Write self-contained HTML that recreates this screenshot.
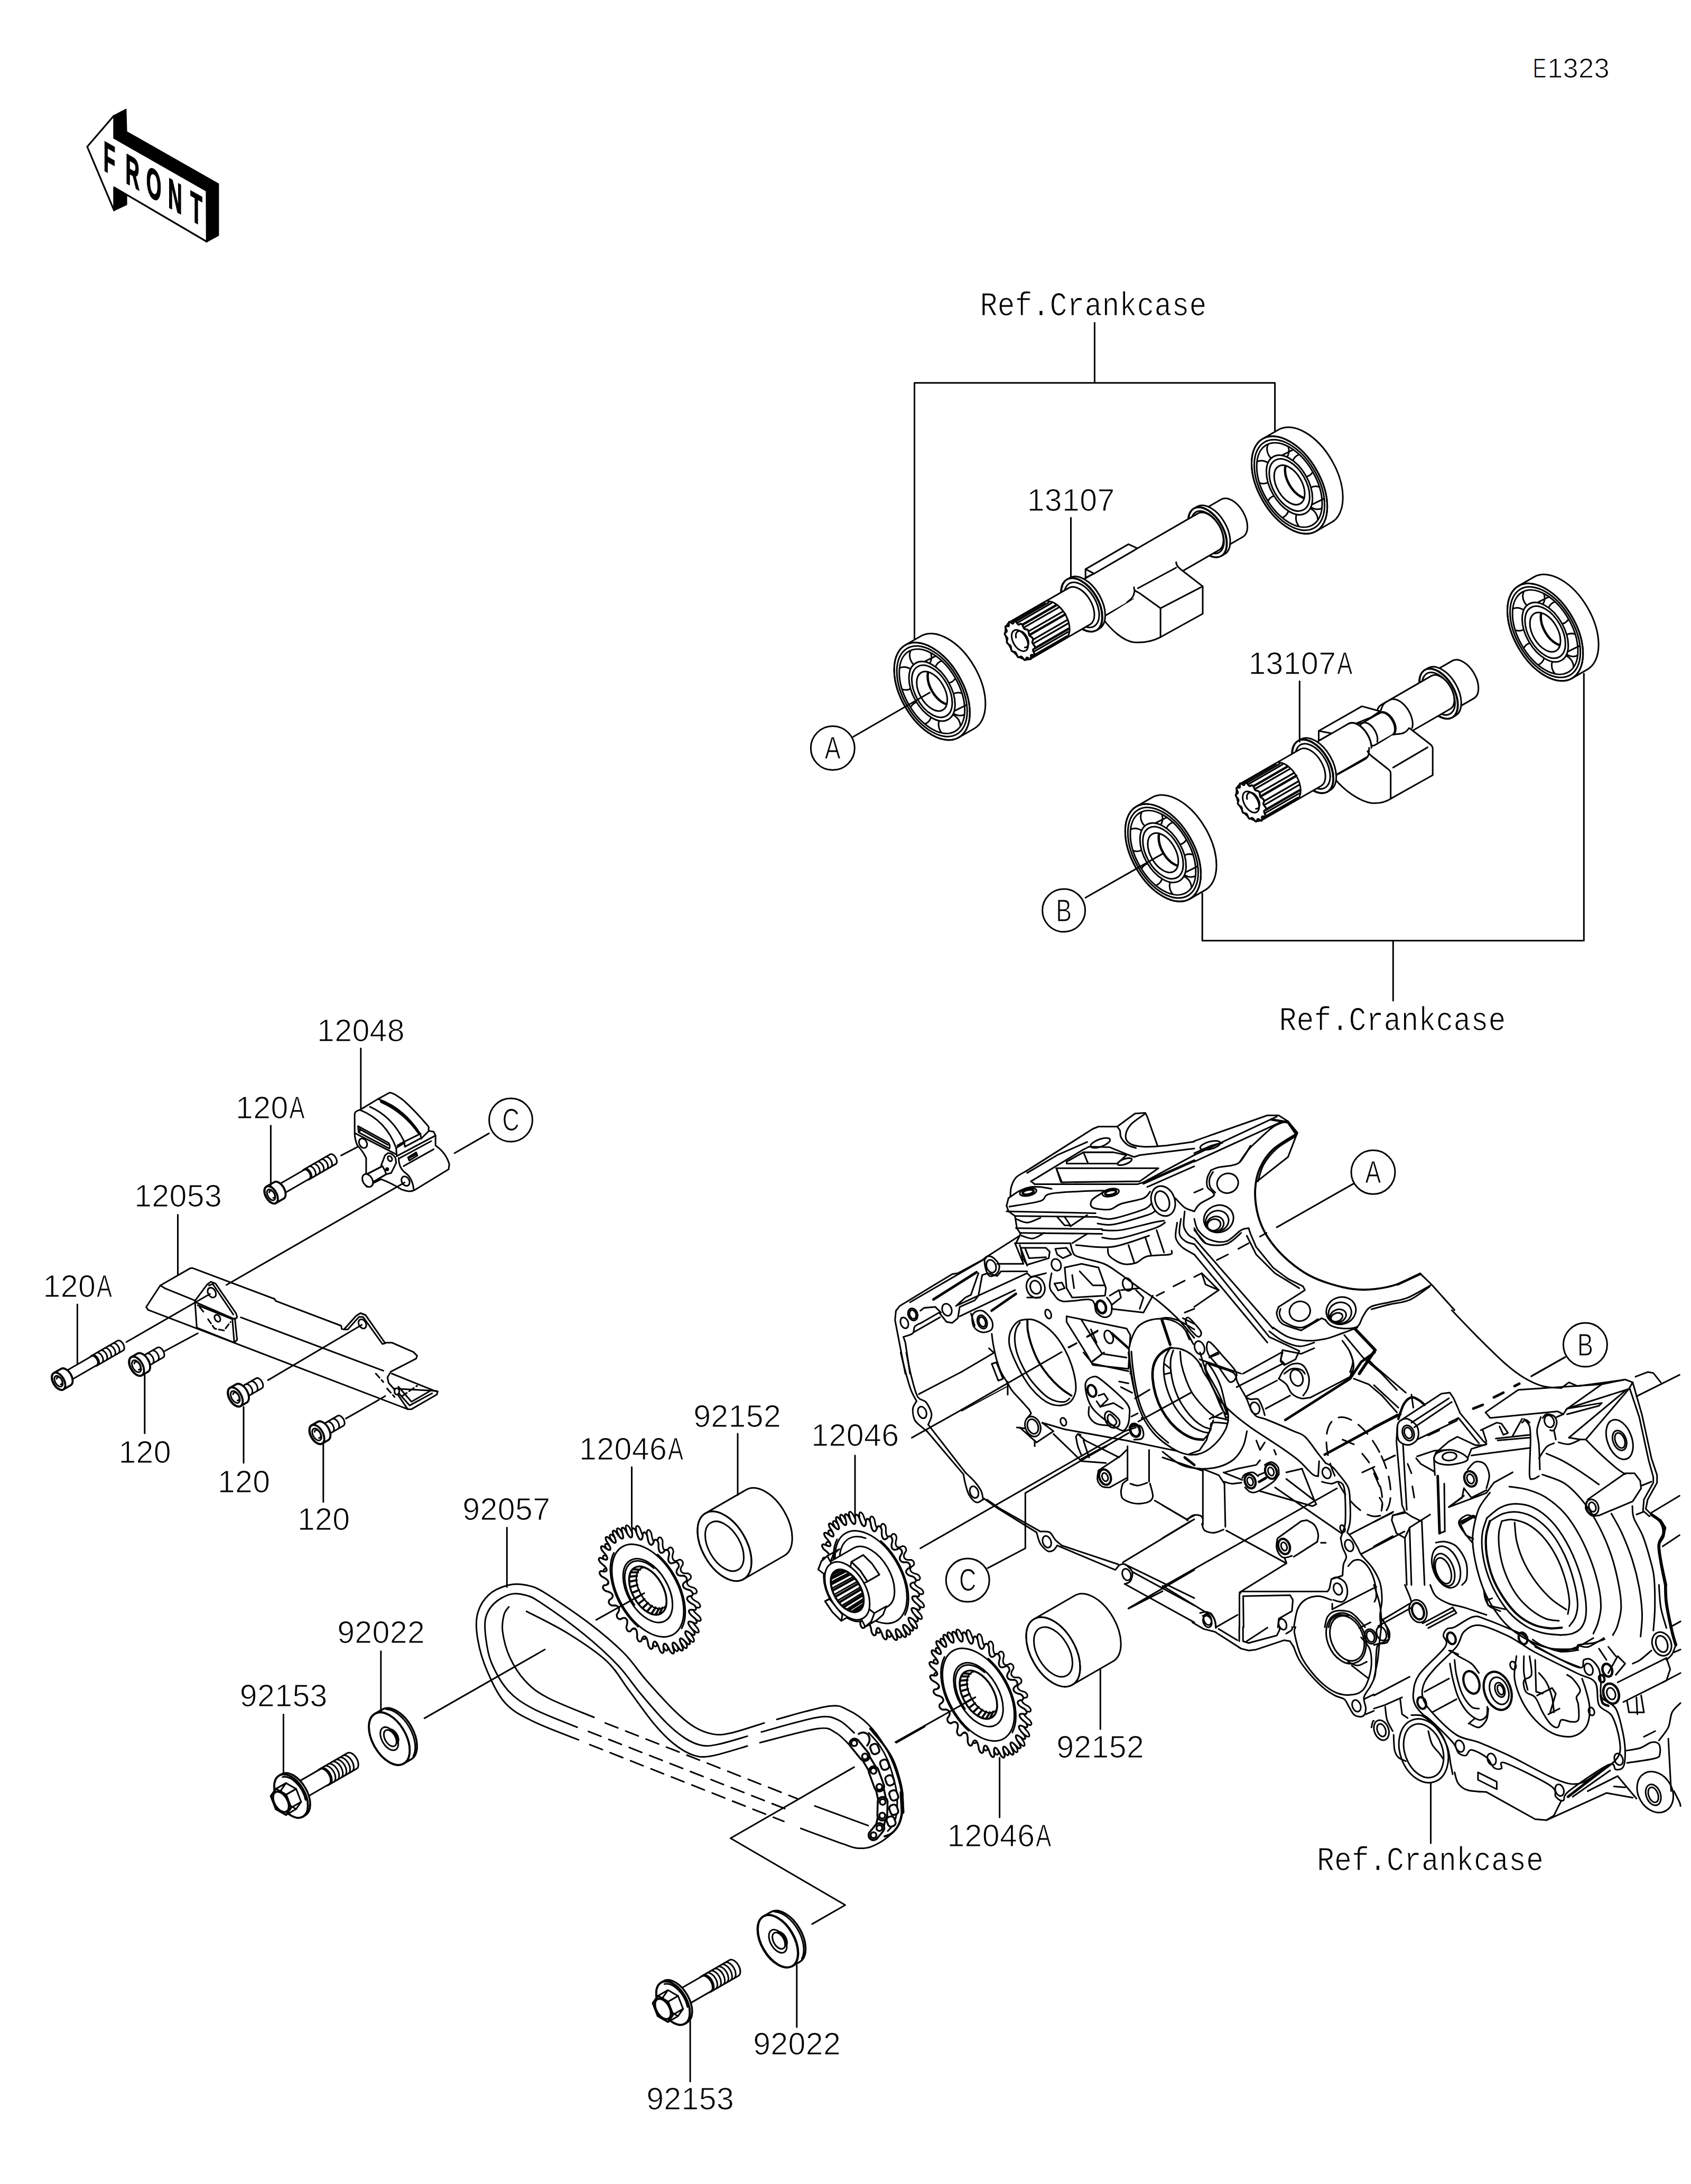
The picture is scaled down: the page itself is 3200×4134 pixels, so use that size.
<!DOCTYPE html>
<html><head><meta charset="utf-8"><title>E1323</title>
<style>
html,body{margin:0;padding:0;background:#fff}
body{width:3200px;height:4134px;overflow:hidden}
svg{display:block}
svg *{vector-effect:none}
.g{fill:none;stroke:#000;stroke-width:3;stroke-linecap:round;stroke-linejoin:round}
text{stroke:#fff;stroke-width:1.2px;fill:#000;stroke-linejoin:miter}
.n{font-family:"Liberation Sans",sans-serif;font-size:59px;letter-spacing:0.4px}
.m{font-family:"Liberation Mono",monospace;font-size:63px}
.c{font-family:"Liberation Sans",sans-serif;font-size:59px}
.f{font-family:"Liberation Sans",sans-serif;font-weight:bold;font-size:80px;stroke:#000;stroke-width:2px}
</style></head><body>
<svg width="3200" height="4134" viewBox="0 0 3200 4134">
<rect width="3200" height="4134" fill="#fff"/>
<g class="g">
<path d="M215.9 218.6L238.4 206.8L239.6 249.3L413.4 348.2L413.4 445.7L391.4 457.5L391 361.2L215.9 261.2Z" stroke-width="2" fill="#000"/>
<path d="M215.9 354.6L239.6 368.8L239.6 387.3L215.9 398.4Z" stroke-width="2" fill="#000"/>
<path d="M165 277.7L215.9 218.6L215.9 261.2L391 361.2L391.4 457.5L215.9 354.6L215.9 398.4Z" stroke-width="3.2" fill="#fff"/>
<text transform="matrix(0.46,0.2629,0,1,207,328.1)" x="0" y="0" text-anchor="middle" class="f">F</text>
<text transform="matrix(0.46,0.2629,0,1,250.8,353.1)" x="0" y="0" text-anchor="middle" class="f">R</text>
<text transform="matrix(0.46,0.2629,0,1,291,376.1)" x="0" y="0" text-anchor="middle" class="f">O</text>
<text transform="matrix(0.46,0.2629,0,1,331.2,399.1)" x="0" y="0" text-anchor="middle" class="f">N</text>
<text transform="matrix(0.46,0.2629,0,1,371.5,422.1)" x="0" y="0" text-anchor="middle" class="f">T</text>
<path d="M2389.6 830.5L2419.1 813.5A58.6 101 -30 0 1 2520.1 988.5L2490.6 1005.5A58.6 101 -30 0 1 2389.6 830.5Z" fill="#fff"/>
<path d="M2389.6 830.5A58.6 101 -30 0 1 2490.6 1005.5"/>
<ellipse cx="2440.1" cy="918" rx="58.6" ry="101" transform="rotate(-30 2440.1 918)"/>
<ellipse cx="2440.1" cy="918" rx="54.5" ry="93.9" transform="rotate(-30 2440.1 918)"/>
<ellipse cx="2440.1" cy="918" rx="50.7" ry="87.4" transform="rotate(-30 2440.1 918)"/>
<clipPath id="bc1"><ellipse cx="2440.1" cy="918" rx="50.7" ry="87.4" transform="rotate(-30 2440.1 918)"/></clipPath>
<g clip-path="url(#bc1)">
<ellipse cx="2418.4" cy="851.6" rx="20.2" ry="22.2" transform="rotate(-30 2418.4 851.6)"/>
<ellipse cx="2466" cy="881.3" rx="20.2" ry="22.2" transform="rotate(-30 2466 881.3)"/>
<ellipse cx="2491.5" cy="942.3" rx="20.2" ry="22.2" transform="rotate(-30 2491.5 942.3)"/>
<ellipse cx="2473.1" cy="982.6" rx="20.2" ry="22.2" transform="rotate(-30 2473.1 982.6)"/>
<ellipse cx="2418.2" cy="959.4" rx="20.2" ry="22.2" transform="rotate(-30 2418.2 959.4)"/>
<ellipse cx="2388.8" cy="893.7" rx="20.2" ry="22.2" transform="rotate(-30 2388.8 893.7)"/>
</g>
<ellipse cx="2440.1" cy="918" rx="35.7" ry="61.6" transform="rotate(-30 2440.1 918)" fill="#fff"/>
<ellipse cx="2440.1" cy="918" rx="31.3" ry="54" transform="rotate(-30 2440.1 918)"/>
<ellipse cx="2440.1" cy="918" rx="23.7" ry="40.9" transform="rotate(-30 2440.1 918)"/>
<clipPath id="bb1"><ellipse cx="2440.1" cy="918" rx="23.7" ry="40.9" transform="rotate(-30 2440.1 918)"/></clipPath>
<g clip-path="url(#bb1)">
<ellipse cx="2460.7" cy="906.1" rx="23.7" ry="40.9" transform="rotate(-30 2460.7 906.1)" stroke-width="4.5"/>
</g>
<path d="M2425.3 862.1L2447.3 851.1"/>
<path d="M2482.3 955.3L2504.3 944.3"/>
<path d="M2271.5 968L2311.4 945A23.8 41 -30 0 1 2352.4 1016L2312.5 1039A23.8 41 -30 0 1 2271.5 968Z" fill="#fff"/>
<path d="M2259.1 962.5L2266 958.5A30.2 52 -30 0 1 2318 1048.5L2311.1 1052.5A30.2 52 -30 0 1 2259.1 962.5Z" fill="#fff"/>
<path d="M2259.1 962.5A30.2 52 -30 0 1 2311.1 1052.5"/>
<ellipse cx="2285.1" cy="1007.5" rx="30.2" ry="52" transform="rotate(-30 2285.1 1007.5)"/>
<path d="M2254.9 999.5A25.5 44 -30 1 1 2290.4 1046"/>
<path d="M2032.1 1107.4L2267.7 971.4A23.2 40 -30 0 1 2307.7 1040.6L2072.1 1176.6A23.2 40 -30 0 1 2032.1 1107.4Z" fill="#fff"/>
<path d="M2054.2 1077.4L2135.5 1030.1L2151.8 1037.5L2145.9 1041.9L2070.5 1085.7Z" fill="#fff"/>
<path d="M2054.2 1077.4L2054.2 1093.7L2070.5 1085.7"/>
<path d="M2145.9 1111.4L2153.3 1113.5L2225.7 1074.5L2225.7 1064.1C2225.7 1073 2234.6 1077.4 2243.5 1084.8L2276 1109.9L2276 1161.7L2196.1 1206C2190.2 1209 2175.5 1217.9 2145.9 1215.8C2125.2 1213.4 2101.5 1191.2 2086.7 1170.5L2145.9 1133.6Z" fill="#fff" stroke="none"/>
<path d="M2225.7 1064.1C2225.7 1073 2234.6 1077.4 2243.5 1084.8L2276 1109.9L2276 1161.7L2196.1 1206C2190.2 1209 2175.5 1217.9 2145.9 1215.8C2125.2 1213.4 2101.5 1191.2 2086.7 1170.5"/>
<path d="M2276 1109.9L2196.1 1151.3L2196.1 1206"/>
<path d="M2145.9 1111.4C2145.9 1120.3 2151.8 1118.8 2159.2 1124.7L2196.1 1151.3"/>
<path d="M2146.8 1118.8C2145.9 1129.2 2141.4 1133.6 2132.6 1140.1"/>
<path d="M2153.3 1113.5L2225.7 1074.5"/>
<path d="M2019.1 1096.8L2025.1 1093.3A32.3 55.7 -30 0 1 2080.8 1189.7L2074.8 1193.2A32.3 55.7 -30 0 1 2019.1 1096.8Z" fill="#fff"/>
<path d="M2019.1 1096.8A32.3 55.7 -30 0 1 2074.8 1193.2"/>
<ellipse cx="2046.9" cy="1145" rx="32.3" ry="55.7" transform="rotate(-30 2046.9 1145)"/>
<path d="M2014.9 1136.5A27.1 46.7 -30 1 1 2052.6 1185.9"/>
<path d="M1910 1177.9L2023.5 1112.4A23.2 40 -30 0 1 2063.5 1181.6L1950 1247.1A23.2 40 -30 0 1 1910 1177.9Z" fill="#fff"/>
<path d="M1914.6 1176.2L1976.4 1140.5" stroke-width="4.5"/>
<path d="M1921.8 1176.5L1984.4 1140.3" stroke-width="3.2"/>
<path d="M1926.6 1178.1L1989.7 1141.6" stroke-width="3.2"/>
<path d="M1934.5 1182.8L1998.5 1145.8" stroke-width="4.5"/>
<path d="M1939.3 1186.9L2003.8 1149.7" stroke-width="3.2"/>
<path d="M1946.3 1195.1L2011.6 1157.4" stroke-width="3.2"/>
<path d="M1950.1 1200.9L2015.9 1162.9" stroke-width="4.5"/>
<path d="M1954.8 1210.9L2019.8 1173.4" stroke-width="3.2"/>
<path d="M1956.8 1217.3L2021.3 1180" stroke-width="3.2"/>
<path d="M1958.3 1227.1L2022 1190.3" stroke-width="4.5"/>
<path d="M1958.1 1232.7L2021.3 1196.2" stroke-width="3.2"/>
<path d="M1956.1 1240.3L2018.4 1204.3" stroke-width="3.2"/>
<path d="M1953.8 1244L2015.5 1208.3" stroke-width="4.5"/>
<path d="M1983 1138A23.2 40 -30 0 1 2018.4 1207.2"/>
<path d="M1909.6 1177.2L1911.2 1177.3L1913.3 1178.6L1915.3 1180L1916.8 1180.5L1917.7 1179.6L1918.4 1177.8L1919.2 1176.1L1920.5 1175.5L1922.2 1176.6L1924.1 1178.8L1925.8 1181L1927.3 1182.3L1928.6 1182.3L1930.1 1181.4L1931.7 1180.8L1933.3 1181.2L1934.8 1183L1936.1 1185.7L1937.1 1188.3L1938.3 1190.1L1939.8 1190.9L1941.8 1191.2L1943.8 1191.8L1945.5 1193.1L1946.5 1195.3L1946.9 1197.9L1947.1 1200.3L1947.7 1202.3L1949.1 1203.8L1951.1 1205.2L1953.2 1206.9L1954.5 1208.8L1954.8 1210.9L1954.3 1213L1953.6 1214.8L1953.6 1216.5L1954.6 1218.4L1956.3 1220.7L1958 1223.1L1958.8 1225.3L1958.3 1226.9L1957 1228L1955.5 1228.8L1954.8 1230L1955.2 1231.9L1956.3 1234.5L1957.2 1237.2L1957.3 1239.2L1956.2 1240.1L1954.3 1239.9L1952.3 1239.6L1951.1 1239.9L1950.8 1241.5L1951 1244L1951.1 1246.4L1950.4 1247.8L1948.9 1247.7L1946.8 1246.4L1944.7 1245L1943.2 1244.5L1942.3 1245.4L1941.6 1247.2L1940.8 1248.9L1939.5 1249.5L1937.8 1248.4L1936 1246.2L1934.2 1244L1932.8 1242.7L1931.4 1242.7L1930 1243.6L1928.4 1244.2L1926.7 1243.8L1925.2 1242L1924 1239.3L1922.9 1236.7L1921.7 1234.9L1920.2 1234.1L1918.3 1233.8L1916.3 1233.2L1914.6 1231.9L1913.6 1229.7L1913.2 1227.1L1913 1224.7L1912.3 1222.7L1910.9 1221.2L1908.9 1219.8L1906.9 1218.1L1905.5 1216.2L1905.2 1214.1L1905.7 1212L1906.4 1210.2L1906.5 1208.5L1905.5 1206.6L1903.7 1204.3L1902.1 1201.9L1901.3 1199.7L1901.7 1198.1L1903.1 1197L1904.5 1196.2L1905.2 1195L1904.9 1193.1L1903.8 1190.5L1902.8 1187.8L1902.7 1185.8L1903.9 1184.9L1905.8 1185.1L1907.7 1185.4L1908.9 1185.1L1909.2 1183.5L1909 1181L1908.9 1178.6L1909.6 1177.2Z" stroke-width="3.6" fill="#fff"/>
<ellipse cx="1930" cy="1212.5" rx="12.8" ry="22" transform="rotate(-30 1930 1212.5)"/>
<path d="M1922.7 1206.9A9.9 17 -30 1 1 1939.4 1225.5"/>
<path d="M1713.2 1221L1742.7 1204A58.6 101 -30 0 1 1843.7 1379L1814.2 1396A58.6 101 -30 0 1 1713.2 1221Z" fill="#fff"/>
<path d="M1713.2 1221A58.6 101 -30 0 1 1814.2 1396"/>
<ellipse cx="1763.7" cy="1308.5" rx="58.6" ry="101" transform="rotate(-30 1763.7 1308.5)"/>
<ellipse cx="1763.7" cy="1308.5" rx="54.5" ry="93.9" transform="rotate(-30 1763.7 1308.5)"/>
<ellipse cx="1763.7" cy="1308.5" rx="50.7" ry="87.4" transform="rotate(-30 1763.7 1308.5)"/>
<clipPath id="bc2"><ellipse cx="1763.7" cy="1308.5" rx="50.7" ry="87.4" transform="rotate(-30 1763.7 1308.5)"/></clipPath>
<g clip-path="url(#bc2)">
<ellipse cx="1742.1" cy="1242.1" rx="20.2" ry="22.2" transform="rotate(-30 1742.1 1242.1)"/>
<ellipse cx="1789.6" cy="1271.8" rx="20.2" ry="22.2" transform="rotate(-30 1789.6 1271.8)"/>
<ellipse cx="1815.1" cy="1332.8" rx="20.2" ry="22.2" transform="rotate(-30 1815.1 1332.8)"/>
<ellipse cx="1796.8" cy="1373.1" rx="20.2" ry="22.2" transform="rotate(-30 1796.8 1373.1)"/>
<ellipse cx="1741.9" cy="1349.9" rx="20.2" ry="22.2" transform="rotate(-30 1741.9 1349.9)"/>
<ellipse cx="1712.4" cy="1284.2" rx="20.2" ry="22.2" transform="rotate(-30 1712.4 1284.2)"/>
</g>
<ellipse cx="1763.7" cy="1308.5" rx="35.7" ry="61.6" transform="rotate(-30 1763.7 1308.5)" fill="#fff"/>
<ellipse cx="1763.7" cy="1308.5" rx="31.3" ry="54" transform="rotate(-30 1763.7 1308.5)"/>
<ellipse cx="1763.7" cy="1308.5" rx="23.7" ry="40.9" transform="rotate(-30 1763.7 1308.5)"/>
<clipPath id="bb2"><ellipse cx="1763.7" cy="1308.5" rx="23.7" ry="40.9" transform="rotate(-30 1763.7 1308.5)"/></clipPath>
<g clip-path="url(#bb2)">
<ellipse cx="1784.4" cy="1296.6" rx="23.7" ry="40.9" transform="rotate(-30 1784.4 1296.6)" stroke-width="4.5"/>
</g>
<path d="M1748.9 1252.6L1770.9 1241.6"/>
<path d="M1805.9 1345.8L1827.9 1334.8"/>
<path d="M2873.6 1109.1L2903 1092.1A58.6 101 -30 0 1 3004 1267.1L2974.6 1284.1A58.6 101 -30 0 1 2873.6 1109.1Z" fill="#fff"/>
<path d="M2873.6 1109.1A58.6 101 -30 0 1 2974.6 1284.1"/>
<ellipse cx="2924.1" cy="1196.6" rx="58.6" ry="101" transform="rotate(-30 2924.1 1196.6)"/>
<ellipse cx="2924.1" cy="1196.6" rx="54.5" ry="93.9" transform="rotate(-30 2924.1 1196.6)"/>
<ellipse cx="2924.1" cy="1196.6" rx="50.7" ry="87.4" transform="rotate(-30 2924.1 1196.6)"/>
<clipPath id="bc3"><ellipse cx="2924.1" cy="1196.6" rx="50.7" ry="87.4" transform="rotate(-30 2924.1 1196.6)"/></clipPath>
<g clip-path="url(#bc3)">
<ellipse cx="2902.4" cy="1130.2" rx="20.2" ry="22.2" transform="rotate(-30 2902.4 1130.2)"/>
<ellipse cx="2949.9" cy="1159.9" rx="20.2" ry="22.2" transform="rotate(-30 2949.9 1159.9)"/>
<ellipse cx="2975.4" cy="1220.9" rx="20.2" ry="22.2" transform="rotate(-30 2975.4 1220.9)"/>
<ellipse cx="2957.1" cy="1261.2" rx="20.2" ry="22.2" transform="rotate(-30 2957.1 1261.2)"/>
<ellipse cx="2902.2" cy="1238" rx="20.2" ry="22.2" transform="rotate(-30 2902.2 1238)"/>
<ellipse cx="2872.7" cy="1172.3" rx="20.2" ry="22.2" transform="rotate(-30 2872.7 1172.3)"/>
</g>
<ellipse cx="2924.1" cy="1196.6" rx="35.7" ry="61.6" transform="rotate(-30 2924.1 1196.6)" fill="#fff"/>
<ellipse cx="2924.1" cy="1196.6" rx="31.3" ry="54" transform="rotate(-30 2924.1 1196.6)"/>
<ellipse cx="2924.1" cy="1196.6" rx="23.7" ry="40.9" transform="rotate(-30 2924.1 1196.6)"/>
<clipPath id="bb3"><ellipse cx="2924.1" cy="1196.6" rx="23.7" ry="40.9" transform="rotate(-30 2924.1 1196.6)"/></clipPath>
<g clip-path="url(#bb3)">
<ellipse cx="2944.7" cy="1184.7" rx="23.7" ry="40.9" transform="rotate(-30 2944.7 1184.7)" stroke-width="4.5"/>
</g>
<path d="M2909.2 1140.7L2931.2 1129.7"/>
<path d="M2966.2 1233.9L2988.2 1222.9"/>
<path d="M2708.7 1273.6L2748.6 1250.6A23.8 41 -30 0 1 2789.6 1321.6L2749.7 1344.6A23.8 41 -30 0 1 2708.7 1273.6Z" fill="#fff"/>
<path d="M2696.3 1268.1L2703.2 1264.1A30.2 52 -30 0 1 2755.2 1354.1L2748.3 1358.1A30.2 52 -30 0 1 2696.3 1268.1Z" fill="#fff"/>
<path d="M2696.3 1268.1A30.2 52 -30 0 1 2748.3 1358.1"/>
<ellipse cx="2722.3" cy="1313.1" rx="30.2" ry="52" transform="rotate(-30 2722.3 1313.1)"/>
<path d="M2692.1 1305.1A25.5 44 -30 1 1 2727.6 1351.6"/>
<path d="M2613.4 1334.4L2708.6 1279.4A20.9 36 -30 0 1 2744.6 1341.8L2649.4 1396.8A20.9 36 -30 0 1 2613.4 1334.4Z" fill="#fff"/>
<path d="M2629.8 1324.9A20.9 36 -30 0 1 2672.4 1377.9"/>
<path d="M2495.5 1383.5L2577.3 1336.9L2611.5 1346.3L2594.9 1357.6L2520.4 1388.3Z" fill="#fff"/>
<path d="M2495.5 1383.5L2495.5 1402.1L2520.4 1388.3"/>
<path d="M2610.4 1349.4C2615.6 1343.1 2613.5 1334.9 2621.8 1329.7"/>
<path d="M2577.8 1368.8L2612.4 1348.8A13.9 24 -30 0 1 2636.4 1390.4L2601.8 1410.4A13.9 24 -30 0 1 2577.8 1368.8Z" fill="#fff"/>
<path d="M2608.8 1351.3A13.9 24 -30 1 1 2634.7 1391.4"/>
<path d="M2551.9 1369.9L2577.8 1368.8"/>
<path d="M2576.8 1369.5A13.9 24 -30 0 1 2606.2 1404.1"/>
<path d="M2471.3 1416.4L2551.9 1369.9A20.9 36 -30 0 1 2587.9 1432.3L2507.3 1478.8A20.9 36 -30 0 1 2471.3 1416.4Z" fill="#fff"/>
<path d="M2551.9 1369.9A20.9 36 -30 0 1 2594.5 1422.9"/>
<path d="M2587.7 1421.8L2636.3 1390.8L2667.3 1378.3L2704.6 1407.3C2708.7 1410.4 2711.2 1412.5 2711.2 1416.6L2711.2 1467.3L2631.7 1511.9C2623.9 1517 2611.5 1521.2 2594.9 1520.1C2574.2 1517 2545.2 1498.4 2524.5 1472.5L2584.5 1436.3L2590.8 1428Z" fill="#fff" stroke="none"/>
<path d="M2667.3 1378.3L2704.6 1407.3C2708.7 1410.4 2711.2 1412.5 2711.2 1416.6L2711.2 1467.3L2631.7 1511.9C2623.9 1517 2611.5 1521.2 2594.9 1520.1C2574.2 1517 2545.2 1498.4 2524.5 1472.5"/>
<path d="M2587.7 1421.8C2590.8 1428 2592.8 1429.1 2597 1432.2L2627 1456C2630.1 1458 2631.7 1460.1 2631.7 1464.2L2631.7 1511.9"/>
<path d="M2636.3 1452.9L2701.5 1414.6"/>
<path d="M2524.5 1469.4C2553.5 1453.9 2574.2 1442.5 2584.5 1436.3C2588.7 1433.2 2590.8 1430.1 2590.8 1415.6"/>
<path d="M2636.3 1390.8C2644.6 1387.7 2657 1392.8 2666.3 1378.3C2666.3 1378.3 2666.3 1378.3 2666.3 1378.3"/>
<path d="M2456.3 1402.4L2462.3 1398.9A32.3 55.7 -30 0 1 2518 1495.3L2512 1498.8A32.3 55.7 -30 0 1 2456.3 1402.4Z" fill="#fff"/>
<path d="M2456.3 1402.4A32.3 55.7 -30 0 1 2512 1498.8"/>
<ellipse cx="2484.1" cy="1450.6" rx="32.3" ry="55.7" transform="rotate(-30 2484.1 1450.6)"/>
<path d="M2452.1 1442.1A27.1 46.7 -30 1 1 2489.8 1491.5"/>
<path d="M2347.2 1483.5L2460.7 1418A23.2 40 -30 0 1 2500.7 1487.2L2387.2 1552.7A23.2 40 -30 0 1 2347.2 1483.5Z" fill="#fff"/>
<path d="M2351.8 1481.8L2413.6 1446.1" stroke-width="4.5"/>
<path d="M2359 1482.1L2421.6 1445.9" stroke-width="3.2"/>
<path d="M2363.8 1483.7L2426.9 1447.2" stroke-width="3.2"/>
<path d="M2371.7 1488.4L2435.7 1451.4" stroke-width="4.5"/>
<path d="M2376.5 1492.5L2441 1455.3" stroke-width="3.2"/>
<path d="M2383.5 1500.7L2448.8 1463" stroke-width="3.2"/>
<path d="M2387.3 1506.5L2453.1 1468.5" stroke-width="4.5"/>
<path d="M2392 1516.5L2457 1479" stroke-width="3.2"/>
<path d="M2394 1522.9L2458.5 1485.6" stroke-width="3.2"/>
<path d="M2395.5 1532.7L2459.2 1495.9" stroke-width="4.5"/>
<path d="M2395.3 1538.3L2458.5 1501.8" stroke-width="3.2"/>
<path d="M2393.3 1545.9L2455.6 1509.9" stroke-width="3.2"/>
<path d="M2391 1549.6L2452.7 1513.9" stroke-width="4.5"/>
<path d="M2420.2 1443.6A23.2 40 -30 0 1 2455.6 1512.8"/>
<path d="M2346.8 1482.8L2348.4 1482.9L2350.5 1484.2L2352.5 1485.6L2354 1486.1L2354.9 1485.2L2355.6 1483.4L2356.4 1481.7L2357.7 1481.1L2359.4 1482.2L2361.3 1484.4L2363 1486.6L2364.5 1487.9L2365.8 1487.9L2367.3 1487L2368.9 1486.4L2370.5 1486.8L2372 1488.6L2373.3 1491.3L2374.3 1493.9L2375.5 1495.7L2377 1496.5L2379 1496.8L2381 1497.4L2382.7 1498.7L2383.7 1500.9L2384.1 1503.5L2384.3 1505.9L2384.9 1507.9L2386.3 1509.4L2388.3 1510.8L2390.4 1512.5L2391.7 1514.4L2392 1516.5L2391.5 1518.6L2390.8 1520.4L2390.8 1522.1L2391.8 1524L2393.5 1526.3L2395.2 1528.7L2396 1530.9L2395.5 1532.5L2394.2 1533.6L2392.7 1534.4L2392 1535.6L2392.4 1537.5L2393.5 1540.1L2394.4 1542.8L2394.5 1544.8L2393.4 1545.7L2391.5 1545.5L2389.5 1545.2L2388.3 1545.5L2388 1547.1L2388.2 1549.6L2388.3 1552L2387.6 1553.4L2386.1 1553.3L2384 1552L2381.9 1550.6L2380.4 1550.1L2379.5 1551L2378.8 1552.8L2378 1554.5L2376.7 1555.1L2375 1554L2373.2 1551.8L2371.4 1549.6L2370 1548.3L2368.6 1548.3L2367.2 1549.2L2365.6 1549.8L2363.9 1549.4L2362.4 1547.6L2361.2 1544.9L2360.1 1542.3L2358.9 1540.5L2357.4 1539.7L2355.5 1539.4L2353.5 1538.8L2351.8 1537.5L2350.8 1535.3L2350.4 1532.7L2350.2 1530.3L2349.5 1528.3L2348.1 1526.8L2346.1 1525.4L2344.1 1523.7L2342.7 1521.8L2342.4 1519.7L2342.9 1517.6L2343.6 1515.8L2343.7 1514.1L2342.7 1512.2L2340.9 1509.9L2339.3 1507.5L2338.5 1505.3L2338.9 1503.7L2340.3 1502.6L2341.7 1501.8L2342.4 1500.6L2342.1 1498.7L2341 1496.1L2340 1493.4L2339.9 1491.4L2341.1 1490.5L2343 1490.7L2344.9 1491L2346.1 1490.7L2346.4 1489.1L2346.2 1486.6L2346.1 1484.2L2346.8 1482.8Z" stroke-width="3.6" fill="#fff"/>
<ellipse cx="2367.2" cy="1518.1" rx="12.8" ry="22" transform="rotate(-30 2367.2 1518.1)"/>
<path d="M2359.9 1512.5A9.9 17 -30 1 1 2376.6 1531.1"/>
<path d="M2150.4 1526.6L2179.9 1509.6A58.6 101 -30 0 1 2280.9 1684.6L2251.4 1701.6A58.6 101 -30 0 1 2150.4 1526.6Z" fill="#fff"/>
<path d="M2150.4 1526.6A58.6 101 -30 0 1 2251.4 1701.6"/>
<ellipse cx="2200.9" cy="1614.1" rx="58.6" ry="101" transform="rotate(-30 2200.9 1614.1)"/>
<ellipse cx="2200.9" cy="1614.1" rx="54.5" ry="93.9" transform="rotate(-30 2200.9 1614.1)"/>
<ellipse cx="2200.9" cy="1614.1" rx="50.7" ry="87.4" transform="rotate(-30 2200.9 1614.1)"/>
<clipPath id="bc4"><ellipse cx="2200.9" cy="1614.1" rx="50.7" ry="87.4" transform="rotate(-30 2200.9 1614.1)"/></clipPath>
<g clip-path="url(#bc4)">
<ellipse cx="2179.3" cy="1547.7" rx="20.2" ry="22.2" transform="rotate(-30 2179.3 1547.7)"/>
<ellipse cx="2226.8" cy="1577.4" rx="20.2" ry="22.2" transform="rotate(-30 2226.8 1577.4)"/>
<ellipse cx="2252.3" cy="1638.4" rx="20.2" ry="22.2" transform="rotate(-30 2252.3 1638.4)"/>
<ellipse cx="2234" cy="1678.7" rx="20.2" ry="22.2" transform="rotate(-30 2234 1678.7)"/>
<ellipse cx="2179.1" cy="1655.5" rx="20.2" ry="22.2" transform="rotate(-30 2179.1 1655.5)"/>
<ellipse cx="2149.6" cy="1589.8" rx="20.2" ry="22.2" transform="rotate(-30 2149.6 1589.8)"/>
</g>
<ellipse cx="2200.9" cy="1614.1" rx="35.7" ry="61.6" transform="rotate(-30 2200.9 1614.1)" fill="#fff"/>
<ellipse cx="2200.9" cy="1614.1" rx="31.3" ry="54" transform="rotate(-30 2200.9 1614.1)"/>
<ellipse cx="2200.9" cy="1614.1" rx="23.7" ry="40.9" transform="rotate(-30 2200.9 1614.1)"/>
<clipPath id="bb4"><ellipse cx="2200.9" cy="1614.1" rx="23.7" ry="40.9" transform="rotate(-30 2200.9 1614.1)"/></clipPath>
<g clip-path="url(#bb4)">
<ellipse cx="2221.6" cy="1602.2" rx="23.7" ry="40.9" transform="rotate(-30 2221.6 1602.2)" stroke-width="4.5"/>
</g>
<path d="M2186.1 1558.2L2208.1 1547.2"/>
<path d="M2243.1 1651.4L2265.1 1640.4"/>
<path d="M2071.4 611L2071.4 724.7"/>
<path d="M1730.5 1210L1730.5 724.7L2412.6 724.7L2412.6 817"/>
<path d="M2275.2 1691L2275.2 1780.5L2997.3 1780.5L2997.3 1275"/>
<path d="M2636.3 1780.5L2636.3 1894"/>
<circle cx="1575.8" cy="1416.1" r="41.5"/>
<path d="M1614.4 1394.8L1759.4 1311"/>
<circle cx="2013.1" cy="1723.3" r="40.5"/>
<path d="M2054 1699.2L2200.4 1615.9"/>
<path d="M2026.5 980L2026.5 1095"/>
<path d="M2459.3 1289.4L2459.3 1404"/>
<text x="683" y="1970.6" class="n" text-anchor="middle">12048</text>
<text x="446" y="2116.5" class="n">120</text>
<text transform="translate(562.2 2116.5) scale(0.74 1)" class="n" text-anchor="middle">A</text>
<text x="337.2" y="2283.5" class="n" text-anchor="middle">12053</text>
<text x="81.6" y="2455" class="n">120</text>
<text transform="translate(197.8 2455) scale(0.74 1)" class="n" text-anchor="middle">A</text>
<text x="274.2" y="2768.5" class="n" text-anchor="middle">120</text>
<text x="461.7" y="2824.5" class="n" text-anchor="middle">120</text>
<text x="612.7" y="2896" class="n" text-anchor="middle">120</text>
<text x="958.4" y="2877.4" class="n" text-anchor="middle">92057</text>
<text x="1395.2" y="2700.6" class="n" text-anchor="middle">92152</text>
<text x="1096.1" y="2763" class="n">12046</text>
<text transform="translate(1278.7 2763) scale(0.74 1)" class="n" text-anchor="middle">A</text>
<text x="721.2" y="3109.5" class="n" text-anchor="middle">92022</text>
<text x="536.8" y="3230" class="n" text-anchor="middle">92153</text>
<text x="2082.2" y="3326.5" class="n" text-anchor="middle">92152</text>
<text x="1792.4" y="3494.8" class="n">12046</text>
<text transform="translate(1975 3494.8) scale(0.74 1)" class="n" text-anchor="middle">A</text>
<text x="1508.2" y="3889" class="n" text-anchor="middle">92022</text>
<text x="1306.2" y="3993.2" class="n" text-anchor="middle">92153</text>
<text x="2026.7" y="967.4" class="n" text-anchor="middle">13107</text>
<text x="2362.4" y="1275.7" class="n">13107</text>
<text transform="translate(2545 1275.7) scale(0.74 1)" class="n" text-anchor="middle">A</text>
<text transform="translate(2913.5 146.6) scale(0.74 1)" class="n" style="font-size:52.5px" text-anchor="middle">E</text>
<text x="2928.2" y="146.6" class="n" style="font-size:52.5px;letter-spacing:0.2px">1323</text>
<text transform="translate(2069 597) scale(0.873 1)" class="m" text-anchor="middle">Ref.Crankcase</text>
<text transform="translate(2635 1949.5) scale(0.873 1)" class="m" text-anchor="middle">Ref.Crankcase</text>
<text transform="translate(2706.6 3540.2) scale(0.873 1)" class="m" text-anchor="middle">Ref.Crankcase</text>
<text x="1618.4" y="2736.6" class="n" text-anchor="middle">12046</text>
<text transform="translate(1575.8 1436.4) scale(0.76 1)" class="c" text-anchor="middle">A</text>
<text transform="translate(2013.1 1743.6) scale(0.76 1)" class="c" text-anchor="middle">B</text>
<text transform="translate(966.6 2140.3) scale(0.76 1)" class="c" text-anchor="middle">C</text>
<text transform="translate(1831.2 3011.4) scale(0.76 1)" class="c" text-anchor="middle">C</text>
<g transform="translate(480 2050) scale(0.23655)" stroke-width="12.7">
<path d="M808 245Q812 225 850 215L1000 125L1085 78Q1110 72 1200 140Q1290 220 1400 350L1400 382L1440 390L1455 420L1455 500Q1540 560 1565 650L1560 690L1290 855Q1250 880 1180 850Q1100 800 1020 770L960 800L905 830L870 780L900 720L900 600Q870 540 830 500Q808 450 808 400Z" fill="#fff"/>
<path d="M850 215Q1060 300 1140 520L1145 585"/>
<path d="M930 190Q1110 270 1205 470L1210 510"/>
<path d="M1000 130Q1200 200 1335 410L1340 445"/>
<path d="M1020 150Q1200 230 1320 400" stroke-width="18"/>
<path d="M1140 520L1205 480M1210 510L1340 440M1340 445L1400 385"/>
<path d="M1150 500L1200 470M1205 470L1335 405"/>
<path d="M835 345L1080 480Q1095 500 1085 525L840 395Z"/>
<path d="M850 365L850 385M850 370L1075 495"/>
<path d="M808 400L1140 570"/>
<path d="M1145 585L1455 420M1170 600L1420 465M1200 665L1440 530M1160 600Q1160 680 1215 720Q1270 760 1280 850"/>
<path d="M1235 595L1300 555L1310 580L1245 620ZM1245 600L1300 570"/>
<ellipse cx="875" cy="482" rx="30" ry="40" transform="rotate(-30 875 482)"/>
<ellipse cx="1215" cy="785" rx="30" ry="40" transform="rotate(-30 1215 785)"/>
<path d="M1075 560Q1110 560 1135 600L1140 640L1100 720L1060 730L1020 660L1050 580Z" fill="#fff"/>
<ellipse cx="1090" cy="605" rx="16" ry="22" transform="rotate(-30 1090 605)"/>
<circle cx="1068" cy="690" r="9" fill="#000"/>
<path d="M905 730L1030 665L1050 700L1060 730L960 790Z" fill="#fff"/>
<path d="M905 730L1030 665M960 790L1060 730"/>
<ellipse cx="912" cy="780" rx="38" ry="55" transform="rotate(-30 912 780)" fill="#fff"/>
</g>
<g transform="translate(250 2380) scale(0.35482)" stroke-width="8.5">
<path d="M75 265L150 150L310 58L325 58L760 222L765 232L1115 365L1118 382L1130 385L1195 312L1218 298L1245 308L1345 455L1385 455L1500 505L1520 525L1515 540L1380 610L1362 640L1368 670L1395 700L1620 712L1630 715L1625 732L1490 810L1470 810L85 280Z" fill="#fff"/>
<path d="M175 165L335 230M580 320L1340 605"/>
<path d="M150 150L175 165"/>
<path d="M335 232L400 145L420 130L445 140L555 300L560 320L548 330L340 240Z" fill="#fff"/>
<path d="M335 232L345 375L545 455L560 440L548 325M545 455L535 335M350 255L535 330"/>
<path d="M410 150L430 142L540 305"/>
<ellipse cx="425" cy="188" rx="20" ry="28" transform="rotate(-30 425 188)"/>
<ellipse cx="455" cy="325" rx="14" ry="20" transform="rotate(-30 455 325)"/>
<path d="M405 330L440 380L490 390L525 345" stroke-dasharray="28 14"/>
<path d="M360 265L380 290"/>
<path d="M1130 385L1195 312L1218 298L1245 308L1350 458L1335 462L1232 318L1210 318L1150 385Z" fill="#fff"/>
<ellipse cx="1228" cy="355" rx="19" ry="26" transform="rotate(-30 1228 355)"/>
<path d="M1385 620L1620 715M1400 700L1480 790L1600 725M1420 690L1490 770L1585 715M1470 810L1395 700"/>
<path d="M1300 620L1340 665M1360 700L1400 745M1440 740L1520 685" stroke-dasharray="30 16"/>
<ellipse cx="1412" cy="715" rx="13" ry="17" fill="#fff"/>
<path d="M1290 775L1350 740" stroke-dasharray="30 16"/>
</g>
<path d="M574.5 2214L624.7 2185A6.1 10.6 -30 0 1 635.3 2203.4L585.1 2232.4A6.1 10.6 -30 0 1 574.5 2214Z" fill="#fff"/>
<path d="M577.3 2212.4A6.1 10.6 -30 0 1 587.9 2230.7"/>
<path d="M585.1 2207.9A6.1 10.6 -30 0 1 595.7 2226.2"/>
<path d="M592.9 2203.4A6.1 10.6 -30 0 1 603.5 2221.7"/>
<path d="M600.7 2198.9A6.1 10.6 -30 0 1 611.2 2217.2"/>
<path d="M608.5 2194.4A6.1 10.6 -30 0 1 619 2212.7"/>
<path d="M616.3 2189.9A6.1 10.6 -30 0 1 626.8 2208.2"/>
<path d="M522.9 2244.7L575.7 2214.2A5.7 9.8 -30 0 1 585.5 2231.2L532.7 2261.7A5.7 9.8 -30 0 1 522.9 2244.7Z" fill="#fff"/>
<path d="M504.1 2246.1L518.8 2237.6A10.4 18 -30 0 1 536.8 2268.8L522.1 2277.3A10.4 18 -30 0 1 504.1 2246.1Z" stroke-width="3.8" fill="#fff"/>
<ellipse cx="513.1" cy="2261.7" rx="10.4" ry="18" transform="rotate(-30 513.1 2261.7)" stroke-width="3.8"/>
<ellipse cx="513.1" cy="2261.7" rx="6.5" ry="11.2" transform="rotate(-30 513.1 2261.7)"/>
<path d="M509.5 2257.1A4.4 7.6 -30 1 1 517.1 2267.6"/>
<path d="M172.3 2566.8L222.5 2537.8A6.1 10.6 -30 0 1 233.1 2556.2L182.9 2585.2A6.1 10.6 -30 0 1 172.3 2566.8Z" fill="#fff"/>
<path d="M175.1 2565.2A6.1 10.6 -30 0 1 185.7 2583.5"/>
<path d="M182.9 2560.7A6.1 10.6 -30 0 1 193.5 2579"/>
<path d="M190.7 2556.2A6.1 10.6 -30 0 1 201.3 2574.5"/>
<path d="M198.5 2551.7A6.1 10.6 -30 0 1 209 2570"/>
<path d="M206.3 2547.2A6.1 10.6 -30 0 1 216.8 2565.5"/>
<path d="M214.1 2542.7A6.1 10.6 -30 0 1 224.6 2561"/>
<path d="M119.9 2598L173.5 2567A5.7 9.8 -30 0 1 183.3 2584L129.7 2615A5.7 9.8 -30 0 1 119.9 2598Z" fill="#fff"/>
<path d="M101.9 2598.9L115.8 2590.9A10.4 18 -30 0 1 133.8 2622.1L119.9 2630.1A10.4 18 -30 0 1 101.9 2598.9Z" stroke-width="3.8" fill="#fff"/>
<ellipse cx="110.9" cy="2614.5" rx="10.4" ry="18" transform="rotate(-30 110.9 2614.5)" stroke-width="3.8"/>
<ellipse cx="110.9" cy="2614.5" rx="6.5" ry="11.2" transform="rotate(-30 110.9 2614.5)"/>
<path d="M107.3 2609.9A4.4 7.6 -30 1 1 114.9 2620.4"/>
<path d="M265 2569.7L297.9 2550.7A6.3 10.8 -30 0 1 308.7 2569.5L275.8 2588.5A6.3 10.8 -30 0 1 265 2569.7Z" fill="#fff"/>
<path d="M268.5 2567.8A6.3 10.8 -30 0 1 279.2 2586.4"/>
<path d="M278.3 2562.1A6.3 10.8 -30 0 1 289 2580.8"/>
<path d="M288.1 2556.5A6.3 10.8 -30 0 1 298.9 2575.1"/>
<path d="M248.3 2568.8L260.4 2561.8A11.6 20 -30 0 1 280.4 2596.4L268.3 2603.4A11.6 20 -30 0 1 248.3 2568.8Z" stroke-width="3.8" fill="#fff"/>
<ellipse cx="258.3" cy="2586.1" rx="11.6" ry="20" transform="rotate(-30 258.3 2586.1)" stroke-width="3.8"/>
<ellipse cx="258.3" cy="2586.1" rx="7.2" ry="12.4" transform="rotate(-30 258.3 2586.1)"/>
<path d="M254.1 2581.1A4.9 8.4 -30 1 1 262.5 2592.8"/>
<path d="M451.9 2627.9L484.8 2608.9A6.3 10.8 -30 0 1 495.6 2627.7L462.7 2646.7A6.3 10.8 -30 0 1 451.9 2627.9Z" fill="#fff"/>
<path d="M455.4 2626A6.3 10.8 -30 0 1 466.1 2644.6"/>
<path d="M465.2 2620.3A6.3 10.8 -30 0 1 475.9 2639"/>
<path d="M475 2614.7A6.3 10.8 -30 0 1 485.8 2633.3"/>
<path d="M435.2 2627L447.3 2620A11.6 20 -30 0 1 467.3 2654.6L455.2 2661.6A11.6 20 -30 0 1 435.2 2627Z" stroke-width="3.8" fill="#fff"/>
<ellipse cx="445.2" cy="2644.3" rx="11.6" ry="20" transform="rotate(-30 445.2 2644.3)" stroke-width="3.8"/>
<ellipse cx="445.2" cy="2644.3" rx="7.2" ry="12.4" transform="rotate(-30 445.2 2644.3)"/>
<path d="M441 2639.3A4.9 8.4 -30 1 1 449.4 2651"/>
<path d="M606.2 2698.9L639.1 2679.9A6.3 10.8 -30 0 1 649.9 2698.7L617 2717.7A6.3 10.8 -30 0 1 606.2 2698.9Z" fill="#fff"/>
<path d="M609.7 2697A6.3 10.8 -30 0 1 620.4 2715.6"/>
<path d="M619.5 2691.3A6.3 10.8 -30 0 1 630.2 2710"/>
<path d="M629.3 2685.7A6.3 10.8 -30 0 1 640.1 2704.3"/>
<path d="M589.5 2698L601.6 2691A11.6 20 -30 0 1 621.6 2725.6L609.5 2732.6A11.6 20 -30 0 1 589.5 2698Z" stroke-width="3.8" fill="#fff"/>
<ellipse cx="599.5" cy="2715.3" rx="11.6" ry="20" transform="rotate(-30 599.5 2715.3)" stroke-width="3.8"/>
<ellipse cx="599.5" cy="2715.3" rx="7.2" ry="12.4" transform="rotate(-30 599.5 2715.3)"/>
<path d="M595.3 2710.3A4.9 8.4 -30 1 1 603.7 2722"/>
<path d="M765.6 2238.3L428.5 2432.2"/>
<path d="M397.3 2449.2L239.2 2540.3"/>
<path d="M645.6 2187.2L676.3 2171.1"/>
<path d="M374.2 2523.7L311.9 2557.2"/>
<path d="M684.7 2507.7L507.2 2612.4"/>
<path d="M707.7 2655L654.5 2685.1"/>
<path d="M925.2 2145.4L860.2 2182.7"/>
<circle cx="966.6" cy="2120" r="41"/>
<path d="M682.8 1984.6L682.8 2098"/>
<path d="M512.4 2130.6L512.4 2246"/>
<path d="M336.5 2299.2L336.5 2413"/>
<path d="M146.4 2468.9L146.4 2582"/>
<path d="M273.8 2602L273.8 2713"/>
<path d="M461 2663L461 2769"/>
<path d="M611.8 2731L611.8 2843"/>
<path d="M603.7 3349.3L657.4 3318.3A10 17.2 -30 0 1 674.6 3348.1L620.9 3379.1A10 17.2 -30 0 1 603.7 3349.3Z" fill="#fff"/>
<path d="M607.9 3346.9A10 17.2 -30 0 1 625.1 3376.6"/>
<path d="M614.9 3342.9A10 17.2 -30 0 1 632 3372.6"/>
<path d="M621.8 3338.9A10 17.2 -30 0 1 638.9 3368.6"/>
<path d="M628.7 3334.9A10 17.2 -30 0 1 645.9 3364.6"/>
<path d="M635.7 3330.9A10 17.2 -30 0 1 652.8 3360.6"/>
<path d="M642.6 3326.9A10 17.2 -30 0 1 659.7 3356.6"/>
<path d="M649.5 3322.9A10 17.2 -30 0 1 666.6 3352.6"/>
<path d="M547.7 3382.4L605.8 3348.9A9.6 16.5 -30 0 1 622.3 3377.5L564.2 3411A9.6 16.5 -30 0 1 547.7 3382.4Z" fill="#fff"/>
<path d="M528.3 3360.7L532.6 3358.2A26.1 45 -30 0 1 577.6 3436.2L573.3 3438.7A26.1 45 -30 0 1 528.3 3360.7Z" stroke-width="3.6" fill="#fff"/>
<path d="M528.3 3360.7A26.1 45 -30 0 1 573.3 3438.7" stroke-width="3.6"/>
<ellipse cx="550.8" cy="3399.7" rx="26.1" ry="45" transform="rotate(-30 550.8 3399.7)" stroke-width="3.6"/>
<path d="M534.6 3363.6A23.2 40 -30 0 1 578.2 3407"/>
<path d="M541.3 3375.1L560.4 3386.1L541.4 3397.1L522.2 3386.1Z" fill="#fff"/>
<path d="M560.4 3386.1L569.9 3410.7L550.9 3421.7L541.4 3397.1Z" fill="#fff"/>
<path d="M569.9 3410.7L560.3 3424.3L541.3 3435.3L550.9 3421.7Z" fill="#fff"/>
<path d="M560.3 3424.3L541.2 3413.3L522.1 3424.3L541.3 3435.3Z" fill="#fff"/>
<path d="M541.2 3413.3L531.7 3388.7L512.6 3399.7L522.1 3424.3Z" fill="#fff"/>
<path d="M531.7 3388.7L541.3 3375.1L522.2 3386.1L512.6 3399.7Z" fill="#fff"/>
<path d="M522.2 3386.1L541.4 3397.1L550.9 3421.7L541.3 3435.3L522.1 3424.3L512.6 3399.7Z" stroke-width="3.8" fill="#fff"/>
<ellipse cx="531.7" cy="3410.7" rx="12.2" ry="21" transform="rotate(-30 531.7 3410.7)" stroke-width="3.6"/>
<path d="M709.5 3243.9L723.3 3235.9A31.6 54.5 -30 0 1 777.8 3330.3L764 3338.3A31.6 54.5 -30 0 1 709.5 3243.9Z" stroke-width="3.6" fill="#fff"/>
<path d="M709.5 3243.9A31.6 54.5 -30 0 1 764 3338.3" stroke-width="3.6"/>
<ellipse cx="736.7" cy="3291.1" rx="31.6" ry="54.5" transform="rotate(-30 736.7 3291.1)" stroke-width="3.6"/>
<path d="M730.8 3235.3A31.6 54.5 -30 0 1 782.1 3324"/>
<ellipse cx="736.7" cy="3291.1" rx="13.9" ry="24" transform="rotate(-30 736.7 3291.1)"/>
<ellipse cx="738.4" cy="3290.1" rx="9.9" ry="17" transform="rotate(-30 738.4 3290.1)"/>
<path d="M736.1 3274.1A8.7 15 -30 0 1 752.3 3299.1"/>
<g transform="translate(850 2950) scale(0.53223)" stroke-width="5.6">
<path d="M460 645C433.3 634.2 343.3 601.7 300 580C256.7 558.3 227.5 545 200 515C172.5 485 151.3 437.5 135 400C118.7 362.5 107.8 323.3 102 290C96.2 256.7 93.7 226.7 100 200C106.3 173.3 121.7 147.5 140 130C158.3 112.5 187.5 100.8 210 95C232.5 89.2 253.3 90.5 275 95C296.7 99.5 302.5 99.2 340 122C377.5 144.8 453.3 196.5 500 232C546.7 267.5 586.7 301.7 620 335C653.3 368.3 670 397.8 700 432C730 466.2 771.7 512.3 800 540C828.3 567.7 846.7 583.8 870 598C893.3 612.2 917.5 621.3 940 625C962.5 628.7 975 626.7 1005 620C1035 613.3 1100.8 590.8 1120 585"/>
<path d="M1165 572C1195.8 564.2 1307.5 530.3 1350 525C1392.5 519.7 1396.7 529.2 1420 540C1443.3 550.8 1468.3 568.3 1490 590C1511.7 611.7 1533.3 641.7 1550 670C1566.7 698.3 1580 730 1590 760C1600 790 1608.3 820 1610 850C1611.7 880 1608.3 916.7 1600 940C1591.7 963.3 1576.7 975.8 1560 990C1543.3 1004.2 1518.3 1018.3 1500 1025C1481.7 1031.7 1466.7 1031.7 1450 1030C1433.3 1028.3 1433.3 1026.7 1400 1015C1366.7 1003.3 1275 969.2 1250 960"/>
<path d="M455 600C429.2 589.2 340.8 556.7 300 535C259.2 513.3 235 497.5 210 470C185 442.5 163.3 401.7 150 370C136.7 338.3 133.3 306.7 130 280C126.7 253.3 125 230 130 210C135 190 145.8 173.7 160 160C174.2 146.3 196.7 133 215 128C233.3 123 250.8 124.7 270 130C289.2 135.3 295 136.7 330 160C365 183.3 435 233.3 480 270C525 306.7 566.7 345 600 380C633.3 415 651.7 446.3 680 480C708.3 513.7 743.3 555.3 770 582C796.7 608.7 818.3 626.2 840 640C861.7 653.8 880 661.7 900 665C920 668.3 933.3 665.5 960 660C986.7 654.5 1043.3 636.7 1060 632"/>
<path d="M1110 617C1143.3 608.3 1264.2 572 1310 565C1355.8 558 1363.3 565.8 1385 575C1406.7 584.2 1430.8 612.5 1440 620"/>
<path d="M515 565C487.5 553.3 390.8 516.7 350 495C309.2 473.3 292.5 459.2 270 435C247.5 410.8 228.3 379.2 215 350C201.7 320.8 193.3 285 190 260C186.7 235 191.3 214.7 195 200C198.7 185.3 209.2 176.7 212 172"/>
<path d="M275 188C299.2 200.8 372.5 235.5 420 265C467.5 294.5 523.3 330.8 560 365C596.7 399.2 611.7 432.5 640 470C668.3 507.5 703.3 558.3 730 590C756.7 621.7 776.7 641.7 800 660C823.3 678.3 847.5 693 870 700C892.5 707 903.3 707.5 935 702C966.7 696.5 1039.2 672.8 1060 667"/>
<path d="M1105 655C1139.2 646.7 1265 610.8 1310 605C1355 599.2 1355 609.2 1375 620C1395 630.8 1420.8 661.7 1430 670"/>
<path d="M1300 880L1490 950"/>
<path d="M555 585L1240 855" stroke-dasharray="48 30"/>
<path d="M495 615L1215 898" stroke-dasharray="48 30"/>
<path d="M500 662L1190 935" stroke-dasharray="48 30"/>
</g>
<path d="M1646.8 3272.3C1650.9 3277.2 1664.5 3292.4 1671.5 3301.9C1678.5 3311.4 1683.8 3318.8 1688.8 3329.1C1693.8 3339.4 1698.1 3353.1 1701.2 3363.8C1704.3 3374.5 1706.4 3382.5 1707.4 3393.4C1708.4 3404.3 1708.4 3419.4 1707.4 3429.3C1706.4 3439.2 1704.5 3446 1701.2 3452.8C1697.9 3459.6 1692.1 3466.2 1687.6 3470.1C1683.1 3474 1676.3 3475 1674 3476" stroke-width="4"/>
<path d="M1644 3280C1647.3 3283.8 1658 3294.3 1664 3303C1670 3311.7 1675.5 3321.5 1680 3332C1684.5 3342.5 1688.2 3355.5 1691 3366C1693.8 3376.5 1696 3384.3 1697 3395C1698 3405.7 1698 3420.5 1697 3430C1696 3439.5 1693.8 3446 1691 3452C1688.2 3458 1681.8 3463.7 1680 3466" stroke-width="3"/>
<path d="M1706 3393L1708 3430" stroke-width="7"/>
<rect x="1647.9" y="3301.1" width="15" height="19" rx="6" fill="#fff" stroke-width="3.6" transform="rotate(-20 1655.4 3310.6)"/>
<rect x="1666.5" y="3330.8" width="15" height="19" rx="6" fill="#fff" stroke-width="3.6" transform="rotate(-20 1674 3340.3)"/>
<rect x="1676.4" y="3360.5" width="15" height="19" rx="6" fill="#fff" stroke-width="3.6" transform="rotate(-20 1683.9 3370)"/>
<rect x="1683.8" y="3388.9" width="15" height="19" rx="6" fill="#fff" stroke-width="3.6" transform="rotate(-20 1691.3 3398.4)"/>
<rect x="1683.8" y="3416.1" width="15" height="19" rx="6" fill="#fff" stroke-width="3.6" transform="rotate(-20 1691.3 3425.6)"/>
<rect x="1678.8" y="3438.3" width="15" height="19" rx="6" fill="#fff" stroke-width="3.6" transform="rotate(-20 1686.3 3447.8)"/>
<path d="M1630.4 3328.6L1646.5 3355.8A7.5 7.5 0 0 0 1659.5 3348.2L1643.4 3321A7.5 7.5 0 0 0 1630.4 3328.6Z" stroke-width="3.6" fill="#fff"/>
<circle cx="1636.9" cy="3324.8" r="3" stroke-width="3.6"/>
<circle cx="1653" cy="3352" r="3" stroke-width="3.6"/>
<path d="M1656.8 3383.9L1663 3412.3A7.5 7.5 0 0 0 1677.6 3409.1L1671.4 3380.7A7.5 7.5 0 0 0 1656.8 3383.9Z" stroke-width="3.6" fill="#fff"/>
<circle cx="1664.1" cy="3382.3" r="3" stroke-width="3.6"/>
<circle cx="1670.3" cy="3410.7" r="3" stroke-width="3.6"/>
<path d="M1662.3 3435L1656.8 3458.5A7.5 7.5 0 0 0 1671.4 3461.9L1676.9 3438.4A7.5 7.5 0 0 0 1662.3 3435Z" stroke-width="3.6" fill="#fff"/>
<circle cx="1669.6" cy="3436.7" r="3" stroke-width="3.6"/>
<circle cx="1664.1" cy="3460.2" r="3" stroke-width="3.6"/>
<path d="M1656.9 3454.3L1645.8 3467.9A9.3 9.3 0 0 0 1660.2 3479.7L1671.3 3466.1A9.3 9.3 0 0 0 1656.9 3454.3Z" stroke-width="3.6" fill="#fff"/>
<circle cx="1664.1" cy="3460.2" r="5.5" stroke-width="3.6"/>
<circle cx="1653" cy="3473.8" r="5.5" stroke-width="3.6"/>
<path d="M1661 3410.4L1660.3 3436.4A9.3 9.3 0 0 0 1678.9 3437L1679.6 3411A9.3 9.3 0 0 0 1661 3410.4Z" stroke-width="3.6" fill="#fff"/>
<circle cx="1670.3" cy="3410.7" r="5.5" stroke-width="3.6"/>
<circle cx="1669.6" cy="3436.7" r="5.5" stroke-width="3.6"/>
<path d="M1644.3 3355.2L1655.4 3385.5A9.3 9.3 0 0 0 1672.8 3379.1L1661.7 3348.8A9.3 9.3 0 0 0 1644.3 3355.2Z" stroke-width="3.6" fill="#fff"/>
<circle cx="1653" cy="3352" r="5.5" stroke-width="3.6"/>
<circle cx="1664.1" cy="3382.3" r="5.5" stroke-width="3.6"/>
<path d="M1609.3 3305.3L1629.7 3330.6A9.3 9.3 0 0 0 1644.1 3319L1623.7 3293.7A9.3 9.3 0 0 0 1609.3 3305.3Z" stroke-width="3.6" fill="#fff"/>
<circle cx="1616.5" cy="3299.5" r="5.5" stroke-width="3.6"/>
<circle cx="1636.9" cy="3324.8" r="5.5" stroke-width="3.6"/>
<path d="M1625 3282q10 -6 18 2q6 10 -2 20" stroke-width="3.6"/>
<path d="M1335 2864.4L1412.1 2819.9A41.8 72 -30 0 1 1484.1 2944.7L1407 2989.2A41.8 72 -30 0 1 1335 2864.4Z" fill="#fff"/>
<path d="M1335 2864.4A41.8 72 -30 0 1 1407 2989.2"/>
<ellipse cx="1371" cy="2926.8" rx="41.8" ry="72" transform="rotate(-30 1371 2926.8)"/>
<ellipse cx="1371" cy="2926.8" rx="29.9" ry="51.5" transform="rotate(-30 1371 2926.8)"/>
<path d="M1168.2 2892.9L1169.4 2892.7L1171.2 2893.5L1173.4 2895.3L1178.3 2902.2L1181.3 2905.6L1183.2 2907.2L1184.7 2907.9L1185.8 2907.9L1186.5 2907.3L1187 2905.9L1187 2903.7L1186.3 2899.5L1184.1 2891.8L1184.2 2889.3L1184.8 2887.7L1185.8 2887.1L1187.2 2887.4L1189 2888.7L1191 2890.9L1195 2898.5L1197.5 2902.4L1199.2 2904.4L1200.7 2905.5L1201.9 2905.9L1202.8 2905.6L1203.6 2904.7L1204.1 2902.8L1204.2 2899L1203.4 2891.6L1204.1 2889.5L1205.1 2888.4L1206.3 2888.2L1207.7 2888.9L1209.4 2890.6L1211.1 2893.3L1213.9 2901.1L1215.8 2905.3L1217.3 2907.6L1218.6 2909L1219.8 2909.8L1220.9 2909.9L1222 2909.3L1222.9 2907.9L1223.8 2904.7L1224.4 2898.1L1225.6 2896.6L1226.9 2895.9L1228.3 2896.2L1229.7 2897.3L1231.1 2899.3L1232.5 2902.2L1233.9 2909.8L1235.1 2914L1236.3 2916.5L1237.4 2918.2L1238.6 2919.3L1239.8 2919.7L1241 2919.6L1242.4 2918.7L1244 2916.3L1246 2910.9L1247.7 2910L1249.2 2909.9L1250.6 2910.6L1251.9 2912.1L1253.1 2914.3L1254 2917.2L1253.9 2924.1L1254.4 2928.1L1255.1 2930.7L1256 2932.5L1257.1 2933.8L1258.3 2934.6L1259.7 2934.9L1261.3 2934.6L1263.5 2933.1L1266.9 2929.2L1268.9 2929L1270.6 2929.5L1272 2930.5L1273.1 2932.2L1273.9 2934.5L1274.3 2937.3L1272.8 2943.2L1272.4 2946.8L1272.7 2949.2L1273.3 2951.1L1274.2 2952.5L1275.3 2953.6L1276.8 2954.4L1278.6 2954.7L1281.4 2954.2L1285.9 2952L1288 2952.5L1289.8 2953.5L1291.1 2954.9L1292 2956.7L1292.4 2958.9L1292.2 2961.5L1289.3 2965.9L1288.2 2968.9L1288 2971L1288.3 2972.9L1288.9 2974.4L1290 2975.7L1291.4 2976.9L1293.4 2977.8L1296.5 2978.3L1301.8 2978L1304 2979.2L1305.8 2980.6L1306.9 2982.3L1307.5 2984.1L1307.4 2986.1L1306.8 2988.2L1302.7 2991.1L1300.8 2993.2L1300.2 2994.9L1300.1 2996.6L1300.5 2998.1L1301.3 2999.6L1302.6 3001.1L1304.6 3002.5L1307.9 3004L1313.7 3005.6L1316 3007.4L1317.5 3009.2L1318.4 3011L1318.7 3012.8L1318.2 3014.5L1317.1 3016.1L1312 3017L1309.6 3018.2L1308.5 3019.5L1308.1 3020.9L1308.2 3022.3L1308.8 3023.9L1309.9 3025.6L1311.7 3027.5L1315 3029.9L1321.1 3033.3L1323.1 3035.5L1324.4 3037.6L1325.1 3039.5L1324.9 3041.1L1324.1 3042.4L1322.5 3043.3L1316.8 3042.4L1313.9 3042.6L1312.4 3043.3L1311.7 3044.3L1311.5 3045.6L1311.8 3047.1L1312.7 3049L1314.3 3051.2L1317.4 3054.4L1323.3 3059.3L1325 3062L1326.1 3064.2L1326.4 3066L1325.9 3067.3L1324.7 3068.2L1322.8 3068.4L1316.7 3065.7L1313.6 3064.8L1311.8 3064.9L1310.8 3065.6L1310.3 3066.6L1310.4 3068L1311 3069.9L1312.2 3072.4L1314.9 3076.1L1320.3 3082.4L1321.7 3085.2L1322.3 3087.5L1322.3 3089.1L1321.5 3090.1L1320 3090.3L1317.9 3089.9L1311.9 3085.5L1308.6 3083.7L1306.7 3083.2L1305.4 3083.3L1304.7 3084.1L1304.5 3085.3L1304.7 3087.1L1305.6 3089.6L1307.7 3093.7L1312.3 3100.9L1313.2 3103.8L1313.4 3106L1313 3107.4L1312 3107.9L1310.3 3107.7L1308.1 3106.5L1302.5 3100.7L1299.3 3098L1297.3 3096.9L1295.9 3096.7L1295 3097L1294.4 3098L1294.3 3099.6L1294.7 3102.1L1296.2 3106.3L1299.7 3114L1300.1 3116.8L1299.9 3118.7L1299.2 3119.7L1297.9 3119.9L1296.2 3119.1L1294 3117.3L1289 3110.4L1286.1 3107L1284.2 3105.4L1282.7 3104.7L1281.6 3104.7L1280.9 3105.3L1280.4 3106.7L1280.4 3108.9L1281.1 3113.1L1283.3 3120.8L1283.1 3123.3L1282.5 3124.9L1281.5 3125.5L1280.2 3125.2L1278.4 3123.9L1276.3 3121.7L1272.4 3114.1L1269.9 3110.2L1268.1 3108.2L1266.7 3107.1L1265.5 3106.7L1264.6 3107L1263.8 3107.9L1263.3 3109.8L1263.2 3113.6L1264 3121L1263.3 3123.1L1262.3 3124.2L1261.1 3124.4L1259.7 3123.7L1258 3122L1256.3 3119.3L1253.5 3111.5L1251.6 3107.3L1250.1 3105L1248.8 3103.6L1247.6 3102.8L1246.5 3102.7L1245.4 3103.3L1244.4 3104.7L1243.6 3107.9L1242.9 3114.5L1241.8 3116L1240.5 3116.7L1239.1 3116.4L1237.7 3115.3L1236.2 3113.3L1234.8 3110.4L1233.5 3102.8L1232.3 3098.6L1231.1 3096.1L1230 3094.4L1228.8 3093.3L1227.6 3092.9L1226.4 3093L1225 3093.9L1223.4 3096.3L1221.3 3101.7L1219.7 3102.6L1218.2 3102.7L1216.7 3102L1215.4 3100.5L1214.3 3098.3L1213.4 3095.4L1213.5 3088.5L1213 3084.5L1212.3 3081.9L1211.4 3080.1L1210.3 3078.8L1209.1 3078L1207.7 3077.7L1206.1 3078L1203.8 3079.5L1200.5 3083.4L1198.5 3083.6L1196.8 3083.1L1195.4 3082.1L1194.3 3080.4L1193.5 3078.1L1193.1 3075.3L1194.6 3069.4L1195 3065.8L1194.7 3063.4L1194.1 3061.5L1193.2 3060.1L1192.1 3059L1190.6 3058.2L1188.7 3057.9L1186 3058.4L1181.5 3060.6L1179.4 3060.1L1177.6 3059.1L1176.3 3057.7L1175.4 3055.9L1175 3053.7L1175.1 3051.1L1178.1 3046.7L1179.2 3043.7L1179.4 3041.6L1179.1 3039.7L1178.4 3038.2L1177.4 3036.9L1176 3035.7L1174 3034.8L1170.9 3034.3L1165.6 3034.6L1163.3 3033.4L1161.6 3032L1160.5 3030.3L1159.9 3028.5L1160 3026.5L1160.6 3024.4L1164.7 3021.5L1166.5 3019.4L1167.2 3017.7L1167.3 3016L1166.9 3014.5L1166.1 3013L1164.7 3011.5L1162.8 3010.1L1159.5 3008.6L1153.6 3007L1151.4 3005.2L1149.9 3003.4L1148.9 3001.6L1148.7 2999.8L1149.2 2998.1L1150.3 2996.5L1155.4 2995.6L1157.8 2994.4L1158.9 2993.1L1159.3 2991.7L1159.2 2990.3L1158.6 2988.7L1157.5 2987L1155.6 2985.1L1152.4 2982.7L1146.3 2979.3L1144.3 2977.1L1142.9 2975L1142.3 2973.1L1142.4 2971.5L1143.3 2970.2L1144.9 2969.3L1150.6 2970.2L1153.5 2970L1154.9 2969.3L1155.7 2968.3L1155.9 2967L1155.5 2965.5L1154.7 2963.6L1153.1 2961.4L1150 2958.2L1144.1 2953.3L1142.3 2950.6L1141.3 2948.4L1141 2946.6L1141.5 2945.3L1142.7 2944.4L1144.6 2944.2L1150.6 2946.9L1153.8 2947.8L1155.6 2947.7L1156.6 2947L1157 2946L1157 2944.6L1156.4 2942.7L1155.2 2940.2L1152.5 2936.5L1147.1 2930.2L1145.7 2927.4L1145.1 2925.1L1145.1 2923.5L1145.9 2922.5L1147.4 2922.3L1149.5 2922.7L1155.5 2927.1L1158.8 2928.9L1160.7 2929.4L1162 2929.3L1162.7 2928.5L1162.9 2927.3L1162.7 2925.5L1161.8 2923L1159.7 2918.9L1155.1 2911.7L1154.2 2908.8L1153.9 2906.6L1154.4 2905.2L1155.4 2904.7L1157.1 2904.9L1159.3 2906.1L1164.9 2911.9L1168.1 2914.6L1170.1 2915.7L1171.5 2915.9L1172.4 2915.6L1173 2914.6L1173.1 2913L1172.7 2910.5L1171.2 2906.3L1167.7 2898.6L1167.3 2895.8L1167.5 2893.9Z" stroke-width="3" fill="#fff"/>
<path d="M1160.4 2897.4L1161.7 2897.2L1163.4 2898L1165.6 2899.8L1170.5 2906.7L1173.5 2910.1L1175.4 2911.7L1176.9 2912.4L1178 2912.4L1178.7 2911.8L1179.2 2910.4L1179.2 2908.2L1178.5 2904L1176.3 2896.3L1176.4 2893.8L1177 2892.2L1178.1 2891.6L1179.4 2891.9L1181.2 2893.2L1183.2 2895.4L1187.2 2903L1189.7 2906.9L1191.5 2908.9L1192.9 2910L1194.1 2910.4L1195 2910.1L1195.8 2909.2L1196.3 2907.3L1196.4 2903.5L1195.6 2896.1L1196.3 2894L1197.3 2892.9L1198.5 2892.7L1199.9 2893.4L1201.6 2895.1L1203.3 2897.8L1206.1 2905.6L1208 2909.8L1209.5 2912.1L1210.8 2913.5L1212 2914.3L1213.1 2914.4L1214.2 2913.8L1215.2 2912.4L1216 2909.2L1216.6 2902.6L1217.8 2901.1L1219.1 2900.4L1220.5 2900.7L1221.9 2901.8L1223.3 2903.8L1224.8 2906.7L1226.1 2914.3L1227.3 2918.5L1228.5 2921L1229.6 2922.7L1230.8 2923.8L1232 2924.2L1233.2 2924.1L1234.6 2923.2L1236.2 2920.8L1238.2 2915.4L1239.9 2914.5L1241.4 2914.4L1242.8 2915.1L1244.2 2916.6L1245.3 2918.8L1246.2 2921.7L1246.1 2928.6L1246.6 2932.6L1247.3 2935.2L1248.2 2937L1249.3 2938.3L1250.5 2939.1L1251.9 2939.4L1253.5 2939.1L1255.8 2937.6L1259.1 2933.7L1261.1 2933.5L1262.8 2934L1264.2 2935L1265.3 2936.7L1266.1 2939L1266.5 2941.8L1265 2947.7L1264.6 2951.3L1264.9 2953.7L1265.5 2955.6L1266.4 2957L1267.5 2958.1L1269 2958.9L1270.9 2959.2L1273.6 2958.7L1278.1 2956.5L1280.2 2957L1282 2958L1283.3 2959.4L1284.2 2961.2L1284.6 2963.4L1284.5 2966L1281.5 2970.4L1280.4 2973.4L1280.2 2975.5L1280.5 2977.4L1281.2 2978.9L1282.2 2980.2L1283.6 2981.4L1285.6 2982.3L1288.7 2982.8L1294 2982.5L1296.2 2983.7L1298 2985.1L1299.1 2986.8L1299.7 2988.6L1299.6 2990.6L1299 2992.7L1294.9 2995.6L1293.1 2997.7L1292.4 2999.4L1292.3 3001.1L1292.7 3002.6L1293.5 3004.1L1294.8 3005.6L1296.8 3007L1300.1 3008.5L1305.9 3010.1L1308.2 3011.9L1309.7 3013.7L1310.7 3015.5L1310.9 3017.3L1310.4 3019L1309.3 3020.6L1304.2 3021.5L1301.8 3022.7L1300.7 3024L1300.3 3025.4L1300.4 3026.8L1301 3028.4L1302.1 3030.1L1303.9 3032L1307.2 3034.4L1313.3 3037.8L1315.3 3040L1316.6 3042.1L1317.3 3044L1317.1 3045.6L1316.3 3046.9L1314.7 3047.8L1309 3046.9L1306.1 3047.1L1304.6 3047.8L1303.9 3048.8L1303.7 3050.1L1304.1 3051.6L1304.9 3053.5L1306.5 3055.7L1309.6 3058.9L1315.5 3063.8L1317.3 3066.5L1318.3 3068.7L1318.6 3070.5L1318.1 3071.8L1316.9 3072.7L1315 3072.9L1309 3070.2L1305.8 3069.3L1304 3069.4L1303 3070.1L1302.6 3071.1L1302.6 3072.5L1303.2 3074.4L1304.4 3076.9L1307.1 3080.6L1312.5 3086.9L1313.9 3089.7L1314.5 3092L1314.5 3093.6L1313.7 3094.6L1312.2 3094.8L1310.1 3094.4L1304.1 3090L1300.8 3088.2L1298.9 3087.7L1297.6 3087.8L1296.9 3088.6L1296.7 3089.8L1296.9 3091.6L1297.8 3094.1L1299.9 3098.2L1304.5 3105.4L1305.4 3108.3L1305.7 3110.5L1305.2 3111.9L1304.2 3112.4L1302.5 3112.2L1300.3 3111L1294.7 3105.2L1291.5 3102.5L1289.5 3101.4L1288.1 3101.2L1287.2 3101.5L1286.6 3102.5L1286.5 3104.1L1286.9 3106.6L1288.4 3110.8L1291.9 3118.5L1292.3 3121.3L1292.1 3123.2L1291.4 3124.2L1290.1 3124.4L1288.4 3123.6L1286.2 3121.8L1281.3 3114.9L1278.3 3111.5L1276.4 3109.9L1274.9 3109.2L1273.8 3109.2L1273.1 3109.8L1272.6 3111.2L1272.6 3113.4L1273.3 3117.6L1275.5 3125.3L1275.4 3127.8L1274.8 3129.4L1273.7 3130L1272.4 3129.7L1270.6 3128.4L1268.6 3126.2L1264.6 3118.6L1262.1 3114.7L1260.3 3112.7L1258.9 3111.6L1257.7 3111.2L1256.8 3111.5L1256 3112.4L1255.5 3114.3L1255.4 3118.1L1256.2 3125.5L1255.5 3127.6L1254.5 3128.7L1253.3 3128.9L1251.9 3128.2L1250.2 3126.5L1248.5 3123.8L1245.7 3116L1243.8 3111.8L1242.3 3109.5L1241 3108.1L1239.8 3107.3L1238.7 3107.2L1237.6 3107.8L1236.6 3109.2L1235.8 3112.4L1235.2 3119L1234 3120.5L1232.7 3121.2L1231.3 3120.9L1229.9 3119.8L1228.5 3117.8L1227 3114.9L1225.7 3107.3L1224.5 3103.1L1223.3 3100.6L1222.2 3098.9L1221 3097.8L1219.8 3097.4L1218.6 3097.5L1217.2 3098.4L1215.6 3100.8L1213.6 3106.2L1211.9 3107.1L1210.4 3107.2L1209 3106.5L1207.6 3105L1206.5 3102.8L1205.6 3099.9L1205.7 3093L1205.2 3089L1204.5 3086.4L1203.6 3084.6L1202.5 3083.3L1201.3 3082.5L1199.9 3082.2L1198.3 3082.5L1196 3084L1192.7 3087.9L1190.7 3088.1L1189 3087.6L1187.6 3086.6L1186.5 3084.9L1185.7 3082.6L1185.3 3079.8L1186.8 3073.9L1187.2 3070.3L1186.9 3067.9L1186.3 3066L1185.4 3064.6L1184.3 3063.5L1182.8 3062.7L1180.9 3062.4L1178.2 3062.9L1173.7 3065.1L1171.6 3064.6L1169.8 3063.6L1168.5 3062.2L1167.6 3060.4L1167.2 3058.2L1167.3 3055.6L1170.3 3051.2L1171.4 3048.2L1171.6 3046.1L1171.3 3044.2L1170.6 3042.7L1169.6 3041.4L1168.2 3040.2L1166.2 3039.3L1163.1 3038.8L1157.8 3039.1L1155.6 3037.9L1153.8 3036.5L1152.7 3034.8L1152.1 3033L1152.2 3031L1152.8 3028.9L1156.9 3026L1158.7 3023.9L1159.4 3022.2L1159.5 3020.5L1159.1 3019L1158.3 3017.5L1157 3016L1155 3014.6L1151.7 3013.1L1145.9 3011.5L1143.6 3009.7L1142.1 3007.9L1141.1 3006.1L1140.9 3004.3L1141.4 3002.6L1142.5 3001L1147.6 3000.1L1150 2998.9L1151.1 2997.6L1151.5 2996.2L1151.4 2994.8L1150.8 2993.2L1149.7 2991.5L1147.9 2989.6L1144.6 2987.2L1138.5 2983.8L1136.5 2981.6L1135.2 2979.5L1134.5 2977.6L1134.7 2976L1135.5 2974.7L1137.1 2973.8L1142.8 2974.7L1145.7 2974.5L1147.2 2973.8L1147.9 2972.8L1148.1 2971.5L1147.7 2970L1146.9 2968.1L1145.3 2965.9L1142.2 2962.7L1136.3 2957.8L1134.5 2955.1L1133.5 2952.9L1133.2 2951.1L1133.7 2949.8L1134.9 2948.9L1136.8 2948.7L1142.8 2951.4L1146 2952.3L1147.8 2952.2L1148.8 2951.5L1149.2 2950.5L1149.2 2949.1L1148.6 2947.2L1147.4 2944.7L1144.7 2941L1139.3 2934.7L1137.9 2931.9L1137.3 2929.6L1137.3 2928L1138.1 2927L1139.6 2926.8L1141.7 2927.2L1147.7 2931.6L1151 2933.4L1152.9 2933.9L1154.2 2933.8L1154.9 2933L1155.1 2931.8L1154.9 2930L1154 2927.5L1151.9 2923.4L1147.3 2916.2L1146.4 2913.3L1146.1 2911.1L1146.6 2909.7L1147.6 2909.2L1149.3 2909.4L1151.5 2910.6L1157.1 2916.4L1160.3 2919.1L1162.3 2920.2L1163.7 2920.4L1164.6 2920.1L1165.2 2919.1L1165.3 2917.5L1164.9 2915L1163.4 2910.8L1159.9 2903.1L1159.5 2900.3L1159.7 2898.4Z" stroke-width="3.4" fill="#fff"/>
<ellipse cx="1225.9" cy="3010.8" rx="55.7" ry="96" transform="rotate(-30 1225.9 3010.8)"/>
<path d="M1207.4 3079.2A58 100 -30 0 1 1161.7 2939.3"/>
<path d="M1244.4 2942.4A58 100 -30 0 1 1290.1 3082.3"/>
<ellipse cx="1225.9" cy="3010.8" rx="38.3" ry="66" transform="rotate(-30 1225.9 3010.8)"/>
<path d="M1200.6 3037.8A36 62 -30 0 1 1237.4 2968.4"/>
<ellipse cx="1225.9" cy="3010.8" rx="29" ry="50" transform="rotate(-30 1225.9 3010.8)" stroke-width="3.6"/>
<clipPath id="sp1225"><ellipse cx="1225.9" cy="3010.8" rx="29" ry="50" transform="rotate(-30 1225.9 3010.8)"/></clipPath>
<g clip-path="url(#sp1225)">
<ellipse cx="1234.6" cy="3005.8" rx="24.9" ry="43" transform="rotate(-30 1234.6 3005.8)"/>
<path d="M1248.2 3054.3L1253.6 3043.1" stroke-width="4"/>
<path d="M1241.1 3055.5L1247.5 3044.2" stroke-width="4"/>
<path d="M1233 3054.1L1240.7 3042.9" stroke-width="4"/>
<path d="M1224.6 3050.1L1233.5 3039.5" stroke-width="4"/>
<path d="M1216.3 3043.8L1226.3 3034.1" stroke-width="4"/>
<path d="M1208.5 3035.5L1219.6 3027" stroke-width="4"/>
<path d="M1201.7 3025.7L1213.8 3018.6" stroke-width="4"/>
<path d="M1196.4 3015.1L1209.3 3009.5" stroke-width="4"/>
<path d="M1192.8 3004.2L1206.2 3000.1" stroke-width="4"/>
<path d="M1191.3 2993.7L1204.9 2991.1" stroke-width="4"/>
<path d="M1191.7 2984.2L1205.3 2983" stroke-width="4"/>
<path d="M1194.2 2976.3L1207.4 2976.2" stroke-width="4"/>
<path d="M1198.6 2970.4L1211.1 2971.2" stroke-width="4"/>
</g>
<path d="M1957 3064.5L2034.1 3020A41.8 72 -30 0 1 2106.1 3144.8L2029 3189.3A41.8 72 -30 0 1 1957 3064.5Z" fill="#fff"/>
<path d="M1957 3064.5A41.8 72 -30 0 1 2029 3189.3"/>
<ellipse cx="1993" cy="3126.9" rx="41.8" ry="72" transform="rotate(-30 1993 3126.9)"/>
<ellipse cx="1993" cy="3126.9" rx="29.9" ry="51.5" transform="rotate(-30 1993 3126.9)"/>
<path d="M1793.8 3089.9L1795 3089.7L1796.8 3090.5L1799 3092.3L1803.9 3099.2L1806.9 3102.6L1808.8 3104.2L1810.3 3104.9L1811.4 3104.9L1812.1 3104.3L1812.6 3102.9L1812.6 3100.7L1811.9 3096.5L1809.7 3088.8L1809.8 3086.3L1810.4 3084.7L1811.4 3084.1L1812.8 3084.4L1814.6 3085.7L1816.6 3087.9L1820.6 3095.5L1823.1 3099.4L1824.8 3101.4L1826.3 3102.5L1827.5 3102.9L1828.4 3102.6L1829.2 3101.7L1829.7 3099.8L1829.8 3096L1829 3088.6L1829.7 3086.5L1830.7 3085.4L1831.9 3085.2L1833.3 3085.9L1835 3087.6L1836.7 3090.3L1839.5 3098.1L1841.4 3102.3L1842.9 3104.6L1844.2 3106L1845.4 3106.8L1846.5 3106.9L1847.6 3106.3L1848.5 3104.9L1849.4 3101.7L1850 3095.1L1851.2 3093.6L1852.5 3092.9L1853.9 3093.2L1855.3 3094.3L1856.7 3096.3L1858.1 3099.2L1859.5 3106.8L1860.7 3111L1861.9 3113.5L1863 3115.2L1864.2 3116.3L1865.4 3116.7L1866.6 3116.6L1868 3115.7L1869.6 3113.3L1871.6 3107.9L1873.3 3107L1874.8 3106.9L1876.2 3107.6L1877.5 3109.1L1878.7 3111.3L1879.6 3114.2L1879.5 3121.1L1880 3125.1L1880.7 3127.7L1881.6 3129.5L1882.7 3130.8L1883.9 3131.6L1885.3 3131.9L1886.9 3131.6L1889.1 3130.1L1892.5 3126.2L1894.5 3126L1896.2 3126.5L1897.6 3127.5L1898.7 3129.2L1899.5 3131.5L1899.9 3134.3L1898.4 3140.2L1898 3143.8L1898.3 3146.2L1898.9 3148.1L1899.8 3149.5L1900.9 3150.6L1902.4 3151.4L1904.2 3151.7L1907 3151.2L1911.5 3149L1913.6 3149.5L1915.4 3150.5L1916.7 3151.9L1917.6 3153.7L1918 3155.9L1917.8 3158.5L1914.9 3162.9L1913.8 3165.9L1913.6 3168L1913.9 3169.9L1914.5 3171.4L1915.6 3172.7L1917 3173.9L1919 3174.8L1922.1 3175.3L1927.4 3175L1929.6 3176.2L1931.4 3177.6L1932.5 3179.3L1933.1 3181.1L1933 3183.1L1932.4 3185.2L1928.3 3188.1L1926.4 3190.2L1925.8 3191.9L1925.7 3193.6L1926.1 3195.1L1926.9 3196.6L1928.2 3198.1L1930.2 3199.5L1933.5 3201L1939.3 3202.6L1941.6 3204.4L1943.1 3206.2L1944 3208L1944.3 3209.8L1943.8 3211.5L1942.7 3213.1L1937.6 3214L1935.2 3215.2L1934.1 3216.5L1933.7 3217.9L1933.8 3219.3L1934.4 3220.9L1935.5 3222.6L1937.3 3224.5L1940.6 3226.9L1946.7 3230.3L1948.7 3232.5L1950 3234.6L1950.7 3236.5L1950.5 3238.1L1949.7 3239.4L1948.1 3240.3L1942.4 3239.4L1939.5 3239.6L1938 3240.3L1937.3 3241.3L1937.1 3242.6L1937.4 3244.1L1938.3 3246L1939.9 3248.2L1943 3251.4L1948.9 3256.3L1950.6 3259L1951.7 3261.2L1952 3263L1951.5 3264.3L1950.3 3265.2L1948.4 3265.4L1942.3 3262.7L1939.2 3261.8L1937.4 3261.9L1936.4 3262.6L1935.9 3263.6L1936 3265L1936.6 3266.9L1937.8 3269.4L1940.5 3273.1L1945.9 3279.4L1947.3 3282.2L1947.9 3284.5L1947.9 3286.1L1947.1 3287.1L1945.6 3287.3L1943.5 3286.9L1937.5 3282.5L1934.2 3280.7L1932.3 3280.2L1931 3280.3L1930.3 3281.1L1930.1 3282.3L1930.3 3284.1L1931.2 3286.6L1933.3 3290.7L1937.9 3297.9L1938.8 3300.8L1939 3303L1938.6 3304.4L1937.6 3304.9L1935.9 3304.7L1933.7 3303.5L1928.1 3297.7L1924.9 3295L1922.9 3293.9L1921.5 3293.7L1920.6 3294L1920 3295L1919.9 3296.6L1920.3 3299.1L1921.8 3303.3L1925.3 3311L1925.7 3313.8L1925.5 3315.7L1924.8 3316.7L1923.5 3316.9L1921.8 3316.1L1919.6 3314.3L1914.6 3307.4L1911.7 3304L1909.8 3302.4L1908.3 3301.7L1907.2 3301.7L1906.5 3302.3L1906 3303.7L1906 3305.9L1906.7 3310.1L1908.9 3317.8L1908.7 3320.3L1908.1 3321.9L1907.1 3322.5L1905.8 3322.2L1904 3320.9L1901.9 3318.7L1898 3311.1L1895.5 3307.2L1893.7 3305.2L1892.3 3304.1L1891.1 3303.7L1890.2 3304L1889.4 3304.9L1888.9 3306.8L1888.8 3310.6L1889.6 3318L1888.9 3320.1L1887.9 3321.2L1886.7 3321.4L1885.3 3320.7L1883.6 3319L1881.9 3316.3L1879.1 3308.5L1877.2 3304.3L1875.7 3302L1874.4 3300.6L1873.2 3299.8L1872.1 3299.7L1871 3300.3L1870 3301.7L1869.2 3304.9L1868.5 3311.5L1867.4 3313L1866.1 3313.7L1864.7 3313.4L1863.3 3312.3L1861.8 3310.3L1860.4 3307.4L1859.1 3299.8L1857.9 3295.6L1856.7 3293.1L1855.6 3291.4L1854.4 3290.3L1853.2 3289.9L1852 3290L1850.6 3290.9L1849 3293.3L1846.9 3298.7L1845.3 3299.6L1843.8 3299.7L1842.3 3299L1841 3297.5L1839.9 3295.3L1839 3292.4L1839.1 3285.5L1838.6 3281.5L1837.9 3278.9L1837 3277.1L1835.9 3275.8L1834.7 3275L1833.3 3274.7L1831.7 3275L1829.4 3276.5L1826.1 3280.4L1824.1 3280.6L1822.4 3280.1L1821 3279.1L1819.9 3277.4L1819.1 3275.1L1818.7 3272.3L1820.2 3266.4L1820.6 3262.8L1820.3 3260.4L1819.7 3258.5L1818.8 3257.1L1817.7 3256L1816.2 3255.2L1814.3 3254.9L1811.6 3255.4L1807.1 3257.6L1805 3257.1L1803.2 3256.1L1801.9 3254.7L1801 3252.9L1800.6 3250.7L1800.7 3248.1L1803.7 3243.7L1804.8 3240.7L1805 3238.6L1804.7 3236.7L1804 3235.2L1803 3233.9L1801.6 3232.7L1799.6 3231.8L1796.5 3231.3L1791.2 3231.6L1788.9 3230.4L1787.2 3229L1786.1 3227.3L1785.5 3225.5L1785.6 3223.5L1786.2 3221.4L1790.3 3218.5L1792.1 3216.4L1792.8 3214.7L1792.9 3213L1792.5 3211.5L1791.7 3210L1790.3 3208.5L1788.4 3207.1L1785.1 3205.6L1779.2 3204L1777 3202.2L1775.5 3200.4L1774.5 3198.6L1774.3 3196.8L1774.8 3195.1L1775.9 3193.5L1781 3192.6L1783.4 3191.4L1784.5 3190.1L1784.9 3188.7L1784.8 3187.3L1784.2 3185.7L1783.1 3184L1781.2 3182.1L1778 3179.7L1771.9 3176.3L1769.9 3174.1L1768.5 3172L1767.9 3170.1L1768 3168.5L1768.9 3167.2L1770.5 3166.3L1776.2 3167.2L1779.1 3167L1780.5 3166.3L1781.3 3165.3L1781.5 3164L1781.1 3162.5L1780.3 3160.6L1778.7 3158.4L1775.6 3155.2L1769.7 3150.3L1767.9 3147.6L1766.9 3145.4L1766.6 3143.6L1767.1 3142.3L1768.3 3141.4L1770.2 3141.2L1776.2 3143.9L1779.4 3144.8L1781.2 3144.7L1782.2 3144L1782.6 3143L1782.6 3141.6L1782 3139.7L1780.8 3137.2L1778.1 3133.5L1772.7 3127.2L1771.3 3124.4L1770.7 3122.1L1770.7 3120.5L1771.5 3119.5L1773 3119.3L1775.1 3119.7L1781.1 3124.1L1784.4 3125.9L1786.3 3126.4L1787.6 3126.3L1788.3 3125.5L1788.5 3124.3L1788.3 3122.5L1787.4 3120L1785.3 3115.9L1780.7 3108.7L1779.8 3105.8L1779.5 3103.6L1780 3102.2L1781 3101.7L1782.7 3101.9L1784.9 3103.1L1790.5 3108.9L1793.7 3111.6L1795.7 3112.7L1797.1 3112.9L1798 3112.6L1798.6 3111.6L1798.7 3110L1798.3 3107.5L1796.8 3103.3L1793.3 3095.6L1792.9 3092.8L1793.1 3090.9Z" stroke-width="3" fill="#fff"/>
<path d="M1786 3094.4L1787.3 3094.2L1789 3095L1791.2 3096.8L1796.1 3103.7L1799.1 3107.1L1801 3108.7L1802.5 3109.4L1803.6 3109.4L1804.3 3108.8L1804.8 3107.4L1804.8 3105.2L1804.1 3101L1801.9 3093.3L1802 3090.8L1802.6 3089.2L1803.7 3088.6L1805 3088.9L1806.8 3090.2L1808.8 3092.4L1812.8 3100L1815.3 3103.9L1817.1 3105.9L1818.5 3107L1819.7 3107.4L1820.6 3107.1L1821.4 3106.2L1821.9 3104.3L1822 3100.5L1821.2 3093.1L1821.9 3091L1822.9 3089.9L1824.1 3089.7L1825.5 3090.4L1827.2 3092.1L1828.9 3094.8L1831.7 3102.6L1833.6 3106.8L1835.1 3109.1L1836.4 3110.5L1837.6 3111.3L1838.7 3111.4L1839.8 3110.8L1840.8 3109.4L1841.6 3106.2L1842.2 3099.6L1843.4 3098.1L1844.7 3097.4L1846.1 3097.7L1847.5 3098.8L1848.9 3100.8L1850.4 3103.7L1851.7 3111.3L1852.9 3115.5L1854.1 3118L1855.2 3119.7L1856.4 3120.8L1857.6 3121.2L1858.8 3121.1L1860.2 3120.2L1861.8 3117.8L1863.8 3112.4L1865.5 3111.5L1867 3111.4L1868.4 3112.1L1869.8 3113.6L1870.9 3115.8L1871.8 3118.7L1871.7 3125.6L1872.2 3129.6L1872.9 3132.2L1873.8 3134L1874.9 3135.3L1876.1 3136.1L1877.5 3136.4L1879.1 3136.1L1881.4 3134.6L1884.7 3130.7L1886.7 3130.5L1888.4 3131L1889.8 3132L1890.9 3133.7L1891.7 3136L1892.1 3138.8L1890.6 3144.7L1890.2 3148.3L1890.5 3150.7L1891.1 3152.6L1892 3154L1893.1 3155.1L1894.6 3155.9L1896.5 3156.2L1899.2 3155.7L1903.7 3153.5L1905.8 3154L1907.6 3155L1908.9 3156.4L1909.8 3158.2L1910.2 3160.4L1910.1 3163L1907.1 3167.4L1906 3170.4L1905.8 3172.5L1906.1 3174.4L1906.8 3175.9L1907.8 3177.2L1909.2 3178.4L1911.2 3179.3L1914.3 3179.8L1919.6 3179.5L1921.8 3180.7L1923.6 3182.1L1924.7 3183.8L1925.3 3185.6L1925.2 3187.6L1924.6 3189.7L1920.5 3192.6L1918.7 3194.7L1918 3196.4L1917.9 3198.1L1918.3 3199.6L1919.1 3201.1L1920.4 3202.6L1922.4 3204L1925.7 3205.5L1931.5 3207.1L1933.8 3208.9L1935.3 3210.7L1936.3 3212.5L1936.5 3214.3L1936 3216L1934.9 3217.6L1929.8 3218.5L1927.4 3219.7L1926.3 3221L1925.9 3222.4L1926 3223.8L1926.6 3225.4L1927.7 3227.1L1929.5 3229L1932.8 3231.4L1938.9 3234.8L1940.9 3237L1942.2 3239.1L1942.9 3241L1942.7 3242.6L1941.9 3243.9L1940.3 3244.8L1934.6 3243.9L1931.7 3244.1L1930.2 3244.8L1929.5 3245.8L1929.3 3247.1L1929.7 3248.6L1930.5 3250.5L1932.1 3252.7L1935.2 3255.9L1941.1 3260.8L1942.9 3263.5L1943.9 3265.7L1944.2 3267.5L1943.7 3268.8L1942.5 3269.7L1940.6 3269.9L1934.6 3267.2L1931.4 3266.3L1929.6 3266.4L1928.6 3267.1L1928.2 3268.1L1928.2 3269.5L1928.8 3271.4L1930 3273.9L1932.7 3277.6L1938.1 3283.9L1939.5 3286.7L1940.1 3289L1940.1 3290.6L1939.3 3291.6L1937.8 3291.8L1935.7 3291.4L1929.7 3287L1926.4 3285.2L1924.5 3284.7L1923.2 3284.8L1922.5 3285.6L1922.3 3286.8L1922.5 3288.6L1923.4 3291.1L1925.5 3295.2L1930.1 3302.4L1931 3305.3L1931.3 3307.5L1930.8 3308.9L1929.8 3309.4L1928.1 3309.2L1925.9 3308L1920.3 3302.2L1917.1 3299.5L1915.1 3298.4L1913.7 3298.2L1912.8 3298.5L1912.2 3299.5L1912.1 3301.1L1912.5 3303.6L1914 3307.8L1917.5 3315.5L1917.9 3318.3L1917.7 3320.2L1917 3321.2L1915.7 3321.4L1914 3320.6L1911.8 3318.8L1906.9 3311.9L1903.9 3308.5L1902 3306.9L1900.5 3306.2L1899.4 3306.2L1898.7 3306.8L1898.2 3308.2L1898.2 3310.4L1898.9 3314.6L1901.1 3322.3L1901 3324.8L1900.4 3326.4L1899.3 3327L1898 3326.7L1896.2 3325.4L1894.2 3323.2L1890.2 3315.6L1887.7 3311.7L1885.9 3309.7L1884.5 3308.6L1883.3 3308.2L1882.4 3308.5L1881.6 3309.4L1881.1 3311.3L1881 3315.1L1881.8 3322.5L1881.1 3324.6L1880.1 3325.7L1878.9 3325.9L1877.5 3325.2L1875.8 3323.5L1874.1 3320.8L1871.3 3313L1869.4 3308.8L1867.9 3306.5L1866.6 3305.1L1865.4 3304.3L1864.3 3304.2L1863.2 3304.8L1862.2 3306.2L1861.4 3309.4L1860.8 3316L1859.6 3317.5L1858.3 3318.2L1856.9 3317.9L1855.5 3316.8L1854.1 3314.8L1852.6 3311.9L1851.3 3304.3L1850.1 3300.1L1848.9 3297.6L1847.8 3295.9L1846.6 3294.8L1845.4 3294.4L1844.2 3294.5L1842.8 3295.4L1841.2 3297.8L1839.2 3303.2L1837.5 3304.1L1836 3304.2L1834.6 3303.5L1833.2 3302L1832.1 3299.8L1831.2 3296.9L1831.3 3290L1830.8 3286L1830.1 3283.4L1829.2 3281.6L1828.1 3280.3L1826.9 3279.5L1825.5 3279.2L1823.9 3279.5L1821.6 3281L1818.3 3284.9L1816.3 3285.1L1814.6 3284.6L1813.2 3283.6L1812.1 3281.9L1811.3 3279.6L1810.9 3276.8L1812.4 3270.9L1812.8 3267.3L1812.5 3264.9L1811.9 3263L1811 3261.6L1809.9 3260.5L1808.4 3259.7L1806.5 3259.4L1803.8 3259.9L1799.3 3262.1L1797.2 3261.6L1795.4 3260.6L1794.1 3259.2L1793.2 3257.4L1792.8 3255.2L1792.9 3252.6L1795.9 3248.2L1797 3245.2L1797.2 3243.1L1796.9 3241.2L1796.2 3239.7L1795.2 3238.4L1793.8 3237.2L1791.8 3236.3L1788.7 3235.8L1783.4 3236.1L1781.2 3234.9L1779.4 3233.5L1778.3 3231.8L1777.7 3230L1777.8 3228L1778.4 3225.9L1782.5 3223L1784.3 3220.9L1785 3219.2L1785.1 3217.5L1784.7 3216L1783.9 3214.5L1782.6 3213L1780.6 3211.6L1777.3 3210.1L1771.5 3208.5L1769.2 3206.7L1767.7 3204.9L1766.7 3203.1L1766.5 3201.3L1767 3199.6L1768.1 3198L1773.2 3197.1L1775.6 3195.9L1776.7 3194.6L1777.1 3193.2L1777 3191.8L1776.4 3190.2L1775.3 3188.5L1773.5 3186.6L1770.2 3184.2L1764.1 3180.8L1762.1 3178.6L1760.8 3176.5L1760.1 3174.6L1760.3 3173L1761.1 3171.7L1762.7 3170.8L1768.4 3171.7L1771.3 3171.5L1772.8 3170.8L1773.5 3169.8L1773.7 3168.5L1773.3 3167L1772.5 3165.1L1770.9 3162.9L1767.8 3159.7L1761.9 3154.8L1760.1 3152.1L1759.1 3149.9L1758.8 3148.1L1759.3 3146.8L1760.5 3145.9L1762.4 3145.7L1768.4 3148.4L1771.6 3149.3L1773.4 3149.2L1774.4 3148.5L1774.8 3147.5L1774.8 3146.1L1774.2 3144.2L1773 3141.7L1770.3 3138L1764.9 3131.7L1763.5 3128.9L1762.9 3126.6L1762.9 3125L1763.7 3124L1765.2 3123.8L1767.3 3124.2L1773.3 3128.6L1776.6 3130.4L1778.5 3130.9L1779.8 3130.8L1780.5 3130L1780.7 3128.8L1780.5 3127L1779.6 3124.5L1777.5 3120.4L1772.9 3113.2L1772 3110.3L1771.7 3108.1L1772.2 3106.7L1773.2 3106.2L1774.9 3106.4L1777.1 3107.6L1782.7 3113.4L1785.9 3116.1L1787.9 3117.2L1789.3 3117.4L1790.2 3117.1L1790.8 3116.1L1790.9 3114.5L1790.5 3112L1789 3107.8L1785.5 3100.1L1785.1 3097.3L1785.3 3095.4Z" stroke-width="3.4" fill="#fff"/>
<ellipse cx="1851.5" cy="3207.8" rx="55.7" ry="96" transform="rotate(-30 1851.5 3207.8)"/>
<path d="M1833 3276.2A58 100 -30 0 1 1787.3 3136.3"/>
<path d="M1870 3139.4A58 100 -30 0 1 1915.7 3279.3"/>
<ellipse cx="1851.5" cy="3207.8" rx="38.3" ry="66" transform="rotate(-30 1851.5 3207.8)"/>
<path d="M1826.2 3234.8A36 62 -30 0 1 1863 3165.4"/>
<ellipse cx="1851.5" cy="3207.8" rx="29" ry="50" transform="rotate(-30 1851.5 3207.8)" stroke-width="3.6"/>
<clipPath id="sp1851"><ellipse cx="1851.5" cy="3207.8" rx="29" ry="50" transform="rotate(-30 1851.5 3207.8)"/></clipPath>
<g clip-path="url(#sp1851)">
<ellipse cx="1860.2" cy="3202.8" rx="24.9" ry="43" transform="rotate(-30 1860.2 3202.8)"/>
<path d="M1873.8 3251.3L1879.2 3240.1" stroke-width="4"/>
<path d="M1866.7 3252.5L1873.1 3241.2" stroke-width="4"/>
<path d="M1858.6 3251.1L1866.3 3239.9" stroke-width="4"/>
<path d="M1850.2 3247.1L1859.1 3236.5" stroke-width="4"/>
<path d="M1841.9 3240.8L1851.9 3231.1" stroke-width="4"/>
<path d="M1834.1 3232.5L1845.2 3224" stroke-width="4"/>
<path d="M1827.3 3222.7L1839.4 3215.6" stroke-width="4"/>
<path d="M1822 3212.1L1834.9 3206.5" stroke-width="4"/>
<path d="M1818.4 3201.2L1831.8 3197.1" stroke-width="4"/>
<path d="M1816.9 3190.7L1830.5 3188.1" stroke-width="4"/>
<path d="M1817.3 3181.2L1830.9 3180" stroke-width="4"/>
<path d="M1819.8 3173.3L1833 3173.2" stroke-width="4"/>
<path d="M1824.2 3167.4L1836.7 3168.2" stroke-width="4"/>
</g>
<path d="M1590.6 2867.3L1591.8 2867.1L1593.6 2867.9L1595.8 2869.7L1600.7 2876.6L1603.7 2880L1605.6 2881.6L1607.1 2882.3L1608.2 2882.3L1608.9 2881.7L1609.4 2880.3L1609.4 2878.1L1608.7 2873.9L1606.5 2866.2L1606.6 2863.7L1607.2 2862.1L1608.2 2861.5L1609.6 2861.8L1611.4 2863.1L1613.4 2865.3L1617.4 2872.9L1619.9 2876.8L1621.6 2878.8L1623.1 2879.9L1624.3 2880.3L1625.2 2880L1626 2879.1L1626.5 2877.2L1626.6 2873.4L1625.8 2866L1626.5 2863.9L1627.5 2862.8L1628.7 2862.6L1630.1 2863.3L1631.8 2865L1633.5 2867.7L1636.3 2875.5L1638.2 2879.7L1639.7 2882L1641 2883.4L1642.2 2884.2L1643.3 2884.3L1644.4 2883.7L1645.3 2882.3L1646.2 2879.1L1646.8 2872.5L1648 2871L1649.3 2870.3L1650.7 2870.6L1652.1 2871.7L1653.5 2873.7L1654.9 2876.6L1656.3 2884.2L1657.5 2888.4L1658.7 2890.9L1659.8 2892.6L1661 2893.7L1662.2 2894.1L1663.4 2894L1664.8 2893.1L1666.4 2890.7L1668.4 2885.3L1670.1 2884.4L1671.6 2884.3L1673 2885L1674.3 2886.5L1675.5 2888.7L1676.4 2891.6L1676.3 2898.5L1676.8 2902.5L1677.5 2905.1L1678.4 2906.9L1679.5 2908.2L1680.7 2909L1682.1 2909.3L1683.7 2909L1685.9 2907.5L1689.3 2903.6L1691.3 2903.4L1693 2903.9L1694.4 2904.9L1695.5 2906.6L1696.3 2908.9L1696.7 2911.7L1695.2 2917.6L1694.8 2921.2L1695.1 2923.6L1695.7 2925.5L1696.6 2926.9L1697.7 2928L1699.2 2928.8L1701 2929.1L1703.8 2928.6L1708.3 2926.4L1710.4 2926.9L1712.2 2927.9L1713.5 2929.3L1714.4 2931.1L1714.8 2933.3L1714.6 2935.9L1711.7 2940.3L1710.6 2943.3L1710.4 2945.4L1710.7 2947.3L1711.3 2948.8L1712.4 2950.1L1713.8 2951.3L1715.8 2952.2L1718.9 2952.7L1724.2 2952.4L1726.4 2953.6L1728.2 2955L1729.3 2956.7L1729.9 2958.5L1729.8 2960.5L1729.2 2962.6L1725.1 2965.5L1723.2 2967.6L1722.6 2969.3L1722.5 2971L1722.9 2972.5L1723.7 2974L1725 2975.5L1727 2976.9L1730.3 2978.4L1736.1 2980L1738.4 2981.8L1739.9 2983.6L1740.8 2985.4L1741.1 2987.2L1740.6 2988.9L1739.5 2990.5L1734.4 2991.4L1732 2992.6L1730.9 2993.9L1730.5 2995.3L1730.6 2996.7L1731.2 2998.3L1732.3 3000L1734.1 3001.9L1737.4 3004.3L1743.5 3007.7L1745.5 3009.9L1746.8 3012L1747.5 3013.9L1747.3 3015.5L1746.5 3016.8L1744.9 3017.7L1739.2 3016.8L1736.3 3017L1734.8 3017.7L1734.1 3018.7L1733.9 3020L1734.2 3021.5L1735.1 3023.4L1736.7 3025.6L1739.8 3028.8L1745.7 3033.7L1747.4 3036.4L1748.5 3038.6L1748.8 3040.4L1748.3 3041.7L1747.1 3042.6L1745.2 3042.8L1739.1 3040.1L1736 3039.2L1734.2 3039.3L1733.2 3040L1732.7 3041L1732.8 3042.4L1733.4 3044.3L1734.6 3046.8L1737.3 3050.5L1742.7 3056.8L1744.1 3059.6L1744.7 3061.9L1744.7 3063.5L1743.9 3064.5L1742.4 3064.7L1740.3 3064.3L1734.3 3059.9L1731 3058.1L1729.1 3057.6L1727.8 3057.7L1727.1 3058.5L1726.9 3059.7L1727.1 3061.5L1728 3064L1730.1 3068.1L1734.7 3075.3L1735.6 3078.2L1735.8 3080.4L1735.4 3081.8L1734.4 3082.3L1732.7 3082.1L1730.5 3080.9L1724.9 3075.1L1721.7 3072.4L1719.7 3071.3L1718.3 3071.1L1717.4 3071.4L1716.8 3072.4L1716.7 3074L1717.1 3076.5L1718.6 3080.7L1722.1 3088.4L1722.5 3091.2L1722.3 3093.1L1721.6 3094.1L1720.3 3094.3L1718.6 3093.5L1716.4 3091.7L1711.4 3084.8L1708.5 3081.4L1706.6 3079.8L1705.1 3079.1L1704 3079.1L1703.3 3079.7L1702.8 3081.1L1702.8 3083.3L1703.5 3087.5L1705.7 3095.2L1705.5 3097.7L1704.9 3099.3L1703.9 3099.9L1702.6 3099.6L1700.8 3098.3L1698.7 3096.1L1694.8 3088.5L1692.3 3084.6L1690.5 3082.6L1689.1 3081.5L1687.9 3081.1L1687 3081.4L1686.2 3082.3L1685.7 3084.2L1685.6 3088L1686.4 3095.4L1685.7 3097.5L1684.7 3098.6L1683.5 3098.8L1682.1 3098.1L1680.4 3096.4L1678.7 3093.7L1675.9 3085.9L1674 3081.7L1672.5 3079.4L1671.2 3078L1670 3077.2L1668.9 3077.1L1667.8 3077.7L1666.8 3079.1L1666 3082.3L1665.3 3088.9L1664.2 3090.4L1662.9 3091.1L1661.5 3090.8L1660.1 3089.7L1658.6 3087.7L1657.2 3084.8L1655.9 3077.2L1654.7 3073L1653.5 3070.5L1652.4 3068.8L1651.2 3067.7L1650 3067.3L1648.8 3067.4L1647.4 3068.3L1645.8 3070.7L1643.7 3076.1L1642.1 3077L1640.6 3077.1L1639.1 3076.4L1637.8 3074.9L1636.7 3072.7L1635.8 3069.8L1635.9 3062.9L1635.4 3058.9L1634.7 3056.3L1633.8 3054.5L1632.7 3053.2L1631.5 3052.4L1630.1 3052.1L1628.5 3052.4L1626.2 3053.9L1622.9 3057.8L1620.9 3058L1619.2 3057.5L1617.8 3056.5L1616.7 3054.8L1615.9 3052.5L1615.5 3049.7L1617 3043.8L1617.4 3040.2L1617.1 3037.8L1616.5 3035.9L1615.6 3034.5L1614.5 3033.4L1613 3032.6L1611.1 3032.3L1608.4 3032.8L1603.9 3035L1601.8 3034.5L1600 3033.5L1598.7 3032.1L1597.8 3030.3L1597.4 3028.1L1597.5 3025.5L1600.5 3021.1L1601.6 3018.1L1601.8 3016L1601.5 3014.1L1600.8 3012.6L1599.8 3011.3L1598.4 3010.1L1596.4 3009.2L1593.3 3008.7L1588 3009L1585.7 3007.8L1584 3006.4L1582.9 3004.7L1582.3 3002.9L1582.4 3000.9L1583 2998.8L1587.1 2995.9L1588.9 2993.8L1589.6 2992.1L1589.7 2990.4L1589.3 2988.9L1588.5 2987.4L1587.1 2985.9L1585.2 2984.5L1581.9 2983L1576 2981.4L1573.8 2979.6L1572.3 2977.8L1571.3 2976L1571.1 2974.2L1571.6 2972.5L1572.7 2970.9L1577.8 2970L1580.2 2968.8L1581.3 2967.5L1581.7 2966.1L1581.6 2964.7L1581 2963.1L1579.9 2961.4L1578 2959.5L1574.8 2957.1L1568.7 2953.7L1566.7 2951.5L1565.3 2949.4L1564.7 2947.5L1564.8 2945.9L1565.7 2944.6L1567.3 2943.7L1573 2944.6L1575.9 2944.4L1577.3 2943.7L1578.1 2942.7L1578.3 2941.4L1577.9 2939.9L1577.1 2938L1575.5 2935.8L1572.4 2932.6L1566.5 2927.7L1564.7 2925L1563.7 2922.8L1563.4 2921L1563.9 2919.7L1565.1 2918.8L1567 2918.6L1573 2921.3L1576.2 2922.2L1578 2922.1L1579 2921.4L1579.4 2920.4L1579.4 2919L1578.8 2917.1L1577.6 2914.6L1574.9 2910.9L1569.5 2904.6L1568.1 2901.8L1567.5 2899.5L1567.5 2897.9L1568.3 2896.9L1569.8 2896.7L1571.9 2897.1L1577.9 2901.5L1581.2 2903.3L1583.1 2903.8L1584.4 2903.7L1585.1 2902.9L1585.3 2901.7L1585.1 2899.9L1584.2 2897.4L1582.1 2893.3L1577.5 2886.1L1576.6 2883.2L1576.3 2881L1576.8 2879.6L1577.8 2879.1L1579.5 2879.3L1581.7 2880.5L1587.3 2886.3L1590.5 2889L1592.5 2890.1L1593.9 2890.3L1594.8 2890L1595.4 2889L1595.5 2887.4L1595.1 2884.9L1593.6 2880.7L1590.1 2873L1589.7 2870.2L1589.9 2868.3Z" stroke-width="3" fill="#fff"/>
<path d="M1582.8 2871.8L1584.1 2871.6L1585.8 2872.4L1588 2874.2L1592.9 2881.1L1595.9 2884.5L1597.8 2886.1L1599.3 2886.8L1600.4 2886.8L1601.1 2886.2L1601.6 2884.8L1601.6 2882.6L1600.9 2878.4L1598.7 2870.7L1598.8 2868.2L1599.4 2866.6L1600.5 2866L1601.8 2866.3L1603.6 2867.6L1605.6 2869.8L1609.6 2877.4L1612.1 2881.3L1613.9 2883.3L1615.3 2884.4L1616.5 2884.8L1617.4 2884.5L1618.2 2883.6L1618.7 2881.7L1618.8 2877.9L1618 2870.5L1618.7 2868.4L1619.7 2867.3L1620.9 2867.1L1622.3 2867.8L1624 2869.5L1625.7 2872.2L1628.5 2880L1630.4 2884.2L1631.9 2886.5L1633.2 2887.9L1634.4 2888.7L1635.5 2888.8L1636.6 2888.2L1637.6 2886.8L1638.4 2883.6L1639 2877L1640.2 2875.5L1641.5 2874.8L1642.9 2875.1L1644.3 2876.2L1645.7 2878.2L1647.2 2881.1L1648.5 2888.7L1649.7 2892.9L1650.9 2895.4L1652 2897.1L1653.2 2898.2L1654.4 2898.6L1655.6 2898.5L1657 2897.6L1658.6 2895.2L1660.6 2889.8L1662.3 2888.9L1663.8 2888.8L1665.2 2889.5L1666.6 2891L1667.7 2893.2L1668.6 2896.1L1668.5 2903L1669 2907L1669.7 2909.6L1670.6 2911.4L1671.7 2912.7L1672.9 2913.5L1674.3 2913.8L1675.9 2913.5L1678.2 2912L1681.5 2908.1L1683.5 2907.9L1685.2 2908.4L1686.6 2909.4L1687.7 2911.1L1688.5 2913.4L1688.9 2916.2L1687.4 2922.1L1687 2925.7L1687.3 2928.1L1687.9 2930L1688.8 2931.4L1689.9 2932.5L1691.4 2933.3L1693.3 2933.6L1696 2933.1L1700.5 2930.9L1702.6 2931.4L1704.4 2932.4L1705.7 2933.8L1706.6 2935.6L1707 2937.8L1706.9 2940.4L1703.9 2944.8L1702.8 2947.8L1702.6 2949.9L1702.9 2951.8L1703.6 2953.3L1704.6 2954.6L1706 2955.8L1708 2956.7L1711.1 2957.2L1716.4 2956.9L1718.6 2958.1L1720.4 2959.5L1721.5 2961.2L1722.1 2963L1722 2965L1721.4 2967.1L1717.3 2970L1715.5 2972.1L1714.8 2973.8L1714.7 2975.5L1715.1 2977L1715.9 2978.5L1717.2 2980L1719.2 2981.4L1722.5 2982.9L1728.3 2984.5L1730.6 2986.3L1732.1 2988.1L1733.1 2989.9L1733.3 2991.7L1732.8 2993.4L1731.7 2995L1726.6 2995.9L1724.2 2997.1L1723.1 2998.4L1722.7 2999.8L1722.8 3001.2L1723.4 3002.8L1724.5 3004.5L1726.3 3006.4L1729.6 3008.8L1735.7 3012.2L1737.7 3014.4L1739 3016.5L1739.7 3018.4L1739.5 3020L1738.7 3021.3L1737.1 3022.2L1731.4 3021.3L1728.5 3021.5L1727 3022.2L1726.3 3023.2L1726.1 3024.5L1726.5 3026L1727.3 3027.9L1728.9 3030.1L1732 3033.3L1737.9 3038.2L1739.7 3040.9L1740.7 3043.1L1741 3044.9L1740.5 3046.2L1739.3 3047.1L1737.4 3047.3L1731.4 3044.6L1728.2 3043.7L1726.4 3043.8L1725.4 3044.5L1725 3045.5L1725 3046.9L1725.6 3048.8L1726.8 3051.3L1729.5 3055L1734.9 3061.3L1736.3 3064.1L1736.9 3066.4L1736.9 3068L1736.1 3069L1734.6 3069.2L1732.5 3068.8L1726.5 3064.4L1723.2 3062.6L1721.3 3062.1L1720 3062.2L1719.3 3063L1719.1 3064.2L1719.3 3066L1720.2 3068.5L1722.3 3072.6L1726.9 3079.8L1727.8 3082.7L1728.1 3084.9L1727.6 3086.3L1726.6 3086.8L1724.9 3086.6L1722.7 3085.4L1717.1 3079.6L1713.9 3076.9L1711.9 3075.8L1710.5 3075.6L1709.6 3075.9L1709 3076.9L1708.9 3078.5L1709.3 3081L1710.8 3085.2L1714.3 3092.9L1714.7 3095.7L1714.5 3097.6L1713.8 3098.6L1712.5 3098.8L1710.8 3098L1708.6 3096.2L1703.7 3089.3L1700.7 3085.9L1698.8 3084.3L1697.3 3083.6L1696.2 3083.6L1695.5 3084.2L1695 3085.6L1695 3087.8L1695.7 3092L1697.9 3099.7L1697.8 3102.2L1697.2 3103.8L1696.1 3104.4L1694.8 3104.1L1693 3102.8L1691 3100.6L1687 3093L1684.5 3089.1L1682.7 3087.1L1681.3 3086L1680.1 3085.6L1679.2 3085.9L1678.4 3086.8L1677.9 3088.7L1677.8 3092.5L1678.6 3099.9L1677.9 3102L1676.9 3103.1L1675.7 3103.3L1674.3 3102.6L1672.6 3100.9L1670.9 3098.2L1668.1 3090.4L1666.2 3086.2L1664.7 3083.9L1663.4 3082.5L1662.2 3081.7L1661.1 3081.6L1660 3082.2L1659 3083.6L1658.2 3086.8L1657.6 3093.4L1656.4 3094.9L1655.1 3095.6L1653.7 3095.3L1652.3 3094.2L1650.9 3092.2L1649.4 3089.3L1648.1 3081.7L1646.9 3077.5L1645.7 3075L1644.6 3073.3L1643.4 3072.2L1642.2 3071.8L1641 3071.9L1639.6 3072.8L1638 3075.2L1636 3080.6L1634.3 3081.5L1632.8 3081.6L1631.4 3080.9L1630 3079.4L1628.9 3077.2L1628 3074.3L1628.1 3067.4L1627.6 3063.4L1626.9 3060.8L1626 3059L1624.9 3057.7L1623.7 3056.9L1622.3 3056.6L1620.7 3056.9L1618.4 3058.4L1615.1 3062.3L1613.1 3062.5L1611.4 3062L1610 3061L1608.9 3059.3L1608.1 3057L1607.7 3054.2L1609.2 3048.3L1609.6 3044.7L1609.3 3042.3L1608.7 3040.4L1607.8 3039L1606.7 3037.9L1605.2 3037.1L1603.3 3036.8L1600.6 3037.3L1596.1 3039.5L1594 3039L1592.2 3038L1590.9 3036.6L1590 3034.8L1589.6 3032.6L1589.7 3030L1592.7 3025.6L1593.8 3022.6L1594 3020.5L1593.7 3018.6L1593 3017.1L1592 3015.8L1590.6 3014.6L1588.6 3013.7L1585.5 3013.2L1580.2 3013.5L1578 3012.3L1576.2 3010.9L1575.1 3009.2L1574.5 3007.4L1574.6 3005.4L1575.2 3003.3L1579.3 3000.4L1581.1 2998.3L1581.8 2996.6L1581.9 2994.9L1581.5 2993.4L1580.7 2991.9L1579.4 2990.4L1577.4 2989L1574.1 2987.5L1568.3 2985.9L1566 2984.1L1564.5 2982.3L1563.5 2980.5L1563.3 2978.7L1563.8 2977L1564.9 2975.4L1570 2974.5L1572.4 2973.3L1573.5 2972L1573.9 2970.6L1573.8 2969.2L1573.2 2967.6L1572.1 2965.9L1570.3 2964L1567 2961.6L1560.9 2958.2L1558.9 2956L1557.6 2953.9L1556.9 2952L1557.1 2950.4L1557.9 2949.1L1559.5 2948.2L1565.2 2949.1L1568.1 2948.9L1569.6 2948.2L1570.3 2947.2L1570.5 2945.9L1570.1 2944.4L1569.3 2942.5L1567.7 2940.3L1564.6 2937.1L1558.7 2932.2L1556.9 2929.5L1555.9 2927.3L1555.6 2925.5L1556.1 2924.2L1557.3 2923.3L1559.2 2923.1L1565.2 2925.8L1568.4 2926.7L1570.2 2926.6L1571.2 2925.9L1571.6 2924.9L1571.6 2923.5L1571 2921.6L1569.8 2919.1L1567.1 2915.4L1561.7 2909.1L1560.3 2906.3L1559.7 2904L1559.7 2902.4L1560.5 2901.4L1562 2901.2L1564.1 2901.6L1570.1 2906L1573.4 2907.8L1575.3 2908.3L1576.6 2908.2L1577.3 2907.4L1577.5 2906.2L1577.3 2904.4L1576.4 2901.9L1574.3 2897.8L1569.7 2890.6L1568.8 2887.7L1568.5 2885.5L1569 2884.1L1570 2883.6L1571.7 2883.8L1573.9 2885L1579.5 2890.8L1582.7 2893.5L1584.7 2894.6L1586.1 2894.8L1587 2894.5L1587.6 2893.5L1587.7 2891.9L1587.3 2889.4L1585.8 2885.2L1582.3 2877.5L1581.9 2874.7L1582.1 2872.8Z" stroke-width="3.4" fill="#fff"/>
<ellipse cx="1648.3" cy="2985.2" rx="55.7" ry="96" transform="rotate(-30 1648.3 2985.2)"/>
<path d="M1629.8 3053.6A58 100 -30 0 1 1584.1 2913.7"/>
<path d="M1666.8 2916.8A58 100 -30 0 1 1712.5 3056.7"/>
<path d="M1590.8 2969.9A48.7 84 -30 0 1 1638.1 2911.6"/>
<path d="M1571.3 2955.8L1616.3 2929.8A37.1 64 -30 0 1 1680.3 3040.6L1635.3 3066.6A37.1 64 -30 0 1 1571.3 2955.8Z" fill="#fff"/>
<path d="M1548.5 2970.9L1554.5 2955L1565.6 2945.3L1588.1 2932.3L1577 2942L1571 2957.9Z" fill="#fff"/>
<path d="M1548.5 2970.9L1554.5 2955L1565.6 2945.3L1573.2 2959.4L1559.7 2979.6Z" fill="#fff"/>
<path d="M1611 2956.4L1627.8 2972.9L1641.6 2993.6L1664.2 2980.6L1650.3 2959.9L1633.5 2943.4Z" fill="#fff"/>
<path d="M1611 2956.4L1627.8 2972.9L1641.6 2993.6L1633.2 2997.5L1609 2968.1Z" fill="#fff"/>
<path d="M1654.6 3053.5L1648.6 3069.4L1637.5 3079.1L1660 3066.1L1671.1 3056.4L1677.1 3040.5Z" fill="#fff"/>
<path d="M1654.6 3053.5L1648.6 3069.4L1637.5 3079.1L1629.9 3065L1643.4 3044.8Z" fill="#fff"/>
<path d="M1592.1 3068L1575.3 3051.5L1561.4 3030.8L1583.9 3017.8L1597.8 3038.5L1614.6 3055Z" fill="#fff"/>
<path d="M1592.1 3068L1575.3 3051.5L1561.4 3030.8L1569.9 3026.9L1594.1 3056.3Z" fill="#fff"/>
<ellipse cx="1603.3" cy="3011.2" rx="34.8" ry="60" transform="rotate(-30 1603.3 3011.2)" fill="#fff"/>
<ellipse cx="1603.3" cy="3011.2" rx="25.5" ry="44" transform="rotate(-30 1603.3 3011.2)" stroke-width="3.8"/>
<clipPath id="hubc"><ellipse cx="1603.3" cy="3011.2" rx="25.5" ry="44" transform="rotate(-30 1603.3 3011.2)"/></clipPath>
<g clip-path="url(#hubc)">
<path d="M1628.8 3046.5L1678.4 3013.3" stroke-width="4.5"/>
<path d="M1626.8 3048.3L1676.6 3014.9" stroke-width="3"/>
<path d="M1622.4 3050.6L1672.6 3017" stroke-width="4.5"/>
<path d="M1619.7 3051.2L1670.2 3017.6" stroke-width="3"/>
<path d="M1614.4 3051.2L1665.3 3017.6" stroke-width="4.5"/>
<path d="M1611.3 3050.6L1662.5 3017" stroke-width="3"/>
<path d="M1605.4 3048.3L1657.1 3015" stroke-width="4.5"/>
<path d="M1602.1 3046.5L1654.2 3013.3" stroke-width="3"/>
<path d="M1596.2 3042.2L1648.8 3009.4" stroke-width="4.5"/>
<path d="M1593 3039.4L1645.9 3006.8" stroke-width="3"/>
<path d="M1587.6 3033.4L1641 3001.4" stroke-width="4.5"/>
<path d="M1584.9 3029.8L1638.5 2998.1" stroke-width="3"/>
<path d="M1580.4 3022.6L1634.5 2991.6" stroke-width="4.5"/>
<path d="M1578.3 3018.5L1632.5 2987.9" stroke-width="3"/>
<path d="M1575.2 3010.9L1629.7 2980.9" stroke-width="4.5"/>
<path d="M1573.9 3006.7L1628.6 2977.1" stroke-width="3"/>
<path d="M1572.5 2999.1L1627.2 2970.2" stroke-width="4.5"/>
<path d="M1572.1 2995.2L1626.9 2966.6" stroke-width="3"/>
<path d="M1572.4 2988.4L1627.2 2960.5" stroke-width="4.5"/>
<path d="M1573 2985.1L1627.7 2957.5" stroke-width="3"/>
<path d="M1575 2979.8L1629.6 2952.6" stroke-width="4.5"/>
<path d="M1576.6 2977.3L1631 2950.4" stroke-width="3"/>
<path d="M1580.1 2973.8L1634.2 2947.2" stroke-width="4.5"/>
<path d="M1582.5 2972.5L1636.3 2946" stroke-width="3"/>
<path d="M1587.3 2971.1L1640.7 2944.8" stroke-width="4.5"/>
<path d="M1590.2 2971L1643.3 2944.7" stroke-width="3"/>
</g>
<path d="M1326.5 3741.2L1380.2 3710.2A10 17.2 -30 0 1 1397.4 3740L1343.7 3771A10 17.2 -30 0 1 1326.5 3741.2Z" fill="#fff"/>
<path d="M1330.7 3738.8A10 17.2 -30 0 1 1347.9 3768.5"/>
<path d="M1337.7 3734.8A10 17.2 -30 0 1 1354.8 3764.5"/>
<path d="M1344.6 3730.8A10 17.2 -30 0 1 1361.7 3760.5"/>
<path d="M1351.5 3726.8A10 17.2 -30 0 1 1368.7 3756.5"/>
<path d="M1358.5 3722.8A10 17.2 -30 0 1 1375.6 3752.5"/>
<path d="M1365.4 3718.8A10 17.2 -30 0 1 1382.5 3748.5"/>
<path d="M1372.3 3714.8A10 17.2 -30 0 1 1389.4 3744.5"/>
<path d="M1270.5 3774.3L1328.6 3740.8A9.6 16.5 -30 0 1 1345.1 3769.4L1287 3802.9A9.6 16.5 -30 0 1 1270.5 3774.3Z" fill="#fff"/>
<path d="M1251.1 3752.6L1255.4 3750.1A26.1 45 -30 0 1 1300.4 3828.1L1296.1 3830.6A26.1 45 -30 0 1 1251.1 3752.6Z" stroke-width="3.6" fill="#fff"/>
<path d="M1251.1 3752.6A26.1 45 -30 0 1 1296.1 3830.6" stroke-width="3.6"/>
<ellipse cx="1273.6" cy="3791.6" rx="26.1" ry="45" transform="rotate(-30 1273.6 3791.6)" stroke-width="3.6"/>
<path d="M1257.4 3755.5A23.2 40 -30 0 1 1301 3798.9"/>
<path d="M1264.1 3767L1283.2 3778L1264.2 3789L1245 3778Z" fill="#fff"/>
<path d="M1283.2 3778L1292.7 3802.6L1273.7 3813.6L1264.2 3789Z" fill="#fff"/>
<path d="M1292.7 3802.6L1283.1 3816.2L1264.1 3827.2L1273.7 3813.6Z" fill="#fff"/>
<path d="M1283.1 3816.2L1264 3805.2L1244.9 3816.2L1264.1 3827.2Z" fill="#fff"/>
<path d="M1264 3805.2L1254.5 3780.6L1235.4 3791.6L1244.9 3816.2Z" fill="#fff"/>
<path d="M1254.5 3780.6L1264.1 3767L1245 3778L1235.4 3791.6Z" fill="#fff"/>
<path d="M1245 3778L1264.2 3789L1273.7 3813.6L1264.1 3827.2L1244.9 3816.2L1235.4 3791.6Z" stroke-width="3.8" fill="#fff"/>
<ellipse cx="1254.5" cy="3802.6" rx="12.2" ry="21" transform="rotate(-30 1254.5 3802.6)" stroke-width="3.6"/>
<path d="M1444.8 3627.3L1458.6 3619.3A31.6 54.5 -30 0 1 1513.1 3713.7L1499.2 3721.7A31.6 54.5 -30 0 1 1444.8 3627.3Z" stroke-width="3.6" fill="#fff"/>
<path d="M1444.8 3627.3A31.6 54.5 -30 0 1 1499.2 3721.7" stroke-width="3.6"/>
<ellipse cx="1472" cy="3674.5" rx="31.6" ry="54.5" transform="rotate(-30 1472 3674.5)" stroke-width="3.6"/>
<path d="M1466.1 3618.7A31.6 54.5 -30 0 1 1517.4 3707.4"/>
<ellipse cx="1472" cy="3674.5" rx="13.9" ry="24" transform="rotate(-30 1472 3674.5)"/>
<ellipse cx="1473.7" cy="3673.5" rx="9.9" ry="17" transform="rotate(-30 1473.7 3673.5)"/>
<path d="M1471.4 3657.5A8.7 15 -30 0 1 1487.6 3682.5"/>
<path d="M803.3 3252.4L1031 3122.3"/>
<path d="M1128.3 3066.1L1219.1 3015.6"/>
<path d="M1694.6 3297.5L1845.7 3212.6"/>
<path d="M1616.4 3344.9L1382.5 3479.5L1599.5 3606L1537 3641.9"/>
<path d="M1696.2 3298.6L1750 3268.3"/>
<path d="M2135.4 3044.9L2200 3011.8"/>
<circle cx="1831.2" cy="2991.1" r="41"/>
<path d="M1396 2713.8L1396 2830"/>
<path d="M1195.5 2776.9L1195.5 2891"/>
<path d="M959.3 2891.4L959.3 3004"/>
<path d="M720.8 3125.6L720.8 3239"/>
<path d="M536.4 3245.3L536.4 3358"/>
<path d="M1618 2755L1618 2867"/>
<path d="M1891.6 3327L1891.6 3440"/>
<path d="M2082.3 3161L2082.3 3273"/>
<path d="M1507.8 3720L1507.8 3837"/>
<path d="M1306.1 3825L1306.1 3940"/>
<g transform="translate(1660 2080) scale(0.35482)" stroke-width="8.5">
<path d="M795 385L1150 160L1180 148L1280 148L1375 78L1430 75L1440 95L1495 250"/>
<path d="M1425 82C1412.5 91.7 1366.7 120.3 1350 140C1333.3 159.7 1325 183.3 1325 200C1325 216.7 1334.2 230.8 1350 240C1365.8 249.2 1390 253.3 1420 255C1450 256.7 1484.8 254.5 1530 250C1575.2 245.5 1664.2 231.7 1691 228"/>
<path d="M1280 148C1282.5 151.7 1291.7 160.5 1295 170C1298.3 179.5 1293.3 192.5 1300 205C1306.7 217.5 1321.7 235.5 1335 245C1348.3 254.5 1372.5 259.2 1380 262"/>
<path d="M795 385C785.8 390.8 753.3 405.8 740 420C726.7 434.2 720 453.3 715 470C710 486.7 710.8 511.7 710 520"/>
<path d="M820 440L1100 270L1130 255L1240 258L1330 295L1370 310L1400 300L1691 265"/>
<path d="M820 440L840 455L1390 455L1420 445L1691 300"/>
<path d="M1010 335L1100 285L1260 285L1330 300L1280 345L1010 345Z"/>
<path d="M955 370L1500 370L1400 440L985 445Z"/>
<path d="M1100 285L1125 345"/>
<path d="M955 370L980 445"/>
<ellipse cx="1190" cy="235" rx="55" ry="20" transform="rotate(-20 1190 235)"/>
<ellipse cx="1320" cy="335" rx="40" ry="14" transform="rotate(-20 1320 335)"/>
<path d="M800 395L960 300L1120 230"/>
<path d="M700 530C710 523.3 740 500 760 490C780 480 801.7 473.3 820 470C838.3 466.7 851.7 468.3 870 470C888.3 471.7 920 478.3 930 480"/>
<ellipse cx="805" cy="497" rx="45" ry="20" transform="rotate(-12 805 497)"/>
<ellipse cx="805" cy="497" rx="30" ry="12" transform="rotate(-12 805 497)" stroke-width="12"/>
<ellipse cx="1245" cy="500" rx="45" ry="20" transform="rotate(-12 1245 500)"/>
<ellipse cx="1245" cy="500" rx="30" ry="12" transform="rotate(-12 1245 500)" stroke-width="12"/>
<path d="M690 570L700 530"/>
<path d="M705 575C732.5 570 832.5 556.7 870 545C907.5 533.3 876.7 514.2 930 505C983.3 495.8 1145 490.8 1190 490C1235 489.2 1207.5 491.7 1200 500C1192.5 508.3 1153.3 526.7 1145 540C1136.7 553.3 1134.2 571.7 1150 580C1165.8 588.3 1215 593.3 1240 590C1265 586.7 1270 570 1300 560C1330 550 1394.2 540.8 1420 530C1445.8 519.2 1449.2 500.8 1455 495"/>
<path d="M690 600L1165 610"/>
<path d="M735 625L1170 630"/>
<path d="M740 690L1200 695"/>
<path d="M760 715L1200 720"/>
<path d="M735 770L1030 770"/>
<path d="M1170 630C1183.3 631.7 1208.3 646.7 1250 640C1291.7 633.3 1385 603.3 1420 590C1455 576.7 1453.3 565 1460 560"/>
<path d="M1175 665C1189.2 665.8 1215.8 677.5 1260 670C1304.2 662.5 1403.3 631.7 1440 620C1476.7 608.3 1473.3 603.3 1480 600"/>
<path d="M1200 700C1216.7 700 1255 706.7 1300 700C1345 693.3 1431.7 668.3 1470 660C1508.3 651.7 1520 651.7 1530 650"/>
<path d="M1200 740C1215 740.8 1243.3 753.3 1290 745C1336.7 736.7 1439.2 704.2 1480 690C1520.8 675.8 1525.8 665 1535 660"/>
<path d="M1060 780C1091.7 781.7 1185 798.3 1250 790C1315 781.7 1416.7 740 1450 730"/>
<path d="M690 570L700 600L735 625L745 690L765 720L740 770"/>
<path d="M740 640C750 643.3 778.3 660.8 800 660C821.7 659.2 858.3 639.2 870 635"/>
<path d="M770 730C780 732.5 810 747.5 830 745C850 742.5 880 720 890 715"/>
<path d="M960 630L1000 675L1030 675L1000 630"/>
<path d="M1030 680L1120 620"/>
<path d="M1040 770L1120 720"/>
<path d="M1420 450L1691 330" stroke-width="14"/>
<path d="M1440 470L1691 360"/>
<ellipse cx="1520" cy="545" rx="36" ry="55" transform="rotate(-20 1520 545)"/>
<ellipse cx="1525" cy="545" rx="62" ry="82" transform="rotate(-20 1525 545)"/>
<path d="M1030 770C1033.3 780 1038.3 816.7 1050 830C1061.7 843.3 1073.3 841.7 1100 850C1126.7 858.3 1178.3 866.7 1210 880C1241.7 893.3 1258.3 908.3 1290 930C1321.7 951.7 1365 985 1400 1010C1435 1035 1466.7 1053.3 1500 1080C1533.3 1106.7 1568.2 1137.5 1600 1170C1631.8 1202.5 1675.8 1257.5 1691 1275"/>
<path d="M765 795L900 795L920 815L915 850L800 885L775 850Z"/>
<path d="M950 800L1010 795L1035 830L990 850L960 830Z"/>
<ellipse cx="955" cy="885" rx="25" ry="32" transform="rotate(-20 955 885)"/>
<path d="M735 770L780 880L640 880"/>
<path d="M760 780L800 890"/>
<path d="M790 800L810 850L900 845"/>
<ellipse cx="608" cy="893" rx="25" ry="35" transform="rotate(-20 608 893)"/>
<path d="M575 850C580.3 839.5 597.5 836.2 610 842C622.5 847.8 645 870.3 650 885C655 899.7 648.3 920 640 930C631.7 940 610.3 949.2 600 945C589.7 940.8 582.2 920.8 578 905C573.8 889.2 569.7 860.5 575 850Z"/>
<path d="M760 730L580 845L560 860L430 930L400 935L120 1105L100 1130L95 1180L120 1310L150 1466"/>
<path d="M175 1085L580 850"/>
<path d="M300 1070L530 925" stroke-width="14"/>
<path d="M140 1270C148.3 1266.7 180 1259.2 190 1250C200 1240.8 192.5 1224.2 200 1215C207.5 1205.8 229.2 1198.3 235 1195"/>
<path d="M235 1195L330 1140L370 1190L400 1195L430 1170L440 1110L520 1075L540 1050L560 940L590 930L640 945L660 920L800 920"/>
<path d="M230 1130L250 1115L310 1110L340 1140"/>
<path d="M420 1105L470 1060L500 1045L540 930"/>
<ellipse cx="145" cy="1195" rx="20" ry="30" transform="rotate(-20 145 1195)"/>
<ellipse cx="190" cy="1150" rx="25" ry="33" transform="rotate(-20 190 1150)"/>
<ellipse cx="190" cy="1150" rx="17" ry="24" transform="rotate(-20 190 1150)"/>
<ellipse cx="372" cy="1125" rx="25" ry="33" transform="rotate(-20 372 1125)"/>
<ellipse cx="560" cy="1190" rx="25" ry="37" transform="rotate(-20 560 1190)"/>
<ellipse cx="560" cy="1190" rx="17" ry="27" transform="rotate(-20 560 1190)"/>
<path d="M510 1150C517.5 1135.8 543.3 1125 560 1130C576.7 1135 601.7 1163.3 610 1180C618.3 1196.7 618.3 1219.2 610 1230C601.7 1240.8 575.8 1247.5 560 1245C544.2 1242.5 523.3 1230.8 515 1215C506.7 1199.2 502.5 1164.2 510 1150Z"/>
<path d="M140 1270L150 1300L175 1466"/>
<path d="M195 1245L335 1165"/>
<path d="M440 1160L735 1020"/>
<path d="M430 1100L800 930"/>
<path d="M610 1130L740 1040" stroke-width="13"/>
<path d="M500 1145L520 1210"/>
<ellipse cx="845" cy="1005" rx="28" ry="36" transform="rotate(-20 845 1005)"/>
<ellipse cx="845" cy="1005" rx="48" ry="58" transform="rotate(-20 845 1005)"/>
<path d="M945 985L985 980L1000 1010L965 1022Z"/>
<path d="M1000 900L1090 880L1180 900L1220 1010L1215 1050L1040 1060L1010 1010Z"/>
<path d="M1040 940L1050 1010"/>
<path d="M1080 920L1150 995L1215 995"/>
<path d="M930 930C928.3 941.7 918.3 981.7 920 1000C921.7 1018.3 928.3 1026.7 940 1040C951.7 1053.3 958.3 1075 990 1080C1021.7 1085 1101.7 1067.5 1130 1070C1158.3 1072.5 1155 1090.8 1160 1095"/>
<ellipse cx="1195" cy="1110" rx="24" ry="34" transform="rotate(-20 1195 1110)" stroke-width="14"/>
<path d="M1160 1095C1161.7 1102.5 1161.7 1128.3 1170 1140C1178.3 1151.7 1197.5 1163.3 1210 1165C1222.5 1166.7 1238.3 1160.8 1245 1150C1251.7 1139.2 1253.3 1115 1250 1100C1246.7 1085 1229.2 1066.7 1225 1060"/>
<ellipse cx="1335" cy="990" rx="25" ry="35" transform="rotate(-20 1335 990)"/>
<path d="M1240 1050L1290 1020L1300 1060L1250 1100"/>
<ellipse cx="912" cy="1148" rx="15" ry="25" transform="rotate(-20 912 1148)"/>
<path d="M800 930L820 950L900 930"/>
<path d="M800 1060L870 1060" stroke-dasharray="30 18"/>
<path d="M1010 1160L1035 1165L1330 1225L1350 1260L1340 1440L1150 1420L1110 1350L1010 1190Z"/>
<ellipse cx="1235" cy="1270" rx="22" ry="36" transform="rotate(-20 1235 1270)"/>
<path d="M1090 1180L1200 1360L1330 1380"/>
<path d="M1200 1360L1150 1400"/>
<path d="M1250 1250L1340 1330" stroke-width="13"/>
<path d="M1020 1325L1060 1305"/>
<path d="M1120 1270L1175 1240"/>
<path d="M1580 1000L1640 970"/>
<path d="M1490 1050L1530 1030"/>
<path d="M1140 1230L1170 1300"/>
<path d="M1350 1466C1353.3 1438.3 1358.3 1341 1370 1300C1381.7 1259 1395 1241.7 1420 1220C1445 1198.3 1490 1176.7 1520 1170C1550 1163.3 1571.5 1170 1600 1180C1628.5 1190 1675.8 1221.7 1691 1230"/>
<path d="M1470 1466C1475 1451.7 1485 1401 1500 1380C1515 1359 1536.7 1348.3 1560 1340C1583.3 1331.7 1618.2 1330 1640 1330C1661.8 1330 1682.5 1338.3 1691 1340"/>
<path d="M1520 1180L1560 1310" stroke-width="14"/>
<path d="M1520 1466C1523.3 1455 1530 1416 1540 1400C1550 1384 1573.3 1375 1580 1370"/>
<path d="M1590 530C1598.3 538.3 1623.2 568.3 1640 580C1656.8 591.7 1682.5 596.7 1691 600"/>
<path d="M1600 660C1598.7 673.3 1587.8 718.3 1592 740C1596.2 761.7 1608.5 775 1625 790C1641.5 805 1680 823.3 1691 830"/>
<path d="M1640 600C1639.2 613.3 1631.7 659.2 1635 680C1638.3 700.8 1650.7 714.2 1660 725C1669.3 735.8 1685.8 741.7 1691 745"/>
<path d="M1620 640C1618.7 653.3 1607.8 700 1612 720C1616.2 740 1631.8 750.8 1645 760C1658.2 769.2 1683.3 772.5 1691 775"/>
<path d="M1230 800C1231.7 806.7 1226.7 826.7 1240 840C1253.3 853.3 1286.7 874.2 1310 880C1333.3 885.8 1358.3 881.7 1380 875C1401.7 868.3 1410 847.5 1440 840C1470 832.5 1538.3 835 1560 830C1581.7 825 1568.3 813.3 1570 810"/>
<path d="M1340 780L1370 870"/>
<path d="M1430 740L1460 830"/>
<path d="M1490 700L1530 820"/>
<path d="M1300 1020L1400 1010"/>
<path d="M1250 1120L1420 1140L1470 1050"/>
<path d="M1380 1020L1420 1060L1400 1120"/>
<path d="M1640 1140L1691 1120"/>
<path d="M1630 1170L1691 1200"/>
</g>
<g transform="translate(2260 2080) scale(0.35482)" stroke-width="8.5">
<path d="M548 185C526.7 199.2 453 239.2 420 270C387 300.8 365.8 335 350 370C334.2 405 327.5 441.7 325 480C322.5 518.3 327.5 563.3 335 600C342.5 636.7 354.2 668.3 370 700C385.8 731.7 406.7 761.7 430 790C453.3 818.3 480 845 510 870C540 895 575 920.8 610 940C645 959.2 680 972.5 720 985C760 997.5 810 1010 850 1015C890 1020 921.7 1019.2 960 1015C998.3 1010.8 1039.2 1003.8 1080 990C1120.8 976.2 1184.2 941.7 1205 932" stroke-width="11"/>
<path d="M540 200C523.3 210.8 468.3 240 440 265C411.7 290 386.7 320.8 370 350C353.3 379.2 345 425 340 440"/>
<path d="M0 225L390 88L450 88L500 120L550 180L500 310L335 440"/>
<path d="M0 300L440 95"/>
<path d="M0 335L470 120L500 120"/>
<path d="M410 110L500 125L545 190" stroke-width="13"/>
<path d="M240 340C248.3 328.3 275 288.3 290 270C305 251.7 308.3 250 330 230C351.7 210 393.3 168.3 420 150C446.7 131.7 478.3 125 490 120"/>
<ellipse cx="85" cy="248" rx="55" ry="20" transform="rotate(-15 85 248)"/>
<path d="M0 290C15 283.3 65 259.2 90 250C115 240.8 140 237.5 150 235"/>
<path d="M90 380C96.7 377.5 111.7 369.2 130 365C148.3 360.8 181.7 359.2 200 355C218.3 350.8 228.3 349.2 240 340C251.7 330.8 260 315 270 300C280 285 295 258.3 300 250"/>
<path d="M90 380C86.7 386.7 73.3 405 70 420C66.7 435 65 456.7 70 470C75 483.3 95 491.7 100 500C105 508.3 111.7 510 100 520C88.3 530 46.7 546.7 30 560C13.3 573.3 5 593.3 0 600"/>
<path d="M100 390C97 395.8 84.5 411.7 82 425C79.5 438.3 80 457.5 85 470C90 482.5 107.5 495 112 500"/>
<ellipse cx="178" cy="450" rx="57" ry="52" transform="rotate(-20 178 450)"/>
<ellipse cx="130" cy="640" rx="80" ry="72" transform="rotate(-20 130 640)"/>
<ellipse cx="122" cy="652" rx="62" ry="55" transform="rotate(-20 122 652)"/>
<ellipse cx="112" cy="668" rx="46" ry="40" transform="rotate(-20 112 668)"/>
<ellipse cx="105" cy="672" rx="36" ry="30" transform="rotate(-20 105 672)"/>
<path d="M0 640C3.3 650 6.7 681.7 20 700C33.3 718.3 55 740 80 750C105 760 141.7 768.3 170 760C198.3 751.7 230 711.7 250 700C270 688.3 283.3 691.7 290 690"/>
<path d="M0 690C10 703.3 31.7 755.8 60 770C88.3 784.2 138.3 784.2 170 775C201.7 765.8 236.7 725 250 715"/>
<path d="M290 690L300 720L330 790L420 900L500 960L580 1000L590 1020L560 1040L450 1110"/>
<path d="M280 730L330 830L430 930L560 1010"/>
<ellipse cx="563" cy="1133" rx="56" ry="52" transform="rotate(-20 563 1133)"/>
<ellipse cx="783" cy="1130" rx="80" ry="72" transform="rotate(-20 783 1130)"/>
<ellipse cx="777" cy="1142" rx="62" ry="56" transform="rotate(-20 777 1142)"/>
<ellipse cx="767" cy="1158" rx="44" ry="34" transform="rotate(-20 767 1158)"/>
<ellipse cx="760" cy="1165" rx="32" ry="22" transform="rotate(-20 760 1165)"/>
<path d="M450 1110C448.3 1116.7 436.7 1135 440 1150C443.3 1165 448.3 1185.8 470 1200C491.7 1214.2 553.3 1229.2 570 1235"/>
<path d="M570 1235L680 1170L700 1180"/>
<path d="M700 1180C705 1185 713.3 1202.5 730 1210C746.7 1217.5 776.7 1224.2 800 1225C823.3 1225.8 853.3 1225.8 870 1215C886.7 1204.2 888.3 1177.5 900 1160C911.7 1142.5 916.7 1122.5 940 1110C963.3 1097.5 1006.7 1093.3 1040 1085C1073.3 1076.7 1103.3 1075 1140 1060C1176.7 1045 1240 1005.8 1260 995"/>
<path d="M945 1122C960.8 1117.8 1005.8 1105.3 1040 1097C1074.2 1088.7 1114.2 1087.8 1150 1072C1185.8 1056.2 1237.5 1013.7 1255 1002"/>
<path d="M460 1120C459.2 1125 451.7 1138.3 455 1150C458.3 1161.7 460.8 1178.3 480 1190C499.2 1201.7 540 1222.5 570 1220C600 1217.5 645 1182.5 660 1175"/>
<path d="M1205 932L1265 990L1388 1127"/>
<path d="M1085 990L1205 934" stroke-width="13"/>
<path d="M420 1220C433.3 1228.3 470 1258.3 500 1270C530 1281.7 566.7 1288.3 600 1290C633.3 1291.7 668.3 1286.7 700 1280C731.7 1273.3 761.7 1260 790 1250C818.3 1240 856.7 1225 870 1220"/>
<path d="M860 1230L965 1340L880 1466" stroke-width="16"/>
<path d="M800 1260L900 1380L1000 1466"/>
<path d="M790 1290C796.7 1300 820 1328.3 830 1350C840 1371.7 848.3 1400.7 850 1420C851.7 1439.3 841.7 1458.3 840 1466"/>
<path d="M0 745L420 1225"/>
<path d="M0 775L400 1270L560 1345"/>
<path d="M0 830L390 1300"/>
<path d="M0 700L60 770"/>
<path d="M0 500L45 480"/>
<path d="M120 860L180 830"/>
<path d="M235 800L290 770"/>
<path d="M350 735L385 715"/>
<path d="M0 1110L130 1020L60 990L40 930L0 950"/>
<path d="M40 930L130 1020"/>
<path d="M640 1330L570 1360L470 1340L460 1400L480 1420L540 1390L560 1345"/>
<path d="M400 1240C411.7 1248.3 443.3 1276.7 470 1290C496.7 1303.3 531.7 1318.3 560 1320C588.3 1321.7 626.7 1303.3 640 1300"/>
<path d="M0 1380L250 1466"/>
<path d="M260 1466L470 1350"/>
<path d="M80 1380L130 1360"/>
<path d="M480 1466C486.7 1461.7 505 1443.5 520 1440C535 1436.5 558.3 1440.7 570 1445C581.7 1449.3 586.7 1462.5 590 1466"/>
</g>
<circle cx="2598.5" cy="2218.8" r="41.5"/>
<path d="M2561.6 2240.4L2416.1 2323.1"/>
<text transform="translate(2598.5 2239.1) scale(0.76 1)" class="c" text-anchor="middle">A</text>
<g transform="translate(2600 2480) scale(0.35482)" stroke-width="8.5">
<path d="M415 0C439.2 25 512.5 102.5 560 150C607.5 197.5 660 250 700 285C740 320 766.7 340 800 360C833.3 380 866.7 395.8 900 405C933.3 414.2 983.3 413.3 1000 415"/>
<path d="M1000 415L1040 385L1085 405L1330 372"/>
<path d="M0 295L170 440"/>
<path d="M0 400L130 520"/>
<path d="M0 625L140 555" stroke-width="14"/>
<path d="M130 580C135 566.7 148.3 519.2 160 500C171.7 480.8 186.7 468.3 200 465C213.3 461.7 228.3 473.3 240 480C251.7 486.7 265 500.8 270 505" stroke-width="13"/>
<path d="M200 450L210 520"/>
<path d="M290 665L345 640" stroke-width="14"/>
<path d="M530 525L580 505" stroke-width="14"/>
<path d="M640 465L690 440" stroke-width="14"/>
<path d="M750 405L775 392" stroke-width="14"/>
<path d="M60 800L110 775"/>
<path d="M400 600L450 575"/>
<path d="M840 352L1020 250"/>
<ellipse cx="183" cy="655" rx="30" ry="42" transform="rotate(-20 183 655)"/>
<ellipse cx="183" cy="655" rx="20" ry="30" transform="rotate(-20 183 655)"/>
<path d="M125 620C126.7 603.3 130.8 596.7 140 590C149.2 583.3 165 575 180 580C195 585 220.8 603.3 230 620C239.2 636.7 240 664.2 235 680C230 695.8 212.5 709.2 200 715C187.5 720.8 171.7 719.2 160 715C148.3 710.8 135.8 705.8 130 690C124.2 674.2 123.3 636.7 125 620Z"/>
<path d="M140 590L360 445L405 440L425 470L460 550"/>
<path d="M200 600L400 470"/>
<path d="M215 625L415 490"/>
<path d="M230 690L440 590L450 575"/>
<path d="M460 550L585 700L600 710L590 720L540 720L445 675L400 700L330 760L320 790"/>
<path d="M455 580L560 710"/>
<path d="M125 620L120 700L150 1040L165 1075L100 1095L95 1120L120 1190L165 1215"/>
<path d="M155 715L175 1065"/>
<path d="M165 1215L190 1160L300 1090"/>
<path d="M165 1215L175 1466"/>
<path d="M190 1160L200 1466"/>
<path d="M255 1120L270 1466"/>
<path d="M100 1095L170 1080L200 1100L250 1125"/>
<path d="M180 820L200 870"/>
<path d="M205 940L215 1000"/>
<ellipse cx="403" cy="780" rx="38" ry="22" transform="rotate(-5 403 780)"/>
<path d="M320 790C320 780.8 326.7 767.5 340 760C353.3 752.5 380 745 400 745C420 745 443.3 752.5 460 760C476.7 767.5 496.7 781.7 500 790C503.3 798.3 496.7 804.2 480 810C463.3 815.8 423.3 824.2 400 825C376.7 825.8 353.3 820.8 340 815C326.7 809.2 320 799.2 320 790Z"/>
<path d="M230 780L320 750L400 745"/>
<path d="M225 790L250 820L320 860"/>
<path d="M320 790L325 880"/>
<path d="M340 885L350 1190" stroke-width="14"/>
<path d="M375 925L378 1180"/>
<path d="M350 1190L378 1180"/>
<path d="M500 790L520 740L600 715"/>
<path d="M520 775L830 735"/>
<ellipse cx="515" cy="900" rx="32" ry="42" transform="rotate(-20 515 900)" stroke-width="12"/>
<ellipse cx="515" cy="900" rx="18" ry="26" transform="rotate(-20 515 900)"/>
<path d="M500 850C506.7 843.3 525 815 540 810C555 805 577.5 808.3 590 820C602.5 831.7 613.3 858.3 615 880C616.7 901.7 602.5 938.3 600 950"/>
<path d="M480 950L520 1000L600 960"/>
<path d="M400 1050L480 990"/>
<path d="M400 1050L600 975L640 920L740 865"/>
<path d="M480 950L470 1000L400 1050"/>
<path d="M595 545L770 425L1215 395L1340 370L1380 385L1360 420L1030 525L1010 555L980 540L620 575Z"/>
<path d="M1030 525L1215 495L1200 510L1030 555"/>
<path d="M1215 395L1025 530"/>
<path d="M1340 430L1040 680"/>
<path d="M1360 420L1130 690"/>
<ellipse cx="935" cy="593" rx="25" ry="33" transform="rotate(-20 935 593)"/>
<path d="M900 575C903.3 571.7 910 556.7 920 555C930 553.3 950.8 557.5 960 565C969.2 572.5 975 587.5 975 600C975 612.5 965.8 633.3 960 640C954.2 646.7 943.3 640 940 640"/>
<path d="M975 570L1010 555"/>
<path d="M960 640L970 690"/>
<path d="M800 580C805 586.7 824.2 600 830 620C835.8 640 835 656.7 835 700C835 743.3 827.5 846.7 830 880C832.5 913.3 841.7 899.2 850 900C858.3 900.8 875 887.5 880 885"/>
<path d="M890 570C886.7 581.7 871.7 615 870 640C868.3 665 877.5 685 880 720C882.5 755 884.2 828.3 885 850"/>
<path d="M880 790C886.7 780 906.7 743.3 920 730C933.3 716.7 953.3 713.3 960 710"/>
<path d="M920 765C933.3 770.8 970 784.2 1000 800C1030 815.8 1066.7 838.3 1100 860C1133.3 881.7 1183.3 918.3 1200 930"/>
<path d="M570 640L655 600L680 605L715 655L690 665L670 620"/>
<path d="M580 640L600 700"/>
<path d="M740 670L790 580"/>
<path d="M650 685L830 665"/>
<path d="M660 695L830 680"/>
<path d="M790 600C793.3 597.5 803.3 585 810 585C816.7 585 826.7 597.5 830 600"/>
<path d="M1380 385L1430 560L1480 790L1510 880L1510 920L1460 1010L1450 1060L1480 1090L1530 1120L1555 1160L1545 1210L1520 1250L1530 1330L1560 1466"/>
<path d="M1365 420L1415 570L1465 800L1490 890L1490 920L1440 1010L1435 1070L1470 1100"/>
<path d="M1480 1090C1488.3 1096.7 1519.2 1113.3 1530 1130C1540.8 1146.7 1546.7 1170 1545 1190C1543.3 1210 1522.5 1225 1520 1250C1517.5 1275 1524.2 1304 1530 1340C1535.8 1376 1550.8 1445 1555 1466" stroke-width="16"/>
<path d="M1400 460L1630 345"/>
<path d="M1395 355L1460 330L1490 335L1530 385"/>
<path d="M1400 1090L1440 1075"/>
<path d="M1480 1080L1630 990"/>
<path d="M1540 1260L1630 1200"/>
<path d="M1430 935L1480 915"/>
<ellipse cx="1310" cy="690" rx="65" ry="110" transform="rotate(-20 1310 690)"/>
<ellipse cx="1310" cy="695" rx="35" ry="55" transform="rotate(-20 1310 695)"/>
<ellipse cx="1312" cy="695" rx="25" ry="42" transform="rotate(-20 1312 695)"/>
<path d="M1040 680L1100 690L1130 690"/>
<path d="M985 705C994.2 706.7 1020.8 717.5 1040 715C1059.2 712.5 1090 694.2 1100 690"/>
<path d="M1130 690C1141.7 701.7 1173.3 735 1200 760C1226.7 785 1266.7 820.8 1290 840C1313.3 859.2 1331.7 869.2 1340 875"/>
<path d="M1140 1010L1340 870L1390 870L1420 910L1425 950L1380 1020L1200 1095"/>
<ellipse cx="1165" cy="1050" rx="32" ry="42" transform="rotate(-20 1165 1050)"/>
<ellipse cx="1165" cy="1050" rx="18" ry="26" transform="rotate(-20 1165 1050)"/>
<path d="M1135 1020C1134.2 1026.7 1125.8 1047.5 1130 1060C1134.2 1072.5 1148.3 1089.2 1160 1095C1171.7 1100.8 1193.3 1095 1200 1095"/>
<path d="M455 1130L530 1095L540 1100"/>
<path d="M455 1130L490 1200L530 1220"/>
<path d="M470 1140L520 1110"/>
<ellipse cx="385" cy="1370" rx="70" ry="115" transform="rotate(-20 385 1370)"/>
<ellipse cx="375" cy="1385" rx="50" ry="90" transform="rotate(-20 375 1385)"/>
<ellipse cx="370" cy="1390" rx="38" ry="72" transform="rotate(-20 370 1390)"/>
<path d="M330 1240C338.3 1239.2 361.7 1231.7 380 1235C398.3 1238.3 421.7 1242.5 440 1260C458.3 1277.5 480.8 1311.7 490 1340C499.2 1368.3 498.3 1409 495 1430C491.7 1451 474.2 1460 470 1466"/>
<path d="M0 870L30 940"/>
<path d="M30 1000C32.5 1005 43.3 1018.3 45 1030C46.7 1041.7 40.8 1063.3 40 1070"/>
<path d="M0 1130L100 1080"/>
<path d="M0 1260L100 1205"/>
</g>
<circle cx="2999.9" cy="2545.6" r="41.5"/>
<path d="M2961.9 2568.7L2898 2604.9"/>
<text transform="translate(2999.9 2565.9) scale(0.76 1)" class="c" text-anchor="middle">B</text>
<g transform="translate(2200 2560) scale(0.35482)" stroke-width="8.5">
<path d="M95 0C97.5 16.7 99.2 66.7 110 100C120.8 133.3 140 168.3 160 200C180 231.7 213 265.8 230 290C247 314.2 256.7 335.8 262 345"/>
<path d="M0 300C16.7 316.7 66.7 375 100 400C133.3 425 176.7 443.3 200 450C223.3 456.7 230 451.7 240 440C250 428.3 255.8 395 260 380C264.2 365 264.2 355 265 350"/>
<path d="M0 440C10 450 35 483.3 60 500C85 516.7 126.7 533.3 150 540C173.3 546.7 181.7 546.7 200 540C218.3 533.3 240 520 260 500C280 480 305 445 320 420C335 395 346.7 371.7 350 350C353.3 328.3 341.7 300 340 290"/>
<path d="M0 530C16.7 541.7 66.7 585 100 600C133.3 615 166.7 618.3 200 620C233.3 621.7 270 618.3 300 610C330 601.7 358.3 588.3 380 570C401.7 551.7 418.3 525 430 500C441.7 475 446.7 433.3 450 420"/>
<path d="M200 0C205 15 213.3 53.3 230 90C246.7 126.7 280.8 180 300 220C319.2 260 337.5 311.7 345 330"/>
<path d="M260 380L270 360L350 345"/>
<path d="M0 290L160 205"/>
<path d="M0 312L140 232"/>
<path d="M20 330C36.7 348.3 86.7 416.7 120 440C153.3 463.3 203.3 465 220 470" stroke-width="12"/>
<path d="M0 40C3.3 51.7 10 83.3 20 110C30 136.7 53.3 185 60 200"/>
<path d="M245 60C254.2 63.3 277.5 71.7 300 80C322.5 88.3 363.3 96.7 380 110C396.7 123.3 389.2 138.3 400 160C410.8 181.7 433.3 216.7 445 240C456.7 263.3 460.8 283.3 470 300C479.2 316.7 485 330 500 340C515 350 526.7 346.7 560 360C593.3 373.3 666.7 405 700 420C733.3 435 738.3 430 760 450C781.7 470 811.7 516.7 830 540C848.3 563.3 863.3 581.7 870 590"/>
<path d="M225 85C230.8 99.2 245.8 140.8 260 170C274.2 199.2 290 233.3 310 260C330 286.7 353.3 306.7 380 330C406.7 353.3 440 378.3 470 400C500 421.7 530 440 560 460C590 480 621.7 500 650 520C678.3 540 705 558.3 730 580C755 601.7 783.3 636.7 800 650C816.7 663.3 825 658.3 830 660"/>
<path d="M830 660L835 580"/>
<ellipse cx="493" cy="297" rx="24" ry="32" transform="rotate(-20 493 297)"/>
<ellipse cx="875" cy="643" rx="22" ry="30" transform="rotate(-20 875 643)"/>
<path d="M445 240C449.2 241.7 459.2 248.3 470 250C480.8 251.7 499.2 241.7 510 250C520.8 258.3 529.2 285.8 535 300C540.8 314.2 543.3 329.2 545 335"/>
<path d="M870 590C875.8 593.3 893.3 600 905 610C916.7 620 925.8 631.7 940 650C954.2 668.3 980 695 990 720C1000 745 998.3 770 1000 800C1001.7 830 1002.5 873.3 1000 900C997.5 926.7 987.5 950 985 960"/>
<path d="M850 690C858.3 691.7 885 700 900 700C915 700 928.3 685 940 690C951.7 695 964.2 695 970 730C975.8 765 976.7 861.7 975 900C973.3 938.3 964.2 945 960 960C955.8 975 951.7 985 950 990"/>
<ellipse cx="995" cy="1030" rx="22" ry="32" transform="rotate(-20 995 1030)"/>
<ellipse cx="960" cy="940" rx="12" ry="20" transform="rotate(-20 960 940)"/>
<path d="M985 960C989.2 965 1000.8 976.7 1010 990C1019.2 1003.3 1031.7 1025 1040 1040C1048.3 1055 1046.7 1061.7 1060 1080C1073.3 1098.3 1103.3 1125 1120 1150C1136.7 1175 1151.7 1201.7 1160 1230C1168.3 1258.3 1170 1291.7 1170 1320C1170 1348.3 1160.8 1375.7 1160 1400C1159.2 1424.3 1164.2 1455 1165 1466"/>
<path d="M950 990C951.7 998.3 955 1023.3 960 1040C965 1056.7 979.2 1075 980 1090C980.8 1105 968.3 1113.3 965 1130C961.7 1146.7 960.8 1180 960 1190"/>
<path d="M990 1140C995 1135 1008.3 1115 1020 1110C1031.7 1105 1046.7 1103.3 1060 1110C1073.3 1116.7 1088.3 1131.7 1100 1150C1111.7 1168.3 1123.3 1195 1130 1220C1136.7 1245 1140 1281.7 1140 1300C1140 1318.3 1131.7 1325 1130 1330"/>
<path d="M960 1190L900 1210L890 1260L880 1275L420 1275L410 1290L410 1466"/>
<path d="M430 1300L680 1295L695 1320L690 1380L620 1420L615 1466"/>
<path d="M430 1300L432 1466"/>
<ellipse cx="935" cy="1262" rx="22" ry="32" transform="rotate(-20 935 1262)"/>
<path d="M900 1210C905 1208.3 917.5 1196.7 930 1200C942.5 1203.3 965.8 1215 975 1230C984.2 1245 987.5 1273.3 985 1290C982.5 1306.7 972.5 1325 960 1330C947.5 1335 918.3 1321.7 910 1320"/>
<path d="M700 1466C703.3 1450 710 1394.3 720 1370C730 1345.7 741.7 1331.7 760 1320C778.3 1308.3 806.7 1300 830 1300C853.3 1300 888.3 1316.7 900 1320"/>
<path d="M865 1466C867.5 1456.7 870.8 1424.3 880 1410C889.2 1395.7 900 1384.2 920 1380C940 1375.8 976.7 1375 1000 1385C1023.3 1395 1046.7 1426.5 1060 1440C1073.3 1453.5 1076.7 1461.7 1080 1466"/>
<path d="M885 1466C887.5 1459.2 890.8 1436 900 1425C909.2 1414 925 1403.3 940 1400C955 1396.7 981.7 1404.2 990 1405"/>
<path d="M905 1370L1140 1250"/>
<path d="M905 1340L905 1370"/>
<ellipse cx="640" cy="1450" rx="20" ry="30" transform="rotate(-20 640 1450)"/>
<ellipse cx="715" cy="135" rx="32" ry="45" transform="rotate(-20 715 135)"/>
<path d="M620 140C625 131.7 636.7 103.3 650 90C663.3 76.7 683.3 63.3 700 60C716.7 56.7 736.7 58.3 750 70C763.3 81.7 775.8 110 780 130C784.2 150 780 173.3 775 190C770 206.7 754.2 223.3 750 230"/>
<path d="M620 140C626.7 145 648.3 156.7 660 170C671.7 183.3 676.7 207.5 690 220C703.3 232.5 723.3 241.7 740 245C756.7 248.3 781.7 240.8 790 240"/>
<path d="M790 240L1000 130L1010 100"/>
<path d="M1000 0C1002.5 8.3 1015 32.5 1015 50C1015 67.5 1002.5 95.8 1000 105"/>
<path d="M640 0L630 40L650 60"/>
<path d="M395 185L640 60"/>
<path d="M445 235L610 150"/>
<path d="M550 300L680 230"/>
<path d="M655 360L1000 140L1060 50L1130 0" stroke-width="14"/>
<path d="M1020 140L1100 170L1170 230L1250 320"/>
<path d="M1100 40L1250 200"/>
<path d="M865 545L1250 335" stroke-width="14"/>
<ellipse cx="1045" cy="610" rx="135" ry="285" transform="rotate(-25 1045 610)" stroke-dasharray="70 45"/>
<path d="M1065 540C1072.5 550 1095.8 576.7 1110 600C1124.2 623.3 1140 653.3 1150 680C1160 706.7 1166.7 735 1170 760C1173.3 785 1170 818.3 1170 830" stroke-dasharray="60 40"/>
<path d="M1065 640L1130 610"/>
<path d="M1185 575L1240 550"/>
<path d="M960 465L1020 490"/>
<ellipse cx="467" cy="688" rx="28" ry="38" transform="rotate(-20 467 688)" stroke-width="12"/>
<ellipse cx="467" cy="688" rx="15" ry="23" transform="rotate(-20 467 688)"/>
<ellipse cx="578" cy="635" rx="30" ry="40" transform="rotate(-20 578 635)" stroke-width="12"/>
<ellipse cx="578" cy="635" rx="15" ry="23" transform="rotate(-20 578 635)"/>
<path d="M425 670C427.5 666.7 430.8 655 440 650C449.2 645 468.3 638.3 480 640C491.7 641.7 505 656.7 510 660"/>
<path d="M510 655L545 640"/>
<path d="M515 690L550 670" stroke-width="14"/>
<path d="M440 720C445 724.2 458.3 741.7 470 745C481.7 748.3 490 749.2 510 740C530 730.8 571.7 705 590 690C608.3 675 615 656.7 620 650"/>
<path d="M545 600C550.8 597.5 568.3 583.3 580 585C591.7 586.7 608.3 599.2 615 610C621.7 620.8 619.2 643.3 620 650"/>
<path d="M325 640L425 680"/>
<path d="M330 640L400 620L500 600L520 575"/>
<path d="M330 690C336.7 691.7 355 699.2 370 700C385 700.8 411.7 695.8 420 695"/>
<path d="M520 740L800 820L820 810L810 790L660 675"/>
<path d="M600 720L955 965"/>
<path d="M745 625L810 790"/>
<path d="M660 640L745 620"/>
<path d="M500 470L520 520L545 480"/>
<path d="M595 520L605 545"/>
<path d="M215 625L215 920"/>
<path d="M330 700L335 930"/>
<path d="M215 622L300 655L330 700"/>
<path d="M210 915C212.5 920.8 214.2 942.2 225 950C235.8 957.8 258.3 962.8 275 962C291.7 961.2 316.7 947.8 325 945"/>
<path d="M130 895C135 890.8 148.3 874.2 160 870C171.7 865.8 190.8 867.5 200 870C209.2 872.5 212.5 882.5 215 885"/>
<path d="M0 815L135 895"/>
<path d="M0 990L150 900"/>
<path d="M0 1250L930 725"/>
<path d="M340 950L660 1125"/>
<path d="M0 1245L245 1395"/>
<path d="M410 1280L660 1125"/>
<path d="M285 1466L400 1400"/>
<path d="M1000 970L1230 850"/>
<path d="M1060 1075L1290 955"/>
<path d="M1150 1460L1330 1360"/>
<path d="M0 560L210 630"/>
<ellipse cx="648" cy="1035" rx="30" ry="42" transform="rotate(-20 648 1035)" stroke-width="12"/>
<ellipse cx="648" cy="1035" rx="15" ry="23" transform="rotate(-20 648 1035)"/>
<path d="M615 990L740 900L770 895"/>
<path d="M770 895C776.7 899.2 800 907.5 810 920C820 932.5 827.5 955 830 970C832.5 985 825.8 1003.3 825 1010"/>
<path d="M825 1010L700 1090"/>
<path d="M612 995C611.3 1002.5 605.8 1025.8 608 1040C610.2 1054.2 618 1070.8 625 1080C632 1089.2 639.2 1094.2 650 1095C660.8 1095.8 683.3 1086.7 690 1085"/>
<path d="M650 1095L660 1120"/>
<path d="M845 1015L870 1015"/>
<ellipse cx="240" cy="1425" rx="20" ry="30" transform="rotate(-20 240 1425)"/>
<path d="M200 1390C206.7 1389.2 227.5 1380 240 1385C252.5 1390 267.5 1406.5 275 1420C282.5 1433.5 283.3 1458.3 285 1466"/>
</g>
<g transform="translate(1660 2560) scale(0.35482)" stroke-width="8.5">
<path d="M230 1045L1320 420L1380 400"/>
<path d="M590 1150L790 1045L790 750L1340 430"/>
<path d="M125 0C129.2 16.7 140.8 66.7 150 100C159.2 133.3 170 173.3 180 200C190 226.7 205 250 210 260"/>
<path d="M210 260C206.7 266.7 191.7 283.3 190 300C188.3 316.7 191.7 343.3 200 360C208.3 376.7 229.2 390 240 400C250.8 410 260.8 416.7 265 420"/>
<path d="M265 420L460 650"/>
<path d="M460 650C461.7 658.3 465 681.7 470 700C475 718.3 480 743.3 490 760C500 776.7 516.7 796.7 530 800C543.3 803.3 563.3 783.3 570 780"/>
<path d="M570 780L640 830L850 960"/>
<path d="M850 960C853.3 970 860 1003.3 870 1020C880 1036.7 898.3 1054.2 910 1060C921.7 1065.8 931.7 1060 940 1055C948.3 1050 956.7 1034.2 960 1030"/>
<path d="M960 1030L1270 1160L1290 1135"/>
<path d="M1290 1135C1295 1134.2 1308.3 1124.2 1320 1130C1331.7 1135.8 1355 1155 1360 1170C1365 1185 1356.7 1209.2 1350 1220C1343.3 1230.8 1325 1232.5 1320 1235"/>
<path d="M1320 1235L1691 1440"/>
<path d="M155 0C159.2 20 170 80.8 180 120C190 159.2 201.7 210.8 215 235C228.3 259.2 247.5 249.2 260 265C272.5 280.8 288 310 290 330C292 350 275 375.8 272 385"/>
<path d="M272 385L470 640"/>
<path d="M470 640C478.3 648.3 505.8 673.3 520 690C534.2 706.7 547.5 724.2 555 740C562.5 755.8 563.3 777.5 565 785"/>
<path d="M585 785L650 830L870 955"/>
<path d="M985 1030L1285 1130"/>
<path d="M1360 1170L1691 1350"/>
<path d="M870 955C878.3 955.8 906.7 952.5 920 960C933.3 967.5 939.2 988.3 950 1000C960.8 1011.7 979.2 1025 985 1030"/>
<ellipse cx="240" cy="320" rx="22" ry="32" transform="rotate(-20 240 320)"/>
<ellipse cx="517" cy="745" rx="22" ry="32" transform="rotate(-20 517 745)"/>
<ellipse cx="905" cy="1010" rx="22" ry="32" transform="rotate(-20 905 1010)"/>
<ellipse cx="1330" cy="1185" rx="22" ry="32" transform="rotate(-20 1330 1185)"/>
<ellipse cx="830" cy="395" rx="28" ry="40" transform="rotate(-20 830 395)"/>
<ellipse cx="830" cy="395" rx="40" ry="55" transform="rotate(-20 830 395)"/>
<path d="M745 400L790 405"/>
<path d="M760 400L850 480L940 420L880 375"/>
<path d="M840 470L840 500"/>
<ellipse cx="993" cy="370" rx="15" ry="22" transform="rotate(-20 993 370)"/>
<path d="M880 375L1000 410L1330 470L1691 545"/>
<path d="M940 435L1090 580L1220 590"/>
<path d="M1110 175C1110 146.7 1135 134.2 1150 130C1165 125.8 1170 126.7 1200 150C1230 173.3 1305.8 238.3 1330 270C1354.2 301.7 1345 318.3 1345 340C1345 361.7 1339.2 388.3 1330 400C1320.8 411.7 1320 426.7 1290 410C1260 393.3 1180 339.2 1150 300C1120 260.8 1110 203.3 1110 175Z"/>
<ellipse cx="1145" cy="205" rx="22" ry="32" transform="rotate(-20 1145 205)" stroke-width="12"/>
<ellipse cx="1375" cy="415" rx="25" ry="35" transform="rotate(-20 1375 415)" stroke-width="14"/>
<path d="M1215 330C1218.3 320.8 1227.5 310 1240 315C1252.5 320 1282.5 346.7 1290 360C1297.5 373.3 1291.7 388.3 1285 395C1278.3 401.7 1260.8 404.2 1250 400C1239.2 395.8 1225.8 381.7 1220 370C1214.2 358.3 1211.7 339.2 1215 330Z"/>
<path d="M1230 340C1232.2 334.5 1237.5 327.8 1245 332C1252.5 336.2 1270.8 356.2 1275 365C1279.2 373.8 1274.2 381.2 1270 385C1265.8 388.8 1256.3 391.3 1250 388C1243.7 384.7 1235.3 373 1232 365C1228.7 357 1227.8 345.5 1230 340Z"/>
<path d="M1180 230L1210 220L1230 250L1190 290L1170 260"/>
<path d="M1190 290L1260 270L1310 300"/>
<path d="M1130 290C1130 298.3 1123.3 325 1130 340C1136.7 355 1151.7 371.7 1170 380C1188.3 388.3 1228.3 388.3 1240 390"/>
<path d="M1345 400C1354.2 398.3 1387.5 385 1400 390C1412.5 395 1418.3 418.3 1420 430C1421.7 441.7 1418.3 454.2 1410 460C1401.7 465.8 1376.7 464.2 1370 465"/>
<path d="M1340 0C1343.3 25 1350 100 1360 150C1370 200 1381.7 255 1400 300C1418.3 345 1443.3 386.7 1470 420C1496.7 453.3 1523.2 483.3 1560 500C1596.8 516.7 1669.2 516.7 1691 520"/>
<path d="M1470 0C1471.7 20 1471.7 76.7 1480 120C1488.3 163.3 1503.3 220 1520 260C1536.7 300 1556.7 331.7 1580 360C1603.3 388.3 1641.5 415.8 1660 430C1678.5 444.2 1685.8 442.5 1691 445"/>
<path d="M1540 0C1541.7 16.7 1540 61.7 1550 100C1560 138.3 1576.5 191.7 1600 230C1623.5 268.3 1675.8 313.3 1691 330"/>
<path d="M1620 0C1625 16.7 1638.2 73.3 1650 100C1661.8 126.7 1684.2 150 1691 160"/>
<path d="M1375 245L1455 195"/>
<path d="M1410 350L1691 200"/>
<path d="M1100 0L1150 60L1340 100"/>
<path d="M1290 155L1340 165"/>
<path d="M1300 185L1360 215"/>
<path d="M1150 45L1210 0"/>
<path d="M1335 500L1335 680"/>
<path d="M1450 520L1450 690"/>
<path d="M1300 740C1301.7 746.7 1298.3 769.2 1310 780C1321.7 790.8 1348.3 801.7 1370 805C1391.7 808.3 1423.3 805.8 1440 800C1456.7 794.2 1467.5 786.7 1470 770C1472.5 753.3 1457.5 711.7 1455 700"/>
<path d="M1335 680C1330.8 683.3 1315.8 690 1310 700C1304.2 710 1301.7 733.3 1300 740"/>
<path d="M1350 700C1356.7 701.7 1375 710.8 1390 710C1405 709.2 1431.7 697.5 1440 695"/>
<ellipse cx="1215" cy="665" rx="30" ry="42" transform="rotate(-20 1215 665)" stroke-width="12"/>
<ellipse cx="1215" cy="665" rx="15" ry="23" transform="rotate(-20 1215 665)"/>
<path d="M1180 630L1300 550L1330 520"/>
<path d="M1180 630C1179.2 638.3 1171.7 665.8 1175 680C1178.3 694.2 1189.2 708.3 1200 715C1210.8 721.7 1233.3 719.2 1240 720"/>
<path d="M1240 720L1330 670"/>
<path d="M1060 450C1061.7 458.3 1065 483.3 1070 500C1075 516.7 1086.7 541.7 1090 550"/>
<path d="M1075 440L1110 470L1290 560"/>
<path d="M1100 470L1130 560"/>
<path d="M1090 570L1220 500" stroke-width="12"/>
<path d="M1060 450C1061.7 447.5 1065.8 436.7 1070 435C1074.2 433.3 1082.5 439.2 1085 440"/>
<path d="M1480 790L1650 890L1691 870"/>
<path d="M1310 1120L1691 890"/>
<path d="M1340 1365L1691 1160"/>
<path d="M1320 1130L1691 1310"/>
<path d="M1640 560L1691 600" stroke-width="14"/>
</g>
<g transform="translate(2600 3000) scale(0.35482)" stroke-width="8.5">
<path d="M590 50L610 110L700 130"/>
<path d="M850 310C866.7 315 911.7 335 950 340C988.3 345 1056.7 343.3 1080 340C1103.3 336.7 1075 325 1090 320C1105 315 1146.7 315 1170 310C1193.3 305 1220 293.3 1230 290"/>
<path d="M860 330C883.3 341.7 960 381.7 1000 400C1040 418.3 1083.3 433.3 1100 440"/>
<path d="M1555 0C1555.8 16.7 1554.2 58.3 1560 100C1565.8 141.7 1581.7 213.3 1590 250C1598.3 286.7 1606.7 308.3 1610 320" stroke-width="16"/>
<path d="M1520 0C1521.7 20 1523.3 81.7 1530 120C1536.7 158.3 1555 211.7 1560 230"/>
<path d="M1610 320C1606.7 328.3 1598.3 356.7 1590 370C1581.7 383.3 1565 395 1560 400"/>
<ellipse cx="1535" cy="315" rx="30" ry="45" transform="rotate(-20 1535 315)"/>
<ellipse cx="1535" cy="315" rx="50" ry="65" transform="rotate(-20 1535 315)"/>
<path d="M1580 225L1635 195"/>
<path d="M1600 360L1635 345"/>
<path d="M1480 350C1470 358.3 1436.7 388.3 1420 400C1403.3 411.7 1386.7 416.7 1380 420"/>
<ellipse cx="1265" cy="580" rx="40" ry="55" transform="rotate(-20 1265 580)" stroke-width="13"/>
<ellipse cx="1265" cy="580" rx="22" ry="32" transform="rotate(-20 1265 580)"/>
<path d="M1300 520L1560 390L1580 450L1560 510L1330 625"/>
<path d="M1250 470L1300 380L1340 420L1290 480"/>
<ellipse cx="1245" cy="455" rx="25" ry="35" transform="rotate(-20 1245 455)" stroke-width="13"/>
<path d="M1200 340L1240 400"/>
<path d="M1250 330L1290 380"/>
<ellipse cx="1215" cy="500" rx="14" ry="20" transform="rotate(-20 1215 500)" stroke-width="12"/>
<path d="M1210 590C1211.7 596.7 1213.3 620.8 1220 630C1226.7 639.2 1245 642.5 1250 645" stroke-width="13"/>
<path d="M1350 620L1360 680L1440 680L1425 590"/>
<path d="M1400 600L1405 690"/>
<path d="M1540 520L1635 470"/>
<path d="M1635 630C1627.5 638.3 1600.8 658.3 1590 680C1579.2 701.7 1581.7 735 1570 760C1558.3 785 1528.3 818.3 1520 830"/>
<path d="M1440 810L1500 780"/>
<path d="M390 235C400 227.5 406.7 235.8 430 225C453.3 214.2 501.7 176.7 530 170C558.3 163.3 561.7 171.7 600 185C638.3 198.3 726.7 235.8 760 250C793.3 264.2 781.7 256.7 800 270C818.3 283.3 821.7 301.7 870 330C918.3 358.3 1048.3 428.3 1090 440C1131.7 451.7 1108.3 406.7 1120 400C1131.7 393.3 1146.7 391.7 1160 400C1173.3 408.3 1191.7 430 1200 450C1208.3 470 1207.5 495 1210 520C1212.5 545 1201.7 576.7 1215 600C1228.3 623.3 1270.8 626.7 1290 660C1309.2 693.3 1321.7 760 1330 800C1338.3 840 1340 871.7 1340 900C1340 928.3 1338.3 955.8 1330 970C1321.7 984.2 1303.3 986.7 1290 985C1276.7 983.3 1291.7 940.8 1250 960C1208.3 979.2 1080 1068.3 1040 1100C1000 1131.7 1021.7 1145 1010 1150C998.3 1155 981.7 1143.3 970 1130C958.3 1116.7 985 1100 940 1070C895 1040 743.3 965 700 950C656.7 935 690 975.8 680 980C670 984.2 653.3 985 640 975C626.7 965 620 935.8 600 920C580 904.2 538.3 881.7 520 880C501.7 878.3 501.7 907.5 490 910C478.3 912.5 461.7 906.7 450 895C438.3 883.3 445 869.2 420 840C395 810.8 326.7 745 300 720C273.3 695 273.3 703.3 260 690C246.7 676.7 228.3 658.3 220 640C211.7 621.7 206.7 606.7 210 580C213.3 553.3 211.7 521.7 240 480C268.3 438.3 358.3 365 380 330C401.7 295 368.3 285.8 370 270C371.7 254.2 380 242.5 390 235Z"/>
<path d="M440 330C465 298.3 460 269.2 480 250C500 230.8 523.3 212.5 560 215C596.7 217.5 663.3 249.2 700 265C736.7 280.8 753.3 294.2 780 310C806.7 325.8 810 333.3 860 360C910 386.7 1026.7 443.3 1080 470C1133.3 496.7 1160 491.7 1180 520C1200 548.3 1185 610 1200 640C1215 670 1251.7 668.3 1270 700C1288.3 731.7 1305 793.3 1310 830C1315 866.7 1318.3 891.7 1300 920C1281.7 948.3 1243.3 976.7 1200 1000C1156.7 1023.3 1120 1075 1040 1060C960 1045 800 946.7 720 910C640 873.3 606.7 858.3 560 840C513.3 821.7 481.7 826.7 440 800C398.3 773.3 340 713.3 310 680C280 646.7 266.7 626.7 260 600C253.3 573.3 258.3 546.7 270 520C281.7 493.3 301.7 471.7 330 440C358.3 408.3 415 361.7 440 330Z"/>
<ellipse cx="413" cy="285" rx="22" ry="32" transform="rotate(-20 413 285)" stroke-width="12"/>
<ellipse cx="795" cy="285" rx="22" ry="32" transform="rotate(-20 795 285)" stroke-width="12"/>
<ellipse cx="1145" cy="450" rx="22" ry="32" transform="rotate(-20 1145 450)"/>
<ellipse cx="1305" cy="930" rx="22" ry="32" transform="rotate(-20 1305 930)"/>
<ellipse cx="990" cy="1095" rx="22" ry="32" transform="rotate(-20 990 1095)"/>
<ellipse cx="628" cy="930" rx="22" ry="32" transform="rotate(-20 628 930)"/>
<ellipse cx="458" cy="860" rx="22" ry="32" transform="rotate(-20 458 860)"/>
<ellipse cx="255" cy="630" rx="22" ry="32" transform="rotate(-20 255 630)" stroke-width="12"/>
<ellipse cx="520" cy="520" rx="40" ry="62" transform="rotate(-20 520 520)" stroke-width="12"/>
<ellipse cx="660" cy="565" rx="70" ry="105" transform="rotate(-20 660 565)" stroke-width="12"/>
<ellipse cx="668" cy="565" rx="48" ry="75" transform="rotate(-20 668 565)"/>
<ellipse cx="672" cy="560" rx="25" ry="40" transform="rotate(-20 672 560)"/>
<ellipse cx="675" cy="560" rx="15" ry="27" transform="rotate(-20 675 560)"/>
<path d="M410 350C416.7 355 431.7 368.3 450 380C468.3 391.7 501.7 405 520 420C538.3 435 553.3 461.7 560 470"/>
<path d="M405 420C407.5 433.3 412.5 470 420 500C427.5 530 436.7 570 450 600C463.3 630 481.7 660 500 680C518.3 700 543.3 716.7 560 720C576.7 723.3 592.5 711.7 600 700C607.5 688.3 604.2 658.3 605 650"/>
<path d="M430 400C431.7 413.3 433.3 450 440 480C446.7 510 456.7 551.7 470 580C483.3 608.3 505 636.7 520 650C535 663.3 553.3 658.3 560 660"/>
<path d="M510 740C518.3 743.3 545 763.3 560 760C575 756.7 591.7 736.7 600 720C608.3 703.3 608.3 670 610 660"/>
<path d="M400 350L450 370"/>
<path d="M505 740L535 715"/>
<path d="M760 380C758.3 400 745 460 750 500C755 540 771.7 583.3 790 620C808.3 656.7 833.3 691.7 860 720C886.7 748.3 920 775 950 790C980 805 1015 810 1040 810C1065 810 1083.3 801.7 1100 790C1116.7 778.3 1131.7 763.3 1140 740C1148.3 716.7 1151.7 680 1150 650C1148.3 620 1136.7 585 1130 560C1123.3 535 1113.3 510 1110 500"/>
<path d="M800 380C800 395 796.7 440 800 470C803.3 500 816.7 545 820 560"/>
<path d="M830 380C831.7 396.7 845 458.3 840 480C835 501.7 805 495 800 510C795 525 800 555 810 570C820 585 845 581.7 860 600C875 618.3 886.7 656.7 900 680C913.3 703.3 926.7 726.7 940 740C953.3 753.3 970 763.3 980 760C990 756.7 988.3 725 1000 720C1011.7 715 1035 730 1050 730C1065 730 1083.3 735 1090 720C1096.7 705 1091.7 660 1090 640C1088.3 620 1078.3 613.3 1080 600C1081.7 586.7 1103.3 576.7 1100 560C1096.7 543.3 1071.7 513.3 1060 500C1048.3 486.7 1035 483.3 1030 480"/>
<path d="M860 400L865 570L900 580"/>
<path d="M870 590L950 550L970 580L940 680"/>
<path d="M930 690L990 660"/>
<ellipse cx="742" cy="430" rx="15" ry="22" transform="rotate(-20 742 430)"/>
<ellipse cx="1160" cy="675" rx="15" ry="22" transform="rotate(-20 1160 675)"/>
<path d="M880 470C886.7 478.3 908.3 498.3 920 520C931.7 541.7 943.3 573.3 950 600C956.7 626.7 958.3 666.7 960 680"/>
<ellipse cx="235" cy="140" rx="30" ry="45" transform="rotate(-20 235 140)" stroke-width="12"/>
<ellipse cx="235" cy="140" rx="45" ry="62" transform="rotate(-20 235 140)"/>
<path d="M260 205L420 120L440 150L290 230"/>
<path d="M280 215L430 135"/>
<path d="M165 0C169.2 10 184.2 45 190 60C195.8 75 198.3 85 200 90"/>
<path d="M40 190L190 100"/>
<path d="M0 590L190 490"/>
<path d="M0 660L60 640L150 600"/>
<path d="M270 570L400 500"/>
<path d="M310 680L440 610"/>
<path d="M0 0C5 16.7 23.3 66.7 30 100C36.7 133.3 40 166.7 40 200C40 233.3 31.7 283.3 30 300"/>
<ellipse cx="40" cy="260" rx="25" ry="38" transform="rotate(-20 40 260)"/>
<path d="M0 320C6.7 318.3 26.7 315 40 310C53.3 305 73.3 293.3 80 290"/>
<path d="M80 290L70 230L50 190"/>
<path d="M30 300C28.3 316.7 25 366.7 20 400C15 433.3 3.3 483.3 0 500"/>
<path d="M300 0C305 10 313.3 43.3 330 60C346.7 76.7 375 90 400 100C425 110 446.7 110 480 120C513.3 130 580 153.3 600 160"/>
<ellipse cx="40" cy="775" rx="22" ry="35" transform="rotate(-20 40 775)"/>
<ellipse cx="40" cy="775" rx="38" ry="55" transform="rotate(-20 40 775)"/>
<path d="M60 650C61.7 661.7 63.3 698.3 70 720C76.7 741.7 95 770 100 780"/>
<path d="M140 610L150 690L180 710"/>
<ellipse cx="265" cy="885" rx="125" ry="175" transform="rotate(-20 265 885)"/>
<ellipse cx="265" cy="885" rx="100" ry="148" transform="rotate(-20 265 885)"/>
<path d="M290 780C293.3 791.7 300 830 310 850C320 870 340 886.7 350 900C360 913.3 366.7 925 370 930"/>
<path d="M105 800C105.8 813.3 105.8 860 110 880C114.2 900 120 910 130 920C140 930 163.3 936.7 170 940"/>
<path d="M200 695C210 695.8 238.3 689.2 260 700C281.7 710.8 308.3 733.3 330 760C351.7 786.7 376.7 826.7 390 860C403.3 893.3 405 935 410 960C415 985 418.3 1001.7 420 1010"/>
<path d="M430 1000C433.3 1010 438.3 1044.2 450 1060C461.7 1075.8 475 1087.5 500 1095C525 1102.5 583.3 1103.3 600 1105"/>
<path d="M600 1105L860 1250L920 1255L960 1230"/>
<path d="M960 1230L1000 1150"/>
<path d="M555 1000L655 1050L655 1090L555 1040Z"/>
<path d="M920 1255L1240 1110L1380 1135"/>
<path d="M1035 1130L1250 965" stroke-width="14"/>
<path d="M1060 1130L1260 990"/>
<path d="M1140 1100L1300 1020L1400 1140"/>
<path d="M1280 1075L1340 1080"/>
<ellipse cx="1490" cy="1120" rx="38" ry="58" transform="rotate(-20 1490 1120)"/>
<ellipse cx="1490" cy="1120" rx="25" ry="42" transform="rotate(-20 1490 1120)"/>
<ellipse cx="1500" cy="1105" rx="90" ry="115" transform="rotate(-30 1500 1105)"/>
<path d="M1600 1100C1605 1110 1624.2 1146.7 1630 1160C1635.8 1173.3 1634.2 1176.7 1635 1180"/>
<path d="M1570 820L1585 1100"/>
<path d="M1340 885C1353.3 882.5 1396.7 877.5 1420 870C1443.3 862.5 1463.3 843.3 1480 840C1496.7 836.7 1512.5 840 1520 850C1527.5 860 1528.3 887.5 1525 900C1521.7 912.5 1529.2 916.7 1500 925C1470.8 933.3 1375 945.8 1350 950"/>
</g>
<path d="M2707.5 3376L2707.5 3489"/>
<g transform="translate(2150 3000) scale(0.35482)" stroke-width="8.5">
<path d="M300 200L360 235L420 250L560 340L600 350L640 345L790 295L820 300L840 330"/>
<path d="M440 235L540 295"/>
<ellipse cx="380" cy="195" rx="22" ry="32" transform="rotate(-20 380 195)"/>
<path d="M355 165C361.7 162.5 384.2 145.8 395 150C405.8 154.2 415 176.7 420 190C425 203.3 424.2 223.3 425 230"/>
<path d="M550 225L550 300"/>
<path d="M570 225L570 300L600 310L750 270L765 240L765 225"/>
<path d="M590 300L700 228"/>
<path d="M800 260C805 256.7 824.7 245.8 830 240C835.3 234.2 831.7 227.5 832 225"/>
<path d="M840 330C845 341.7 855 375 870 400C885 425 908.3 455 930 480C951.7 505 978.3 531.7 1000 550C1021.7 568.3 1041.7 580 1060 590C1078.3 600 1097.5 600 1110 610C1122.5 620 1125.8 635.8 1135 650C1144.2 664.2 1152.5 686.7 1165 695C1177.5 703.3 1200 705.8 1210 700C1220 694.2 1224.2 676.7 1225 660C1225.8 643.3 1210.8 620 1215 600C1219.2 580 1240 560 1250 540C1260 520 1270 506.7 1275 480C1280 453.3 1277.5 406.7 1280 380C1282.5 353.3 1280 332.5 1290 320C1300 307.5 1330 316.7 1340 305C1350 293.3 1355 270.8 1350 250C1345 229.2 1316.7 191.7 1310 180"/>
<path d="M850 225C849.2 230.8 840 234.2 845 260C850 285.8 864.2 345 880 380C895.8 415 918.3 443.3 940 470C961.7 496.7 986.7 521.7 1010 540C1033.3 558.3 1055 572.5 1080 580C1105 587.5 1138.3 588.3 1160 585C1181.7 581.7 1196.7 574.2 1210 560C1223.3 545.8 1232.5 523.3 1240 500C1247.5 476.7 1254.2 446.7 1255 420C1255.8 393.3 1254.2 363.3 1245 340C1235.8 316.7 1207.5 290 1200 280"/>
<ellipse cx="1120" cy="285" rx="100" ry="140" transform="rotate(-22 1120 285)"/>
<ellipse cx="1125" cy="285" rx="85" ry="125" transform="rotate(-22 1125 285)"/>
<path d="M1130 410C1138.3 413.3 1163.3 430 1180 430C1196.7 430 1221.7 413.3 1230 410"/>
<path d="M1190 230L1250 200"/>
<path d="M1150 430L1240 500"/>
<ellipse cx="1250" cy="275" rx="20" ry="30" transform="rotate(-20 1250 275)"/>
<ellipse cx="1250" cy="275" rx="30" ry="40" transform="rotate(-20 1250 275)"/>
<ellipse cx="1175" cy="645" rx="22" ry="32" transform="rotate(-20 1175 645)"/>
<path d="M1215 610L1268 584"/>
<path d="M1225 690L1268 672"/>
<path d="M1255 760C1256.2 755 1259.8 735.8 1262 730C1264.2 724.2 1267 725.8 1268 725"/>
</g>
<g transform="translate(2050 2440) scale(0.23655)" stroke-width="12.7">
<path d="M365 480L385 400L430 310L500 260L600 238L700 248L780 290L830 350L880 440L940 600L1010 740L1060 840L1110 950L1140 1030L1160 1050L1150 1150L1110 1230L1040 1300L960 1330L850 1325L760 1300L660 1240L560 1150L480 1030L430 900L400 760L375 600Z" fill="#fff" stroke="none"/>
<path d="M365 480C368.3 466.7 374.2 428.3 385 400C395.8 371.7 410.8 333.3 430 310C449.2 286.7 471.7 272 500 260C528.3 248 566.7 240 600 238C633.3 236 670 239.3 700 248C730 256.7 758.3 273 780 290C801.7 307 813.3 325 830 350C846.7 375 871.7 425 880 440"/>
<path d="M365 480C366.7 500 369.2 553.3 375 600C380.8 646.7 390.8 710 400 760C409.2 810 416.7 855 430 900C443.3 945 458.3 988.3 480 1030C501.7 1071.7 530 1115 560 1150C590 1185 626.7 1215 660 1240C693.3 1265 728.3 1285.8 760 1300C791.7 1314.2 820 1322.5 850 1325C880 1327.5 911.7 1324.2 940 1315C968.3 1305.8 995 1289.2 1020 1270C1045 1250.8 1070 1225 1090 1200C1110 1175 1128.3 1145 1140 1120C1151.7 1095 1156.7 1061.7 1160 1050"/>
<path d="M385 500C386.7 520 389.2 573.3 395 620C400.8 666.7 410.8 731.7 420 780C429.2 828.3 436.7 868.3 450 910C463.3 951.7 478.3 991.7 500 1030C521.7 1068.3 550 1106.7 580 1140C610 1173.3 663.3 1215 680 1230"/>
<path d="M700 470C690 475 658.3 486.7 640 500C621.7 513.3 603.3 530 590 550C576.7 570 565.8 591.7 560 620C554.2 648.3 551.7 681.7 555 720C558.3 758.3 567.5 808.3 580 850C592.5 891.7 610 933.3 630 970C650 1006.7 673.3 1040 700 1070C726.7 1100 760 1129.2 790 1150C820 1170.8 851.7 1185.8 880 1195C908.3 1204.2 946.7 1203.3 960 1205" stroke-width="20"/>
<path d="M960 1205C966.7 1197.5 988.3 1180.8 1000 1160C1011.7 1139.2 1023.3 1098.3 1030 1080C1036.7 1061.7 1038.3 1055 1040 1050"/>
<path d="M690 480C683.3 493.3 657.5 526.7 650 560C642.5 593.3 641.7 640 645 680C648.3 720 657.5 760 670 800C682.5 840 700 883.3 720 920C740 956.7 765 990 790 1020C815 1050 843.3 1080 870 1100C896.7 1120 928.3 1131.7 950 1140C971.7 1148.3 991.7 1148.3 1000 1150"/>
<path d="M775 500C776.7 516.7 777.5 563.3 785 600C792.5 636.7 805.8 681.7 820 720C834.2 758.3 850 796.7 870 830C890 863.3 916.7 893.3 940 920C963.3 946.7 993.3 975 1010 990C1026.7 1005 1035 1006.7 1040 1010"/>
<path d="M700 470C713.3 471.7 753.3 471.7 780 480C806.7 488.3 836.7 503.3 860 520C883.3 536.7 906.7 563.3 920 580C933.3 596.7 936.7 613.3 940 620"/>
<path d="M720 490C716.7 501.7 703.3 533.3 700 560C696.7 586.7 696.7 616.7 700 650C703.3 683.3 710 723.3 720 760C730 796.7 743.3 835 760 870C776.7 905 798.3 940 820 970C841.7 1000 866.7 1028.3 890 1050C913.3 1071.7 938.3 1088.3 960 1100C981.7 1111.7 1010 1116.7 1020 1120"/>
<path d="M1010 1040L1040 1020L1130 1040L1160 1050"/>
<path d="M1000 1160C1003.3 1153.3 1015 1135 1020 1120C1025 1105 1008.3 1077.5 1030 1070C1051.7 1062.5 1130 1074.2 1150 1075"/>
<path d="M940 600C943.3 610 948.3 636.7 960 660C971.7 683.3 993.3 710 1010 740C1026.7 770 1043.3 805 1060 840C1076.7 875 1096.7 918.3 1110 950C1123.3 981.7 1135 1016.7 1140 1030"/>
<path d="M630 250L695 445" stroke-width="22"/>
<path d="M1000 1160L985 1210L930 1290L850 1320"/>
<path d="M430 865L530 805"/>
<path d="M385 1020L435 995"/>
<path d="M440 1060L860 830"/>
<path d="M1040 1030L1110 990"/>
<path d="M650 600L700 640L700 670L655 680"/>
<path d="M820 240C823.3 230.8 830.8 220 850 235C869.2 250 920 307.5 935 330C950 352.5 943.3 361.7 940 370C936.7 378.3 925 383.3 915 380C905 376.7 894.2 365 880 350C865.8 335 840 308.3 830 290C820 271.7 816.7 249.2 820 240Z"/>
<ellipse cx="930" cy="470" rx="38" ry="55" transform="rotate(-20 930 470)"/>
<path d="M990 440C993.3 425 998.3 413.3 1020 430C1041.7 446.7 1086.7 501.7 1120 540C1153.3 578.3 1204.2 630 1220 660C1235.8 690 1221.7 705.8 1215 720C1208.3 734.2 1190.8 745 1180 745C1169.2 745 1166.7 740.8 1150 720C1133.3 699.2 1105 653.3 1080 620C1055 586.7 1015 550 1000 520C985 490 986.7 455 990 440Z"/>
<path d="M980 610C981.7 595 986.7 586.7 1000 600C1013.3 613.3 1043.3 660 1060 690C1076.7 720 1088.3 745 1100 780C1111.7 815 1121.7 863.3 1130 900C1138.3 936.7 1153.3 990 1150 1000C1146.7 1010 1126.7 990 1110 960C1093.3 930 1070 865 1050 820C1030 775 1001.7 725 990 690C978.3 655 978.3 625 980 610Z"/>
<path d="M825 340L850 400" stroke-width="18"/>
<path d="M1010 540L1080 505"/>
</g>
<g transform="translate(2720 2760) scale(0.28386)" stroke-width="10.6">
<path d="M480 190C500 193.3 560 198.3 600 210C640 221.7 678.3 233.3 720 260C761.7 286.7 811.7 326.7 850 370C888.3 413.3 920 465 950 520C980 575 1008.3 640 1030 700C1051.7 760 1070 830 1080 880C1090 930 1091.7 963.3 1090 1000C1088.3 1036.7 1078.3 1071.7 1070 1100C1061.7 1128.3 1045 1158.3 1040 1170"/>
<path d="M350 230C338.3 246.7 297.5 293.3 280 330C262.5 366.7 252.5 411.7 245 450C237.5 488.3 232.5 515 235 560C237.5 605 247.5 666.7 260 720C272.5 773.3 290 831.7 310 880C330 928.3 353.3 970 380 1010C406.7 1050 436.7 1088.3 470 1120C503.3 1151.7 538.3 1176.7 580 1200C621.7 1223.3 675 1246.3 720 1260C765 1273.7 811.7 1283.7 850 1282C888.3 1280.3 918.3 1263.7 950 1250C981.7 1236.3 1025 1208.3 1040 1200"/>
<path d="M330 400C345 388.3 388.3 345.8 420 330C451.7 314.2 483.3 305 520 305C556.7 305 600 310.8 640 330C680 349.2 723.3 381.7 760 420C796.7 458.3 830 506.7 860 560C890 613.3 919.2 680 940 740C960.8 800 976.7 868.3 985 920C993.3 971.7 994.2 1015 990 1050C985.8 1085 975 1110 960 1130C945 1150 923.3 1161.7 900 1170C876.7 1178.3 833.3 1178.3 820 1180"/>
<path d="M330 400C325 416.7 305 463.3 300 500C295 536.7 295 576.7 300 620C305 663.3 315 713.3 330 760C345 806.7 365 855 390 900C415 945 446.7 993.3 480 1030C513.3 1066.7 553.3 1097.5 590 1120C626.7 1142.5 661.7 1155 700 1165C738.3 1175 800 1177.5 820 1180"/>
<path d="M350 420C365 411.7 408.3 380 440 370C471.7 360 505 355 540 360C575 365 613.3 376.7 650 400C686.7 423.3 726.7 458.3 760 500C793.3 541.7 825 596.7 850 650C875 703.3 895.8 766.7 910 820C924.2 873.3 933.3 930 935 970C936.7 1010 929.2 1035 920 1060C910.8 1085 886.7 1110 880 1120"/>
<path d="M350 420C345.8 436.7 328.3 481.7 325 520C321.7 558.3 322.5 603.3 330 650C337.5 696.7 351.7 753.3 370 800C388.3 846.7 413.3 890 440 930C466.7 970 496.7 1010 530 1040C563.3 1070 603.3 1094.2 640 1110C676.7 1125.8 718.3 1131.7 750 1135C781.7 1138.3 816.7 1130.8 830 1130" stroke-width="15"/>
<path d="M430 420C441.7 418.3 471.7 406.7 500 410C528.3 413.3 566.7 421.7 600 440C633.3 458.3 668.3 485 700 520C731.7 555 765 603.3 790 650C815 696.7 835 750 850 800C865 850 876.7 910 880 950C883.3 990 871.7 1025 870 1040"/>
<path d="M430 420C426.7 433.3 412.5 466.7 410 500C407.5 533.3 408.3 576.7 415 620C421.7 663.3 432.5 713.3 450 760C467.5 806.7 493.3 860 520 900C546.7 940 576.7 971.7 610 1000C643.3 1028.3 686.7 1055.8 720 1070C753.3 1084.2 795 1082.5 810 1085"/>
<path d="M515 430C517.5 451.7 519.2 515 530 560C540.8 605 558.3 655 580 700C601.7 745 630 790 660 830C690 870 726.7 910 760 940C793.3 970 843.3 998.3 860 1010"/>
<path d="M700 110C725 120 803.3 138.3 850 170C896.7 201.7 941.7 251.7 980 300C1018.3 348.3 1050 401.7 1080 460C1110 518.3 1138.3 585 1160 650C1181.7 715 1199.2 791.7 1210 850C1220.8 908.3 1226.7 955 1225 1000C1223.3 1045 1209.2 1090 1200 1120C1190.8 1150 1175 1170 1170 1180"/>
<path d="M1160 370C1171.7 391.7 1206.7 448.3 1230 500C1253.3 551.7 1280.8 620 1300 680C1319.2 740 1334.2 800 1345 860C1355.8 920 1363.3 985 1365 1040C1366.7 1095 1356.7 1165 1355 1190"/>
<path d="M1300 320C1301.7 333.3 1298.3 366.7 1310 400C1321.7 433.3 1351.7 473.3 1370 520C1388.3 566.7 1407.5 633.3 1420 680C1432.5 726.7 1440 746.7 1445 800C1450 853.3 1450.8 941.7 1450 1000C1449.2 1058.3 1441.7 1125 1440 1150"/>
<path d="M635 1210C645.8 1216.7 669.2 1236.7 700 1250C730.8 1263.3 780 1285 820 1290C860 1295 920 1281.7 940 1280"/>
<path d="M940 1250C950 1251.7 980 1263.3 1000 1260C1020 1256.7 1041.7 1240 1060 1230C1078.3 1220 1101.7 1205 1110 1200"/>
<path d="M310 880C311.7 890 313.3 921.7 320 940C326.7 958.3 333.3 976.7 350 990C366.7 1003.3 408.3 1015 420 1020"/>
<path d="M325 950L365 935"/>
<path d="M250 400C241.7 396.7 217.5 376.7 200 380C182.5 383.3 151.7 405 145 420C138.3 435 145.8 446.7 160 470C174.2 493.3 218.3 545 230 560"/>
<path d="M160 430L240 395"/>
</g>
<g transform="translate(1820 2420) scale(0.17741)" stroke-width="16.9">
<path d="M660 440L760 440L880 500L1000 610L1100 760L1170 920L1210 1080L1215 1200L1180 1290L1120 1340L1040 1355L950 1340L850 1280L740 1170L640 1020L560 860L510 720L510 600L550 510L600 460Z" fill="#fff" stroke="none"/>
<path d="M660 440C686.7 436.7 723.3 430 760 440C796.7 450 840 471.7 880 500C920 528.3 963.3 566.7 1000 610C1036.7 653.3 1071.7 708.3 1100 760C1128.3 811.7 1151.7 866.7 1170 920C1188.3 973.3 1202.5 1033.3 1210 1080C1217.5 1126.7 1220 1165 1215 1200C1210 1235 1195.8 1266.7 1180 1290C1164.2 1313.3 1143.3 1329.2 1120 1340C1096.7 1350.8 1068.3 1355 1040 1355C1011.7 1355 981.7 1352.5 950 1340C918.3 1327.5 885 1308.3 850 1280C815 1251.7 775 1213.3 740 1170C705 1126.7 670 1071.7 640 1020C610 968.3 581.7 910 560 860C538.3 810 518.3 763.3 510 720C501.7 676.7 503.3 635 510 600C516.7 565 535 533.3 550 510C565 486.7 581.7 471.7 600 460C618.3 448.3 633.3 443.3 660 440Z"/>
<path d="M620 470C613.3 481.7 589.2 511.7 580 540C570.8 568.3 564.2 600 565 640C565.8 680 572.5 733.3 585 780C597.5 826.7 617.5 873.3 640 920C662.5 966.7 690 1016.7 720 1060C750 1103.3 786.7 1145 820 1180C853.3 1215 888.3 1248.3 920 1270C951.7 1291.7 980 1302.5 1010 1310C1040 1317.5 1076.7 1320 1100 1315C1123.3 1310 1141.7 1285.8 1150 1280"/>
<path d="M700 450C700.8 468.3 698.3 518.3 705 560C711.7 601.7 724.2 651.7 740 700C755.8 748.3 776.7 803.3 800 850C823.3 896.7 850 938.3 880 980C910 1021.7 946.7 1065 980 1100C1013.3 1135 1048.3 1165 1080 1190C1111.7 1215 1155 1240 1170 1250" stroke-width="22"/>
<path d="M0 1400L1065 785"/>
<path d="M0 1412L480 1155" stroke-width="12"/>
<path d="M1145 735L1225 690"/>
<path d="M1335 620L1450 555"/>
<path d="M320 590C322.5 608.3 326.7 655 335 700C343.3 745 355.8 810 370 860C384.2 910 401.7 960 420 1000C438.3 1040 460 1066.7 480 1100C500 1133.3 513.3 1165 540 1200C566.7 1235 610 1276.7 640 1310C670 1343.3 706.7 1385 720 1400"/>
<path d="M290 745L340 790"/>
<path d="M0 995L340 795"/>
<path d="M320 910L370 895L440 1070L390 1090Z"/>
<path d="M490 1100L490 1240"/>
<path d="M720 1400L740 1440L690 1500"/>
</g>
<path d="M1725.6 2721.4L1821 2667.8"/>
<path d="M1738.7 2638.8L1821 2596"/>
</g>
</svg>
</body></html>
